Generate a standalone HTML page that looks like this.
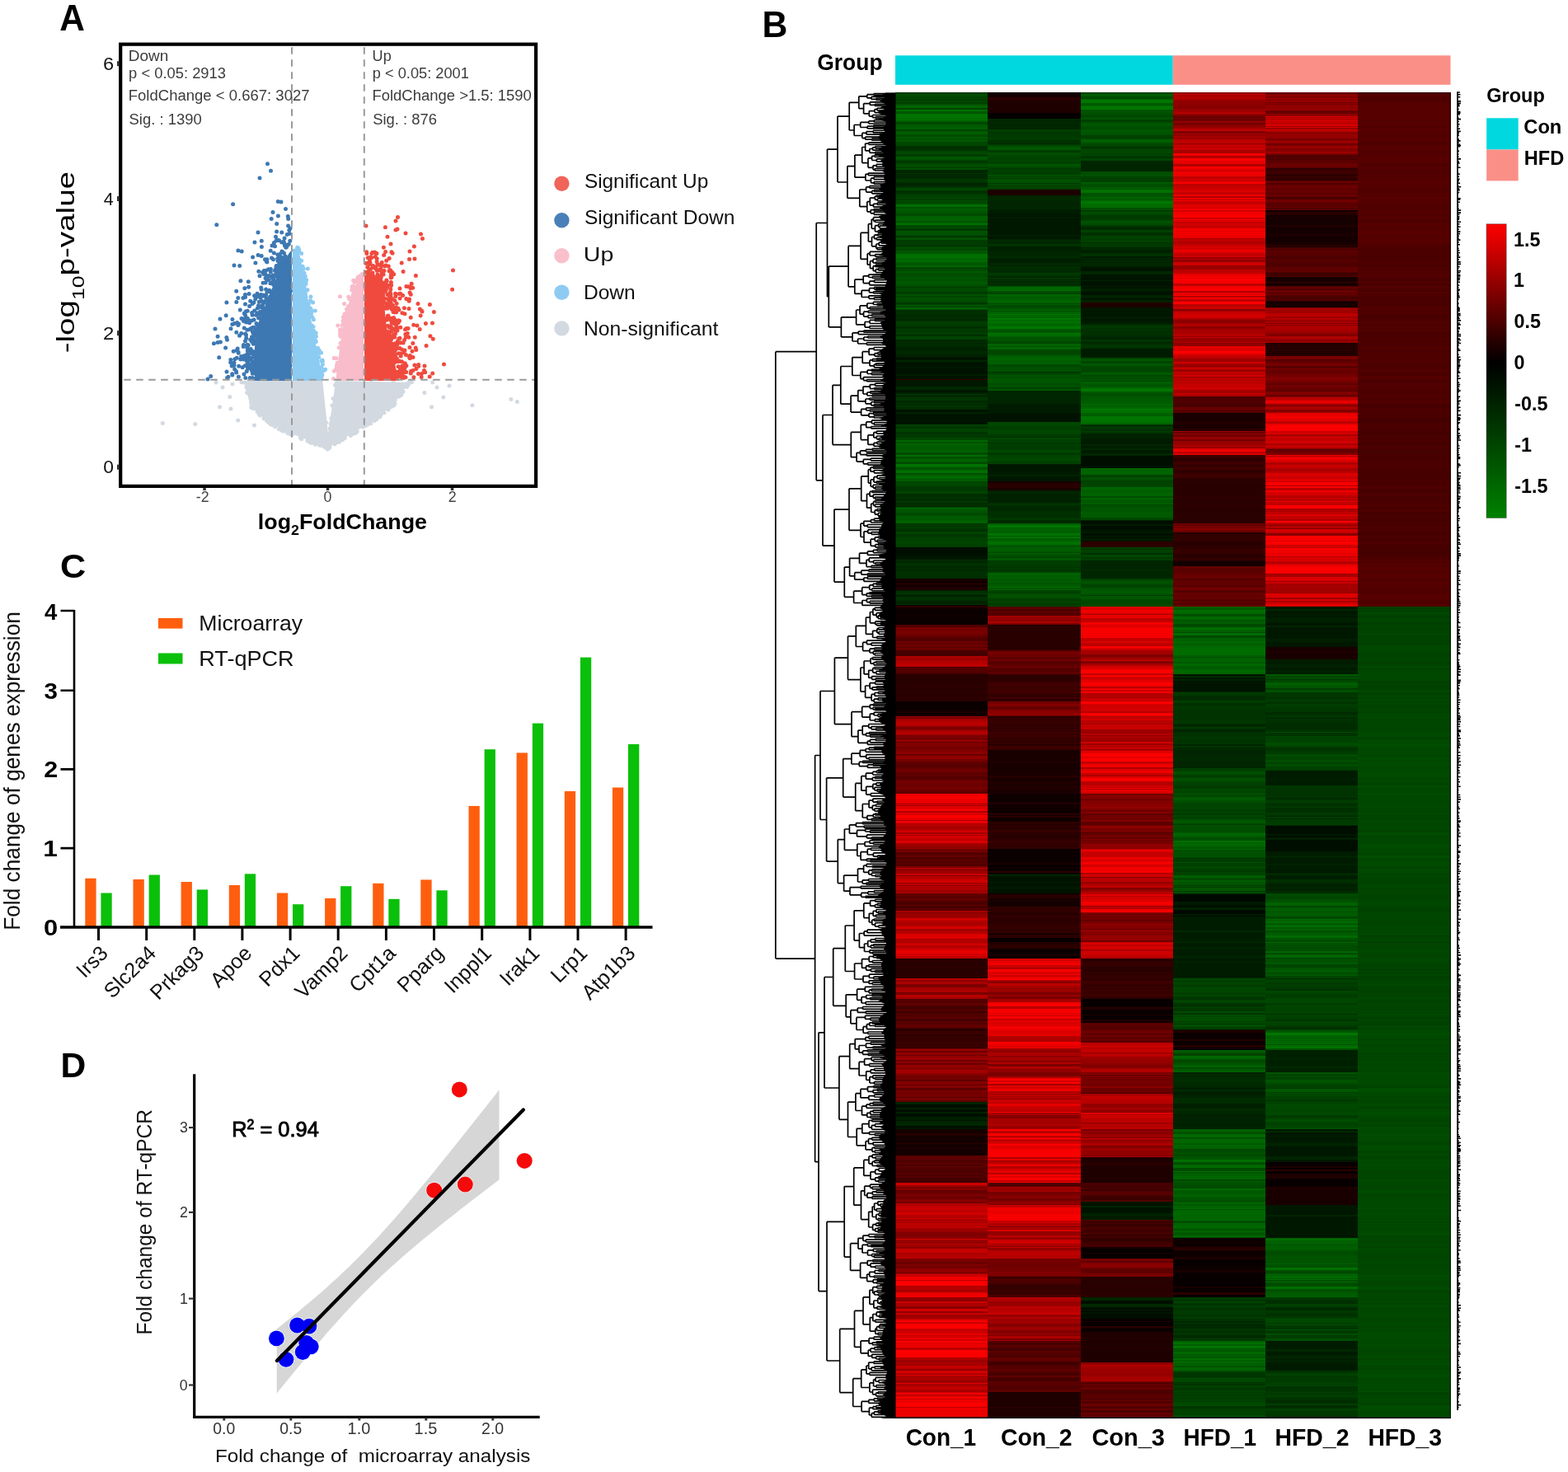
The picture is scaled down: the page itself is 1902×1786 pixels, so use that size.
<!DOCTYPE html>
<html><head><meta charset="utf-8"><style>
html,body{margin:0;padding:0;background:#fff;}
body{width:1902px;height:1786px;position:relative;overflow:hidden;font-family:"Liberation Sans", Arial, Helvetica, sans-serif;}
.hc{position:absolute;}
svg{position:absolute;left:0;top:0;}
text{font-family:"Liberation Sans", Arial, Helvetica, sans-serif;white-space:pre;}
</style></head><body>
<div class="hc" style="left:1086.00px;top:112px;width:112.25px;height:1609px;background:linear-gradient(#004a00 0px 1px,#005300 1px 2px,#004c00 2px 5px,#004400 5px 8px,#004600 8px 9px,#003700 9px 10px,#004700 10px 12px,#003e00 12px 14px,#005100 14px 16px,#006400 16px 18px,#006200 18px 19px,#004100 19px 20px,#004800 20px 21px,#006600 21px 22px,#007600 22px 23px,#005700 23px 26px,#006f00 26px 27px,#007400 27px 31px,#006b00 31px 33px,#007600 33px 34px,#006200 34px 35px,#005c00 35px 36px,#004700 36px 39px,#005a00 39px 42px,#005f00 42px 45px,#004400 45px 47px,#005800 47px 48px,#005e00 48px 50px,#005600 50px 52px,#004a00 52px 54px,#005c00 54px 56px,#004c00 56px 57px,#005700 57px 60px,#004700 60px 63px,#004300 63px 64px,#004800 64px 65px,#003000 65px 66px,#003400 66px 67px,#002f00 67px 70px,#003700 70px 71px,#004300 71px 73px,#004b00 73px 75px,#003c00 75px 78px,#005700 78px 80px,#005300 80px 82px,#004400 82px 83px,#003900 83px 85px,#003f00 85px 87px,#004c00 87px 89px,#005300 89px 90px,#004200 90px 92px,#004f00 92px 93px,#004e00 93px 94px,#002700 94px 98px,#003200 98px 99px,#002700 99px 102px,#002800 102px 105px,#003700 105px 109px,#002d00 109px 110px,#002600 110px 114px,#003200 114px 116px,#004500 116px 119px,#003300 119px 120px,#003100 120px 123px,#003900 123px 124px,#004100 124px 128px,#004d00 128px 129px,#003600 129px 130px,#004500 130px 133px,#004900 133px 136px,#006e00 136px 139px,#005100 139px 141px,#005d00 141px 143px,#005b00 143px 144px,#005600 144px 147px,#004a00 147px 150px,#006000 150px 154px,#006500 154px 155px,#005b00 155px 157px,#005100 157px 158px,#006200 158px 159px,#006f00 159px 161px,#005100 161px 162px,#004600 162px 164px,#005100 164px 165px,#003700 165px 166px,#003c00 166px 168px,#005100 168px 171px,#005000 171px 173px,#004e00 173px 174px,#003400 174px 176px,#005200 176px 179px,#003c00 179px 184px,#003900 184px 188px,#005300 188px 189px,#004700 189px 192px,#005500 192px 196px,#007000 196px 199px,#006e00 199px 200px,#006d00 200px 202px,#006200 202px 204px,#007300 204px 205px,#006100 205px 207px,#005600 207px 210px,#006200 210px 211px,#006600 211px 212px,#004600 212px 215px,#004d00 215px 217px,#005700 217px 219px,#005000 219px 220px,#004b00 220px 221px,#004e00 221px 224px,#005100 224px 225px,#005c00 225px 226px,#005100 226px 229px,#005700 229px 233px,#004e00 233px 236px,#003a00 236px 237px,#004900 237px 239px,#004800 239px 242px,#003d00 242px 245px,#005100 245px 247px,#004600 247px 248px,#004100 248px 249px,#005200 249px 251px,#004c00 251px 254px,#004700 254px 255px,#003800 255px 257px,#004100 257px 258px,#005f00 258px 259px,#004700 259px 261px,#006100 261px 263px,#004d00 263px 264px,#002e00 264px 266px,#003000 266px 269px,#002a00 269px 272px,#002800 272px 273px,#003300 273px 274px,#002800 274px 276px,#002e00 276px 278px,#003d00 278px 281px,#003600 281px 282px,#003f00 282px 283px,#003900 283px 284px,#002e00 284px 287px,#003f00 287px 288px,#003900 288px 291px,#003e00 291px 294px,#002e00 294px 296px,#004300 296px 300px,#002200 300px 301px,#002b00 301px 304px,#002700 304px 306px,#002b00 306px 308px,#002700 308px 310px,#002300 310px 312px,#002000 312px 313px,#002800 313px 317px,#002500 317px 319px,#001b00 319px 320px,#002700 320px 321px,#001300 321px 325px,#002500 325px 327px,#001300 327px 333px,#001900 333px 334px,#001300 334px 336px,#001600 336px 337px,#001300 337px 342px,#001e00 342px 344px,#001300 344px 348px,#3c0000 348px 349px,#001700 349px 352px,#001800 352px 353px,#001700 353px 357px,#002800 357px 361px,#001700 361px 364px,#002000 364px 366px,#003800 366px 367px,#002800 367px 370px,#003600 370px 374px,#002900 374px 377px,#003200 377px 378px,#002e00 378px 380px,#003300 380px 382px,#002c00 382px 385px,#001300 385px 388px,#002100 388px 390px,#001300 390px 396px,#001400 396px 399px,#001300 399px 403px,#004200 403px 405px,#003700 405px 407px,#003300 407px 408px,#004300 408px 412px,#003400 412px 415px,#003900 415px 419px,#004600 419px 422px,#006700 422px 423px,#006a00 423px 424px,#004c00 424px 425px,#005400 425px 426px,#006200 426px 428px,#005b00 428px 430px,#005c00 430px 431px,#005b00 431px 434px,#006000 434px 437px,#004a00 437px 440px,#006e00 440px 442px,#004b00 442px 444px,#005600 444px 445px,#006200 445px 448px,#005300 448px 449px,#004b00 449px 451px,#007300 451px 454px,#006800 454px 455px,#005400 455px 458px,#006500 458px 459px,#006f00 459px 462px,#004b00 462px 464px,#006500 464px 465px,#005e00 465px 466px,#006c00 466px 468px,#005c00 468px 470px,#005800 470px 471px,#006000 471px 472px,#004300 472px 473px,#004400 473px 474px,#004a00 474px 476px,#004300 476px 479px,#003400 479px 480px,#003a00 480px 484px,#004400 484px 487px,#002e00 487px 491px,#003600 491px 492px,#003500 492px 493px,#002900 493px 494px,#002d00 494px 496px,#003a00 496px 498px,#002b00 498px 500px,#003100 500px 501px,#002b00 501px 503px,#004700 503px 504px,#006100 504px 506px,#005400 506px 509px,#005600 509px 510px,#004b00 510px 514px,#005b00 514px 515px,#005800 515px 519px,#006100 519px 523px,#003100 523px 524px,#003e00 524px 526px,#003700 526px 528px,#004600 528px 529px,#003300 529px 533px,#004200 533px 536px,#003600 536px 539px,#003900 539px 540px,#004000 540px 544px,#004400 544px 548px,#004000 548px 551px,#003900 551px 552px,#000e00 552px 561px,#001300 561px 563px,#001600 563px 565px,#001700 565px 567px,#003200 567px 568px,#002400 568px 569px,#002600 569px 571px,#003100 571px 575px,#002600 575px 576px,#002c00 576px 579px,#002a00 579px 581px,#003000 581px 583px,#002f00 583px 587px,#002d00 587px 590px,#140000 590px 596px,#2c0000 596px 597px,#140000 597px 601px,#270000 601px 603px,#140000 603px 604px,#002300 604px 605px,#002d00 605px 606px,#002b00 606px 607px,#003400 607px 609px,#002900 609px 610px,#002100 610px 612px,#003100 612px 616px,#002900 616px 618px,#002300 618px 621px,#002f00 621px 622px,#0a0000 622px 623px,#2b0000 623px 625px,#150000 625px 627px,#0a0000 627px 633px,#0c0000 633px 637px,#0a0000 637px 646px,#500000 646px 649px,#730000 649px 653px,#790000 653px 657px,#710000 657px 659px,#630000 659px 662px,#4f0000 662px 664px,#520000 664px 666px,#7a0000 666px 667px,#630000 667px 669px,#670000 669px 670px,#6c0000 670px 673px,#570000 673px 674px,#700000 674px 675px,#6c0000 675px 677px,#450000 677px 678px,#4e0000 678px 679px,#450000 679px 683px,#460000 683px 684px,#ac0000 684px 687px,#9b0000 687px 689px,#b00000 689px 691px,#b60000 691px 694px,#c10000 694px 696px,#ba0000 696px 697px,#4e0000 697px 698px,#530000 698px 701px,#540000 701px 703px,#4f0000 703px 705px,#420000 705px 706px,#280000 706px 719px,#2d0000 719px 722px,#280000 722px 726px,#2c0000 726px 728px,#2b0000 728px 730px,#280000 730px 734px,#2d0000 734px 736px,#280000 736px 739px,#0a0000 739px 749px,#0d0000 749px 751px,#1d0000 751px 753px,#0a0000 753px 755px,#180000 755px 757px,#950000 757px 758px,#7e0000 758px 760px,#9d0000 760px 761px,#a90000 761px 763px,#b80000 763px 768px,#a30000 768px 770px,#780000 770px 773px,#970000 773px 775px,#b00000 775px 779px,#a10000 779px 780px,#7b0000 780px 783px,#820000 783px 784px,#610000 784px 785px,#900000 785px 788px,#6b0000 788px 789px,#810000 789px 793px,#8a0000 793px 794px,#670000 794px 795px,#780000 795px 798px,#850000 798px 801px,#8c0000 801px 803px,#690000 803px 804px,#670000 804px 805px,#900000 805px 809px,#780000 809px 812px,#5f0000 812px 815px,#570000 815px 818px,#5b0000 818px 820px,#670000 820px 821px,#6e0000 821px 825px,#650000 825px 826px,#560000 826px 827px,#640000 827px 829px,#5a0000 829px 830px,#560000 830px 832px,#520000 832px 834px,#6f0000 834px 836px,#740000 836px 838px,#6f0000 838px 840px,#6c0000 840px 843px,#7a0000 843px 845px,#6b0000 845px 848px,#5d0000 848px 851px,#f40000 851px 855px,#fc0000 855px 857px,#ea0000 857px 861px,#fc0000 861px 862px,#c50000 862px 864px,#c70000 864px 865px,#af0000 865px 866px,#df0000 866px 870px,#fc0000 870px 872px,#ae0000 872px 874px,#e70000 874px 875px,#d90000 875px 877px,#fc0000 877px 880px,#ec0000 880px 883px,#a50000 883px 884px,#fb0000 884px 886px,#d50000 886px 887px,#b70000 887px 888px,#b60000 888px 890px,#b40000 890px 891px,#a60000 891px 894px,#ba0000 894px 896px,#d20000 896px 898px,#a30000 898px 900px,#d70000 900px 901px,#a30000 901px 902px,#d50000 902px 905px,#ca0000 905px 906px,#bf0000 906px 908px,#db0000 908px 911px,#a50000 911px 913px,#a40000 913px 914px,#910000 914px 917px,#990000 917px 918px,#710000 918px 920px,#760000 920px 922px,#530000 922px 926px,#6a0000 926px 927px,#5c0000 927px 928px,#4f0000 928px 931px,#640000 931px 932px,#520000 932px 935px,#5a0000 935px 936px,#550000 936px 937px,#530000 937px 939px,#810000 939px 941px,#bd0000 941px 942px,#940000 942px 944px,#8d0000 944px 945px,#9f0000 945px 948px,#c60000 948px 950px,#880000 950px 951px,#b80000 951px 955px,#d00000 955px 959px,#960000 959px 960px,#b90000 960px 962px,#960000 962px 963px,#b60000 963px 964px,#ae0000 964px 967px,#ac0000 967px 968px,#9f0000 968px 971px,#af0000 971px 972px,#5c0000 972px 973px,#6a0000 973px 974px,#5b0000 974px 976px,#550000 976px 978px,#630000 978px 979px,#690000 979px 980px,#620000 980px 981px,#4d0000 981px 983px,#4a0000 983px 986px,#680000 986px 987px,#480000 987px 990px,#560000 990px 993px,#a70000 993px 995px,#8b0000 995px 997px,#a20000 997px 999px,#8b0000 999px 1000px,#a40000 1000px 1002px,#ce0000 1002px 1005px,#b00000 1005px 1008px,#ab0000 1008px 1010px,#b20000 1010px 1012px,#d50000 1012px 1015px,#a30000 1015px 1018px,#b70000 1018px 1021px,#dd0000 1021px 1027px,#af0000 1027px 1029px,#b40000 1029px 1033px,#e20000 1033px 1034px,#c20000 1034px 1036px,#ae0000 1036px 1038px,#cd0000 1038px 1041px,#eb0000 1041px 1042px,#e70000 1042px 1045px,#d60000 1045px 1048px,#c10000 1048px 1050px,#bb0000 1050px 1051px,#280000 1051px 1054px,#2a0000 1054px 1056px,#280000 1056px 1058px,#2a0000 1058px 1060px,#2d0000 1060px 1062px,#280000 1062px 1071px,#2c0000 1071px 1073px,#290000 1073px 1075px,#ba0000 1075px 1076px,#b70000 1076px 1077px,#900000 1077px 1079px,#a80000 1079px 1082px,#7e0000 1082px 1085px,#790000 1085px 1086px,#a60000 1086px 1090px,#b80000 1090px 1091px,#a10000 1091px 1092px,#7e0000 1092px 1095px,#b70000 1095px 1098px,#a20000 1098px 1100px,#560000 1100px 1103px,#510000 1103px 1105px,#610000 1105px 1108px,#460000 1108px 1111px,#470000 1111px 1113px,#540000 1113px 1115px,#3f0000 1115px 1117px,#520000 1117px 1119px,#4c0000 1119px 1120px,#540000 1120px 1122px,#5a0000 1122px 1124px,#450000 1124px 1127px,#590000 1127px 1129px,#520000 1129px 1131px,#610000 1131px 1135px,#400000 1135px 1137px,#140000 1137px 1138px,#380000 1138px 1141px,#3c0000 1141px 1143px,#2e0000 1143px 1145px,#320000 1145px 1146px,#3a0000 1146px 1147px,#330000 1147px 1151px,#3a0000 1151px 1154px,#3b0000 1154px 1155px,#320000 1155px 1156px,#310000 1156px 1157px,#3f0000 1157px 1159px,#2c0000 1159px 1160px,#6f0000 1160px 1161px,#980000 1161px 1163px,#6b0000 1163px 1165px,#980000 1165px 1166px,#8e0000 1166px 1168px,#6c0000 1168px 1169px,#940000 1169px 1172px,#a10000 1172px 1174px,#6c0000 1174px 1176px,#9c0000 1176px 1177px,#800000 1177px 1178px,#6b0000 1178px 1180px,#930000 1180px 1183px,#870000 1183px 1186px,#a30000 1186px 1190px,#8b0000 1190px 1192px,#790000 1192px 1194px,#720000 1194px 1198px,#5e0000 1198px 1200px,#850000 1200px 1201px,#820000 1201px 1204px,#5e0000 1204px 1205px,#830000 1205px 1208px,#610000 1208px 1209px,#5a0000 1209px 1211px,#770000 1211px 1212px,#800000 1212px 1213px,#720000 1213px 1216px,#770000 1216px 1217px,#740000 1217px 1219px,#5b0000 1219px 1220px,#790000 1220px 1223px,#5e0000 1223px 1225px,#002300 1225px 1228px,#000e00 1228px 1232px,#002200 1232px 1234px,#000e00 1234px 1237px,#002300 1237px 1239px,#000e00 1239px 1243px,#002000 1243px 1247px,#001700 1247px 1248px,#002300 1248px 1250px,#002700 1250px 1254px,#000e00 1254px 1256px,#001800 1256px 1258px,#140000 1258px 1260px,#150000 1260px 1262px,#140000 1262px 1263px,#240000 1263px 1266px,#140000 1266px 1275px,#2b0000 1275px 1276px,#140000 1276px 1281px,#230000 1281px 1282px,#140000 1282px 1290px,#530000 1290px 1291px,#5e0000 1291px 1295px,#500000 1295px 1299px,#5c0000 1299px 1301px,#4b0000 1301px 1303px,#600000 1303px 1304px,#510000 1304px 1307px,#4d0000 1307px 1311px,#520000 1311px 1314px,#450000 1314px 1315px,#580000 1315px 1316px,#4e0000 1316px 1317px,#490000 1317px 1319px,#410000 1319px 1320px,#420000 1320px 1321px,#400000 1321px 1323px,#c10000 1323px 1324px,#cf0000 1324px 1326px,#9d0000 1326px 1328px,#7c0000 1328px 1330px,#900000 1330px 1331px,#810000 1331px 1332px,#630000 1332px 1333px,#6a0000 1333px 1337px,#7f0000 1337px 1339px,#6e0000 1339px 1342px,#680000 1342px 1343px,#840000 1343px 1344px,#880000 1344px 1346px,#730000 1346px 1348px,#b10000 1348px 1350px,#ae0000 1350px 1351px,#c50000 1351px 1354px,#ca0000 1354px 1356px,#be0000 1356px 1359px,#d10000 1359px 1362px,#b90000 1362px 1363px,#b40000 1363px 1366px,#d30000 1366px 1367px,#aa0000 1367px 1368px,#a70000 1368px 1369px,#ad0000 1369px 1372px,#bf0000 1372px 1374px,#b80000 1374px 1376px,#ba0000 1376px 1377px,#c50000 1377px 1378px,#9f0000 1378px 1381px,#980000 1381px 1383px,#810000 1383px 1387px,#7f0000 1387px 1388px,#870000 1388px 1389px,#8c0000 1389px 1391px,#c40000 1391px 1392px,#b20000 1392px 1393px,#920000 1393px 1397px,#bf0000 1397px 1398px,#9e0000 1398px 1401px,#8e0000 1401px 1403px,#c50000 1403px 1405px,#c60000 1405px 1408px,#ae0000 1408px 1411px,#b50000 1411px 1415px,#840000 1415px 1416px,#7b0000 1416px 1419px,#6b0000 1419px 1422px,#800000 1422px 1424px,#710000 1424px 1427px,#8f0000 1427px 1430px,#900000 1430px 1432px,#6d0000 1432px 1433px,#ae0000 1433px 1434px,#cb0000 1434px 1437px,#ed0000 1437px 1439px,#f80000 1439px 1441px,#b60000 1441px 1442px,#fc0000 1442px 1448px,#b40000 1448px 1451px,#ba0000 1451px 1452px,#ac0000 1452px 1456px,#e80000 1456px 1459px,#f30000 1459px 1462px,#920000 1462px 1464px,#900000 1464px 1466px,#8a0000 1466px 1467px,#cb0000 1467px 1469px,#ad0000 1469px 1473px,#880000 1473px 1476px,#d30000 1476px 1479px,#920000 1479px 1481px,#cb0000 1481px 1483px,#9f0000 1483px 1486px,#a10000 1486px 1488px,#cf0000 1488px 1490px,#fa0000 1490px 1492px,#cc0000 1492px 1494px,#f90000 1494px 1496px,#fc0000 1496px 1500px,#d30000 1500px 1501px,#bb0000 1501px 1502px,#c90000 1502px 1503px,#cf0000 1503px 1504px,#cb0000 1504px 1506px,#f90000 1506px 1507px,#d10000 1507px 1508px,#d40000 1508px 1511px,#ec0000 1511px 1513px,#d40000 1513px 1514px,#d00000 1514px 1515px,#fc0000 1515px 1517px,#e30000 1517px 1519px,#eb0000 1519px 1523px,#bb0000 1523px 1526px,#fc0000 1526px 1535px,#af0000 1535px 1538px,#9e0000 1538px 1540px,#a00000 1540px 1542px,#b90000 1542px 1543px,#a10000 1543px 1545px,#c50000 1545px 1548px,#b40000 1548px 1549px,#970000 1549px 1551px,#cd0000 1551px 1553px,#df0000 1553px 1554px,#ab0000 1554px 1556px,#e30000 1556px 1557px,#aa0000 1557px 1561px,#a70000 1561px 1563px,#960000 1563px 1565px,#a70000 1565px 1566px,#dd0000 1566px 1567px,#a80000 1567px 1569px,#a10000 1569px 1570px,#c10000 1570px 1574px,#af0000 1574px 1575px,#a70000 1575px 1577px,#cb0000 1577px 1578px,#f50000 1578px 1580px,#b20000 1580px 1581px,#d80000 1581px 1583px,#fc0000 1583px 1585px,#ca0000 1585px 1586px,#ed0000 1586px 1590px,#fc0000 1590px 1595px,#bb0000 1595px 1596px,#ed0000 1596px 1600px,#e20000 1600px 1601px,#f20000 1601px 1603px,#e80000 1603px 1605px,#fc0000 1605px 1606px,#c70000 1606px 1607px,#f10000 1607px 1609px)"></div>
<div class="hc" style="left:1198.25px;top:112px;width:112.25px;height:1609px;background:linear-gradient(#140000 0px 6px,#2c0000 6px 9px,#250000 9px 10px,#1e0000 10px 23px,#1f0000 23px 25px,#080000 25px 26px,#050000 26px 32px,#002500 32px 33px,#002800 33px 35px,#002500 35px 36px,#002800 36px 38px,#002500 38px 41px,#002800 41px 44px,#002500 44px 45px,#003d00 45px 48px,#003700 48px 49px,#003900 49px 52px,#003800 52px 54px,#003e00 54px 57px,#003d00 57px 58px,#003000 58px 60px,#003200 60px 62px,#002900 62px 63px,#003a00 63px 64px,#004700 64px 66px,#005700 66px 70px,#003f00 70px 72px,#003800 72px 73px,#004d00 73px 76px,#004700 76px 78px,#004200 78px 80px,#004300 80px 82px,#004400 82px 85px,#003e00 85px 86px,#004300 86px 87px,#005300 87px 90px,#004800 90px 92px,#003b00 92px 94px,#004100 94px 96px,#003e00 96px 99px,#003f00 99px 100px,#004f00 100px 102px,#004000 102px 103px,#005100 103px 104px,#003800 104px 105px,#005000 105px 110px,#003800 110px 111px,#004e00 111px 112px,#004200 112px 115px,#004700 115px 116px,#004000 116px 117px,#003a00 117px 118px,#1d0000 118px 121px,#190000 121px 122px,#1d0000 122px 124px,#190000 124px 125px,#002500 125px 128px,#002800 128px 132px,#002500 132px 139px,#002800 139px 140px,#002600 140px 141px,#002500 141px 143px,#001700 143px 144px,#001e00 144px 146px,#001a00 146px 148px,#001700 148px 151px,#001d00 151px 153px,#001700 153px 161px,#001b00 161px 162px,#001700 162px 164px,#001a00 164px 166px,#001700 166px 173px,#001f00 173px 175px,#001700 175px 178px,#002400 178px 179px,#002a00 179px 182px,#002700 182px 184px,#003400 184px 186px,#002c00 186px 187px,#002600 187px 188px,#001f00 188px 190px,#002200 190px 193px,#002700 193px 194px,#002600 194px 198px,#002a00 198px 201px,#002400 201px 202px,#001e00 202px 203px,#001f00 203px 207px,#002700 207px 212px,#003400 212px 213px,#002c00 213px 214px,#002a00 214px 217px,#002b00 217px 219px,#003900 219px 222px,#003400 222px 223px,#002800 223px 225px,#003e00 225px 226px,#002d00 226px 229px,#002a00 229px 231px,#002f00 231px 233px,#002e00 233px 235px,#004d00 235px 236px,#006600 236px 238px,#006700 238px 241px,#005000 241px 242px,#004b00 242px 243px,#004600 243px 245px,#006300 245px 248px,#005400 248px 249px,#006400 249px 250px,#005b00 250px 251px,#005f00 251px 253px,#006700 253px 255px,#005400 255px 259px,#004200 259px 260px,#004d00 260px 262px,#005100 262px 263px,#005c00 263px 264px,#005f00 264px 265px,#005100 265px 266px,#006000 266px 269px,#007500 269px 270px,#006600 270px 274px,#007600 274px 276px,#006a00 276px 278px,#007100 278px 280px,#006600 280px 284px,#007600 284px 287px,#005900 287px 289px,#005200 289px 291px,#005e00 291px 292px,#006e00 292px 294px,#006b00 294px 296px,#005e00 296px 297px,#005200 297px 299px,#005400 299px 302px,#004700 302px 305px,#006300 305px 308px,#004d00 308px 309px,#006900 309px 310px,#006300 310px 312px,#004700 312px 315px,#004800 315px 316px,#004600 316px 318px,#005200 318px 319px,#005500 319px 320px,#005f00 320px 323px,#006800 323px 324px,#006200 324px 325px,#005d00 325px 329px,#006300 329px 330px,#004a00 330px 333px,#004d00 333px 334px,#004e00 334px 337px,#005600 337px 338px,#004800 338px 339px,#003c00 339px 340px,#003b00 340px 341px,#004700 341px 343px,#005600 343px 344px,#005000 344px 346px,#004b00 346px 347px,#005600 347px 348px,#005300 348px 349px,#005700 349px 350px,#005500 350px 353px,#004c00 353px 354px,#004d00 354px 355px,#005000 355px 357px,#004f00 357px 358px,#004200 358px 360px,#005600 360px 362px,#002500 362px 365px,#002900 365px 366px,#002500 366px 368px,#002600 368px 370px,#002500 370px 372px,#002600 372px 373px,#002500 373px 378px,#001c00 378px 388px,#001d00 388px 389px,#001500 389px 390px,#001300 390px 400px,#004700 400px 405px,#003f00 405px 408px,#004000 408px 410px,#004700 410px 413px,#004500 413px 415px,#003b00 415px 418px,#002e00 418px 419px,#004700 419px 421px,#004100 421px 425px,#003600 425px 426px,#003d00 426px 430px,#003c00 430px 434px,#004800 434px 437px,#003c00 437px 438px,#003800 438px 440px,#004200 440px 442px,#004600 442px 444px,#004700 444px 448px,#003b00 448px 449px,#004000 449px 451px,#001d00 451px 452px,#001700 452px 461px,#001b00 461px 463px,#001c00 463px 464px,#002200 464px 466px,#001700 466px 472px,#190000 472px 474px,#1d0000 474px 475px,#2c0000 475px 476px,#290000 476px 480px,#1a0000 480px 482px,#190000 482px 483px,#002100 483px 485px,#002800 485px 487px,#002100 487px 498px,#003100 498px 500px,#003700 500px 501px,#002b00 501px 504px,#002400 504px 506px,#002800 506px 508px,#003000 508px 511px,#002f00 511px 513px,#002e00 513px 515px,#003200 515px 517px,#003900 517px 519px,#002b00 519px 521px,#002800 521px 522px,#002d00 522px 523px,#005e00 523px 525px,#007400 525px 526px,#007500 526px 528px,#006200 528px 532px,#005f00 532px 535px,#007300 535px 538px,#004f00 538px 539px,#007400 539px 541px,#005c00 541px 544px,#006900 544px 545px,#006c00 545px 546px,#006f00 546px 549px,#005500 549px 550px,#005a00 550px 551px,#005000 551px 552px,#005d00 552px 554px,#005f00 554px 555px,#005500 555px 556px,#006600 556px 557px,#004c00 557px 559px,#005f00 559px 560px,#005000 560px 563px,#004600 563px 565px,#005400 565px 566px,#005b00 566px 567px,#005300 567px 568px,#003c00 568px 571px,#003d00 571px 575px,#003600 575px 578px,#004100 578px 579px,#003400 579px 581px,#003f00 581px 583px,#006300 583px 586px,#005a00 586px 587px,#005e00 587px 591px,#005900 591px 593px,#005f00 593px 595px,#005000 595px 596px,#005800 596px 599px,#005f00 599px 600px,#007100 600px 601px,#004c00 601px 602px,#005b00 602px 604px,#004900 604px 605px,#004200 605px 607px,#003c00 607px 608px,#004e00 608px 610px,#005000 610px 613px,#004d00 613px 614px,#003e00 614px 618px,#004d00 618px 619px,#003d00 619px 623px,#004400 623px 624px,#520000 624px 626px,#620000 626px 627px,#4f0000 627px 629px,#5a0000 629px 632px,#520000 632px 635px,#a20000 635px 637px,#960000 637px 639px,#900000 639px 642px,#aa0000 642px 644px,#880000 644px 645px,#720000 645px 646px,#280000 646px 649px,#290000 649px 650px,#280000 650px 667px,#2a0000 667px 669px,#280000 669px 674px,#2c0000 674px 677px,#600000 677px 678px,#5d0000 678px 679px,#790000 679px 681px,#6e0000 681px 685px,#5c0000 685px 687px,#660000 687px 689px,#6d0000 689px 690px,#610000 690px 691px,#540000 691px 693px,#5c0000 693px 694px,#5e0000 694px 697px,#760000 697px 698px,#510000 698px 699px,#5e0000 699px 700px,#540000 700px 704px,#600000 704px 706px,#340000 706px 708px,#2b0000 708px 711px,#2d0000 711px 714px,#360000 714px 716px,#3d0000 716px 718px,#3e0000 718px 722px,#370000 722px 723px,#3d0000 723px 727px,#400000 727px 729px,#3d0000 729px 730px,#330000 730px 731px,#310000 731px 734px,#420000 734px 736px,#2c0000 736px 738px,#360000 738px 739px,#740000 739px 740px,#730000 740px 742px,#820000 742px 745px,#650000 745px 749px,#850000 749px 752px,#8b0000 752px 754px,#900000 754px 756px,#6a0000 756px 757px,#280000 757px 758px,#310000 758px 759px,#320000 759px 761px,#340000 761px 763px,#300000 763px 764px,#420000 764px 765px,#320000 765px 771px,#300000 771px 773px,#3a0000 773px 774px,#300000 774px 776px,#3f0000 776px 778px,#340000 778px 779px,#390000 779px 781px,#3f0000 781px 782px,#310000 782px 786px,#350000 786px 787px,#2a0000 787px 789px,#420000 789px 790px,#2b0000 790px 793px,#3d0000 793px 797px,#340000 797px 798px,#190000 798px 805px,#1e0000 805px 806px,#190000 806px 812px,#230000 812px 813px,#190000 813px 827px,#1d0000 827px 830px,#280000 830px 832px,#190000 832px 836px,#200000 836px 840px,#190000 840px 842px,#220000 842px 844px,#1e0000 844px 847px,#190000 847px 851px,#0f0000 851px 861px,#160000 861px 862px,#220000 862px 864px,#0f0000 864px 866px,#150000 866px 868px,#0f0000 868px 874px,#150000 874px 875px,#290000 875px 877px,#0f0000 877px 878px,#290000 878px 880px,#0f0000 880px 885px,#310000 885px 887px,#240000 887px 889px,#2e0000 889px 890px,#2c0000 890px 893px,#250000 893px 895px,#370000 895px 897px,#2c0000 897px 900px,#310000 900px 901px,#270000 901px 905px,#2e0000 905px 908px,#370000 908px 911px,#310000 911px 914px,#2d0000 914px 916px,#360000 916px 917px,#2e0000 917px 918px,#0a0000 918px 920px,#0e0000 920px 921px,#0a0000 921px 935px,#190000 935px 937px,#0a0000 937px 945px,#2c0000 945px 946px,#290000 946px 947px,#0a0000 947px 948px,#001300 948px 949px,#002200 949px 951px,#001300 951px 958px,#002000 958px 959px,#001300 959px 962px,#001400 962px 964px,#001b00 964px 967px,#001300 967px 972px,#140000 972px 973px,#1d0000 973px 974px,#290000 974px 978px,#140000 978px 980px,#190000 980px 982px,#140000 982px 988px,#350000 988px 989px,#320000 989px 990px,#2f0000 990px 993px,#330000 993px 994px,#300000 994px 995px,#290000 995px 999px,#330000 999px 1001px,#2b0000 1001px 1002px,#2c0000 1002px 1003px,#2b0000 1003px 1004px,#2c0000 1004px 1007px,#270000 1007px 1008px,#2f0000 1008px 1010px,#330000 1010px 1012px,#340000 1012px 1014px,#310000 1014px 1016px,#2e0000 1016px 1020px,#290000 1020px 1021px,#080000 1021px 1022px,#2c0000 1022px 1026px,#080000 1026px 1031px,#240000 1031px 1032px,#230000 1032px 1034px,#2b0000 1034px 1035px,#2c0000 1035px 1038px,#1c0000 1038px 1040px,#080000 1040px 1043px,#110000 1043px 1044px,#0b0000 1044px 1046px,#2a0000 1046px 1047px,#080000 1047px 1051px,#d40000 1051px 1054px,#e90000 1054px 1057px,#f30000 1057px 1059px,#c70000 1059px 1062px,#b10000 1062px 1064px,#fc0000 1064px 1067px,#d90000 1067px 1070px,#f10000 1070px 1071px,#cd0000 1071px 1073px,#e60000 1073px 1075px,#fc0000 1075px 1077px,#b60000 1077px 1078px,#950000 1078px 1080px,#7f0000 1080px 1081px,#bc0000 1081px 1084px,#a60000 1084px 1087px,#870000 1087px 1088px,#a80000 1088px 1089px,#9a0000 1089px 1092px,#7b0000 1092px 1095px,#990000 1095px 1097px,#790000 1097px 1100px,#a40000 1100px 1102px,#a80000 1102px 1104px,#ed0000 1104px 1105px,#f30000 1105px 1106px,#fc0000 1106px 1109px,#b80000 1109px 1112px,#fc0000 1112px 1114px,#ee0000 1114px 1115px,#fc0000 1115px 1117px,#de0000 1117px 1118px,#eb0000 1118px 1120px,#d30000 1120px 1121px,#f90000 1121px 1124px,#c30000 1124px 1126px,#e50000 1126px 1128px,#da0000 1128px 1131px,#e20000 1131px 1132px,#e30000 1132px 1134px,#fc0000 1134px 1136px,#e90000 1136px 1138px,#e50000 1138px 1139px,#d80000 1139px 1141px,#e30000 1141px 1142px,#dc0000 1142px 1144px,#ec0000 1144px 1145px,#b20000 1145px 1148px,#af0000 1148px 1152px,#f50000 1152px 1155px,#ea0000 1155px 1157px,#d70000 1157px 1158px,#e90000 1158px 1160px,#a80000 1160px 1161px,#940000 1161px 1164px,#910000 1164px 1165px,#aa0000 1165px 1169px,#920000 1169px 1171px,#a20000 1171px 1175px,#870000 1175px 1177px,#b20000 1177px 1179px,#7b0000 1179px 1182px,#b90000 1182px 1183px,#aa0000 1183px 1185px,#910000 1185px 1189px,#7e0000 1189px 1190px,#7a0000 1190px 1193px,#7c0000 1193px 1194px,#ab0000 1194px 1195px,#a90000 1195px 1196px,#e50000 1196px 1197px,#fc0000 1197px 1199px,#d20000 1199px 1201px,#fc0000 1201px 1203px,#a40000 1203px 1205px,#e20000 1205px 1207px,#d20000 1207px 1209px,#ef0000 1209px 1211px,#ee0000 1211px 1212px,#b00000 1212px 1216px,#a90000 1216px 1217px,#cb0000 1217px 1218px,#a50000 1218px 1219px,#ab0000 1219px 1223px,#da0000 1223px 1224px,#c80000 1224px 1226px,#b90000 1226px 1227px,#e80000 1227px 1230px,#c70000 1230px 1234px,#bc0000 1234px 1237px,#f30000 1237px 1238px,#a60000 1238px 1241px,#880000 1241px 1243px,#820000 1243px 1245px,#a70000 1245px 1248px,#a30000 1248px 1250px,#a20000 1250px 1252px,#bb0000 1252px 1253px,#a30000 1253px 1255px,#950000 1255px 1257px,#a40000 1257px 1258px,#fc0000 1258px 1260px,#c00000 1260px 1262px,#ac0000 1262px 1263px,#fc0000 1263px 1266px,#c40000 1266px 1267px,#b10000 1267px 1268px,#e20000 1268px 1269px,#fc0000 1269px 1270px,#d00000 1270px 1271px,#ba0000 1271px 1273px,#d40000 1273px 1276px,#fc0000 1276px 1278px,#e10000 1278px 1282px,#f60000 1282px 1286px,#fc0000 1286px 1288px,#fa0000 1288px 1290px,#fc0000 1290px 1292px,#b10000 1292px 1294px,#f20000 1294px 1295px,#d90000 1295px 1296px,#b00000 1296px 1299px,#cc0000 1299px 1301px,#ee0000 1301px 1303px,#b20000 1303px 1306px,#d80000 1306px 1307px,#d00000 1307px 1308px,#e40000 1308px 1309px,#e50000 1309px 1311px,#b50000 1311px 1313px,#fc0000 1313px 1315px,#dd0000 1315px 1317px,#fc0000 1317px 1320px,#c40000 1320px 1322px,#e90000 1322px 1323px,#5f0000 1323px 1324px,#4c0000 1324px 1327px,#620000 1327px 1328px,#9d0000 1328px 1331px,#8f0000 1331px 1332px,#a30000 1332px 1334px,#760000 1334px 1338px,#850000 1338px 1341px,#8e0000 1341px 1342px,#700000 1342px 1344px,#7a0000 1344px 1346px,#900000 1346px 1349px,#7e0000 1349px 1350px,#c50000 1350px 1353px,#e90000 1353px 1355px,#f80000 1355px 1356px,#eb0000 1356px 1359px,#ea0000 1359px 1360px,#e90000 1360px 1361px,#f70000 1361px 1365px,#fb0000 1365px 1366px,#f50000 1366px 1369px,#c60000 1369px 1372px,#b70000 1372px 1373px,#9c0000 1373px 1374px,#c90000 1374px 1375px,#950000 1375px 1377px,#a10000 1377px 1378px,#b50000 1378px 1379px,#980000 1379px 1380px,#d90000 1380px 1382px,#930000 1382px 1386px,#950000 1386px 1387px,#b60000 1387px 1388px,#c10000 1388px 1389px,#9f0000 1389px 1390px,#960000 1390px 1392px,#ca0000 1392px 1395px,#de0000 1395px 1396px,#b70000 1396px 1399px,#9a0000 1399px 1400px,#930000 1400px 1401px,#c70000 1401px 1402px,#920000 1402px 1405px,#b50000 1405px 1408px,#bf0000 1408px 1410px,#b70000 1410px 1413px,#b50000 1413px 1415px,#740000 1415px 1419px,#720000 1419px 1422px,#6b0000 1422px 1424px,#730000 1424px 1428px,#760000 1428px 1431px,#820000 1431px 1433px,#7e0000 1433px 1436px,#670000 1436px 1437px,#3c0000 1437px 1439px,#490000 1439px 1441px,#4a0000 1441px 1444px,#480000 1444px 1446px,#390000 1446px 1447px,#340000 1447px 1449px,#330000 1449px 1451px,#350000 1451px 1454px,#460000 1454px 1455px,#350000 1455px 1459px,#4d0000 1459px 1462px,#b40000 1462px 1464px,#b00000 1464px 1467px,#980000 1467px 1471px,#9d0000 1471px 1473px,#ba0000 1473px 1476px,#b30000 1476px 1477px,#b80000 1477px 1479px,#bd0000 1479px 1480px,#c40000 1480px 1483px,#a00000 1483px 1484px,#8d0000 1484px 1485px,#9c0000 1485px 1486px,#b20000 1486px 1488px,#9c0000 1488px 1491px,#a10000 1491px 1494px,#850000 1494px 1498px,#9f0000 1498px 1502px,#810000 1502px 1506px,#9f0000 1506px 1507px,#880000 1507px 1509px,#ac0000 1509px 1510px,#a90000 1510px 1512px,#7b0000 1512px 1514px,#a30000 1514px 1515px,#550000 1515px 1516px,#4e0000 1516px 1518px,#440000 1518px 1519px,#4f0000 1519px 1521px,#5f0000 1521px 1522px,#4e0000 1522px 1524px,#460000 1524px 1525px,#430000 1525px 1527px,#5b0000 1527px 1529px,#520000 1529px 1532px,#4b0000 1532px 1535px,#620000 1535px 1539px,#5a0000 1539px 1540px,#4c0000 1540px 1541px,#400000 1541px 1544px,#470000 1544px 1545px,#560000 1545px 1547px,#520000 1547px 1549px,#5f0000 1549px 1550px,#620000 1550px 1551px,#580000 1551px 1553px,#490000 1553px 1557px,#630000 1557px 1559px,#450000 1559px 1564px,#5d0000 1564px 1566px,#580000 1566px 1569px,#510000 1569px 1573px,#520000 1573px 1574px,#5c0000 1574px 1577px,#1e0000 1577px 1587px,#240000 1587px 1588px,#1e0000 1588px 1595px,#290000 1595px 1597px,#1e0000 1597px 1609px)"></div>
<div class="hc" style="left:1310.50px;top:112px;width:112.25px;height:1609px;background:linear-gradient(#005b00 0px 1px,#005c00 1px 5px,#004c00 5px 8px,#005d00 8px 9px,#007600 9px 13px,#005900 13px 16px,#006a00 16px 17px,#007500 17px 21px,#005500 21px 25px,#004d00 25px 28px,#004400 28px 30px,#005300 30px 33px,#003e00 33px 35px,#004500 35px 37px,#005700 37px 40px,#005200 40px 42px,#004c00 42px 45px,#005700 45px 49px,#005400 49px 51px,#005100 51px 52px,#004000 52px 56px,#004900 56px 57px,#005e00 57px 61px,#004d00 61px 63px,#004600 63px 65px,#004200 65px 66px,#003300 66px 67px,#003400 67px 68px,#003d00 68px 69px,#004600 69px 72px,#004900 72px 74px,#003e00 74px 75px,#004100 75px 78px,#003300 78px 80px,#004400 80px 83px,#002700 83px 86px,#002500 86px 90px,#002600 90px 92px,#002500 92px 96px,#004b00 96px 97px,#004d00 97px 99px,#005200 99px 102px,#004400 102px 103px,#004000 103px 107px,#003d00 107px 109px,#005c00 109px 111px,#004f00 111px 115px,#005a00 115px 116px,#005c00 116px 117px,#005600 117px 118px,#006c00 118px 119px,#007300 119px 121px,#007100 121px 122px,#005100 122px 125px,#005600 125px 127px,#006000 127px 129px,#005a00 129px 131px,#006500 131px 132px,#007600 132px 135px,#007000 135px 136px,#006b00 136px 140px,#004e00 140px 143px,#003c00 143px 145px,#004e00 145px 147px,#004800 147px 149px,#003d00 149px 151px,#003a00 151px 153px,#003b00 153px 155px,#004d00 155px 157px,#005200 157px 159px,#004a00 159px 161px,#003c00 161px 163px,#002b00 163px 167px,#004100 167px 170px,#003000 170px 174px,#004100 174px 177px,#003e00 177px 180px,#004200 180px 182px,#003200 182px 183px,#003a00 183px 187px,#003400 187px 188px,#002800 188px 189px,#002b00 189px 191px,#002100 191px 195px,#003000 195px 197px,#003200 197px 199px,#001c00 199px 201px,#002500 201px 206px,#002100 206px 207px,#002900 207px 208px,#002700 208px 211px,#001c00 211px 213px,#001300 213px 217px,#002700 217px 221px,#001500 221px 225px,#001300 225px 228px,#002100 228px 229px,#001300 229px 234px,#001700 234px 237px,#001300 237px 238px,#001f00 238px 242px,#001300 242px 246px,#002200 246px 250px,#001300 250px 252px,#002600 252px 253px,#002200 253px 255px,#280000 255px 256px,#1e0000 256px 261px,#001700 261px 273px,#002500 273px 274px,#001700 274px 277px,#001a00 277px 278px,#001700 278px 279px,#002000 279px 282px,#003400 282px 283px,#003700 283px 286px,#003100 286px 289px,#003000 289px 295px,#002a00 295px 297px,#002500 297px 300px,#003500 300px 301px,#003200 301px 303px,#002800 303px 305px,#003100 305px 307px,#003600 307px 309px,#002e00 309px 310px,#003000 310px 311px,#001c00 311px 320px,#001e00 320px 322px,#004800 322px 324px,#005700 324px 326px,#004300 326px 327px,#004600 327px 329px,#005600 329px 332px,#004700 332px 334px,#004600 334px 339px,#004d00 339px 340px,#005800 340px 343px,#004800 343px 345px,#004f00 345px 348px,#005300 348px 350px,#004900 350px 351px,#005d00 351px 354px,#005500 354px 357px,#005a00 357px 358px,#006900 358px 360px,#007600 360px 363px,#005900 363px 365px,#004d00 365px 368px,#005500 368px 371px,#005800 371px 374px,#005c00 374px 377px,#005f00 377px 378px,#006300 378px 380px,#006000 380px 382px,#006800 382px 384px,#007600 384px 386px,#007000 386px 389px,#005f00 389px 391px,#005e00 391px 393px,#007600 393px 396px,#007300 396px 398px,#007000 398px 399px,#007300 399px 401px,#005e00 401px 402px,#007000 402px 403px,#002b00 403px 405px,#003300 405px 406px,#003b00 406px 408px,#003100 408px 411px,#003900 411px 413px,#002b00 413px 414px,#002900 414px 415px,#001c00 415px 416px,#002300 416px 420px,#001c00 420px 427px,#002600 427px 429px,#001c00 429px 430px,#002000 430px 431px,#001c00 431px 432px,#002900 432px 434px,#001c00 434px 438px,#002700 438px 440px,#002400 440px 441px,#000e00 441px 453px,#001600 453px 455px,#000e00 455px 456px,#006300 456px 461px,#006500 461px 464px,#004300 464px 467px,#005200 467px 470px,#004800 470px 471px,#004300 471px 475px,#004600 475px 478px,#004200 478px 479px,#006500 479px 482px,#005f00 482px 486px,#006500 486px 489px,#006300 489px 490px,#004c00 490px 492px,#006500 492px 494px,#005900 494px 497px,#005500 497px 498px,#006100 498px 499px,#005700 499px 500px,#004d00 500px 503px,#005600 503px 506px,#005500 506px 509px,#005b00 509px 513px,#005400 513px 514px,#006200 514px 515px,#004f00 515px 517px,#004500 517px 519px,#002200 519px 520px,#000e00 520px 524px,#001d00 524px 526px,#000e00 526px 531px,#001700 531px 534px,#001f00 534px 535px,#000e00 535px 537px,#001000 537px 538px,#001b00 538px 539px,#001400 539px 542px,#002300 542px 543px,#001300 543px 545px,#290000 545px 546px,#2d0000 546px 550px,#280000 550px 552px,#004800 552px 553px,#003900 553px 554px,#003000 554px 555px,#004400 555px 556px,#004000 556px 559px,#002e00 559px 561px,#004500 561px 564px,#003300 564px 565px,#003e00 565px 568px,#002500 568px 579px,#002900 579px 581px,#002600 581px 584px,#002500 584px 586px,#002600 586px 589px,#002500 589px 590px,#004000 590px 592px,#004a00 592px 593px,#005700 593px 594px,#005000 594px 596px,#004f00 596px 597px,#004400 597px 601px,#005200 601px 603px,#005900 603px 609px,#004b00 609px 610px,#003c00 610px 611px,#005600 611px 615px,#004900 615px 618px,#004400 618px 619px,#004700 619px 623px,#004a00 623px 624px,#da0000 624px 628px,#fc0000 628px 629px,#ed0000 629px 632px,#d00000 632px 633px,#b00000 633px 634px,#e80000 634px 638px,#ba0000 638px 640px,#c40000 640px 643px,#e90000 643px 644px,#fc0000 644px 646px,#d30000 646px 647px,#e30000 647px 650px,#f90000 650px 653px,#f70000 653px 657px,#fc0000 657px 658px,#f40000 658px 661px,#fc0000 661px 662px,#c30000 662px 666px,#d90000 666px 668px,#bf0000 668px 669px,#bd0000 669px 672px,#fa0000 672px 675px,#b50000 675px 676px,#d50000 676px 677px,#a40000 677px 680px,#a30000 680px 682px,#800000 682px 686px,#b50000 686px 687px,#840000 687px 688px,#bf0000 688px 690px,#800000 690px 693px,#a20000 693px 695px,#ba0000 695px 696px,#c90000 696px 697px,#da0000 697px 699px,#d40000 699px 700px,#f50000 700px 701px,#fb0000 701px 705px,#c70000 705px 707px,#f00000 707px 710px,#b30000 710px 711px,#dd0000 711px 712px,#d00000 712px 713px,#e30000 713px 715px,#e70000 715px 716px,#fc0000 716px 719px,#f70000 719px 720px,#ef0000 720px 721px,#b70000 721px 723px,#e90000 723px 724px,#fc0000 724px 725px,#c60000 725px 727px,#fc0000 727px 728px,#f60000 728px 729px,#b20000 729px 730px,#b30000 730px 734px,#b70000 734px 736px,#d10000 736px 738px,#b50000 738px 739px,#fc0000 739px 742px,#d70000 742px 743px,#ce0000 743px 745px,#d10000 745px 748px,#d30000 748px 751px,#b30000 751px 753px,#fc0000 753px 754px,#f90000 754px 756px,#df0000 756px 757px,#b70000 757px 758px,#c20000 758px 760px,#d10000 760px 762px,#b80000 762px 764px,#ba0000 764px 766px,#a40000 766px 767px,#c60000 767px 770px,#c80000 770px 773px,#9c0000 773px 777px,#9a0000 777px 778px,#b70000 778px 780px,#910000 780px 781px,#aa0000 781px 783px,#9e0000 783px 785px,#9b0000 785px 788px,#ce0000 788px 790px,#a10000 790px 792px,#b50000 792px 795px,#c70000 795px 797px,#8e0000 797px 798px,#b40000 798px 799px,#e10000 799px 802px,#fc0000 802px 806px,#e20000 806px 808px,#fc0000 808px 812px,#c10000 812px 814px,#cf0000 814px 815px,#e90000 815px 816px,#f10000 816px 819px,#ab0000 819px 821px,#e00000 821px 823px,#ee0000 823px 826px,#ca0000 826px 827px,#c90000 827px 828px,#b00000 828px 830px,#d90000 830px 832px,#fc0000 832px 836px,#b60000 836px 839px,#b90000 839px 841px,#ce0000 841px 844px,#e20000 844px 845px,#c90000 845px 847px,#fc0000 847px 848px,#db0000 848px 850px,#d00000 850px 851px,#700000 851px 853px,#870000 853px 857px,#6e0000 857px 858px,#770000 858px 860px,#850000 860px 862px,#840000 862px 864px,#8b0000 864px 867px,#900000 867px 869px,#800000 869px 871px,#6a0000 871px 873px,#8c0000 873px 874px,#800000 874px 875px,#5f0000 875px 876px,#670000 876px 879px,#7c0000 879px 880px,#6a0000 880px 882px,#7e0000 882px 885px,#5c0000 885px 887px,#5f0000 887px 889px,#6e0000 889px 890px,#8f0000 890px 893px,#750000 893px 896px,#8c0000 896px 897px,#610000 897px 899px,#5e0000 899px 901px,#740000 901px 904px,#650000 904px 906px,#7e0000 906px 907px,#6f0000 907px 909px,#780000 909px 912px,#900000 912px 916px,#8b0000 916px 918px,#c20000 918px 919px,#f70000 919px 920px,#d90000 920px 922px,#c60000 922px 925px,#bd0000 925px 926px,#c80000 926px 928px,#e70000 928px 929px,#f90000 929px 930px,#da0000 930px 934px,#fc0000 934px 936px,#e00000 936px 938px,#d50000 938px 940px,#f10000 940px 944px,#f80000 944px 947px,#aa0000 947px 948px,#bc0000 948px 949px,#d00000 949px 952px,#870000 952px 953px,#b90000 953px 958px,#980000 958px 960px,#a90000 960px 962px,#be0000 962px 965px,#860000 965px 968px,#980000 968px 970px,#b80000 970px 972px,#b00000 972px 973px,#e70000 973px 975px,#bb0000 975px 976px,#d40000 976px 977px,#d10000 977px 979px,#de0000 979px 981px,#d70000 981px 982px,#f30000 982px 985px,#f40000 985px 986px,#db0000 986px 987px,#af0000 987px 988px,#b20000 988px 991px,#f30000 991px 995px,#8c0000 995px 996px,#730000 996px 1000px,#690000 1000px 1001px,#720000 1001px 1004px,#630000 1004px 1006px,#800000 1006px 1007px,#650000 1007px 1008px,#8d0000 1008px 1011px,#820000 1011px 1015px,#650000 1015px 1016px,#910000 1016px 1017px,#950000 1017px 1019px,#840000 1019px 1023px,#970000 1023px 1026px,#950000 1026px 1028px,#900000 1028px 1029px,#6e0000 1029px 1031px,#c50000 1031px 1032px,#dd0000 1032px 1034px,#c00000 1034px 1036px,#d40000 1036px 1039px,#d20000 1039px 1040px,#9e0000 1040px 1041px,#b50000 1041px 1042px,#ce0000 1042px 1046px,#c20000 1046px 1049px,#b20000 1049px 1051px,#2c0000 1051px 1053px,#290000 1053px 1055px,#330000 1055px 1058px,#340000 1058px 1061px,#2a0000 1061px 1065px,#260000 1065px 1067px,#310000 1067px 1068px,#370000 1068px 1069px,#260000 1069px 1070px,#320000 1070px 1074px,#350000 1074px 1076px,#260000 1076px 1077px,#370000 1077px 1079px,#410000 1079px 1081px,#380000 1081px 1082px,#320000 1082px 1083px,#340000 1083px 1085px,#390000 1085px 1086px,#330000 1086px 1089px,#3f0000 1089px 1090px,#390000 1090px 1093px,#350000 1093px 1094px,#410000 1094px 1095px,#3b0000 1095px 1097px,#2e0000 1097px 1100px,#080000 1100px 1110px,#2b0000 1110px 1111px,#200000 1111px 1113px,#080000 1113px 1119px,#220000 1119px 1120px,#080000 1120px 1125px,#1e0000 1125px 1128px,#080000 1128px 1129px,#570000 1129px 1130px,#5e0000 1130px 1132px,#570000 1132px 1135px,#580000 1135px 1138px,#6c0000 1138px 1139px,#6e0000 1139px 1142px,#4e0000 1142px 1143px,#650000 1143px 1144px,#690000 1144px 1147px,#4f0000 1147px 1148px,#650000 1148px 1151px,#550000 1151px 1153px,#bb0000 1153px 1156px,#c60000 1156px 1159px,#bb0000 1159px 1161px,#c40000 1161px 1164px,#bb0000 1164px 1165px,#a30000 1165px 1167px,#c60000 1167px 1168px,#b70000 1168px 1170px,#9e0000 1170px 1173px,#970000 1173px 1177px,#8f0000 1177px 1180px,#810000 1180px 1181px,#7e0000 1181px 1183px,#940000 1183px 1185px,#b70000 1185px 1186px,#b20000 1186px 1188px,#ae0000 1188px 1189px,#7e0000 1189px 1191px,#880000 1191px 1192px,#670000 1192px 1194px,#8a0000 1194px 1195px,#730000 1195px 1199px,#780000 1199px 1200px,#740000 1200px 1203px,#720000 1203px 1206px,#8b0000 1206px 1208px,#6a0000 1208px 1213px,#610000 1213px 1215px,#830000 1215px 1216px,#ca0000 1216px 1217px,#960000 1217px 1218px,#c90000 1218px 1220px,#bd0000 1220px 1221px,#b80000 1221px 1224px,#b70000 1224px 1227px,#930000 1227px 1230px,#8e0000 1230px 1232px,#b10000 1232px 1233px,#a40000 1233px 1234px,#930000 1234px 1236px,#8c0000 1236px 1238px,#dd0000 1238px 1240px,#b20000 1240px 1241px,#ce0000 1241px 1244px,#bc0000 1244px 1250px,#970000 1250px 1251px,#ab0000 1251px 1253px,#c70000 1253px 1254px,#ae0000 1254px 1256px,#cc0000 1256px 1257px,#b60000 1257px 1258px,#7e0000 1258px 1260px,#900000 1260px 1261px,#910000 1261px 1262px,#7d0000 1262px 1263px,#930000 1263px 1264px,#940000 1264px 1266px,#b20000 1266px 1267px,#880000 1267px 1269px,#b30000 1269px 1271px,#8a0000 1271px 1273px,#ae0000 1273px 1274px,#8d0000 1274px 1275px,#b50000 1275px 1277px,#a10000 1277px 1278px,#810000 1278px 1280px,#8c0000 1280px 1282px,#ab0000 1282px 1283px,#8f0000 1283px 1284px,#940000 1284px 1288px,#8e0000 1288px 1290px,#7c0000 1290px 1291px,#b60000 1291px 1292px,#1e0000 1292px 1296px,#210000 1296px 1297px,#200000 1297px 1299px,#2c0000 1299px 1301px,#240000 1301px 1303px,#1e0000 1303px 1309px,#230000 1309px 1310px,#1e0000 1310px 1323px,#480000 1323px 1327px,#450000 1327px 1328px,#3e0000 1328px 1329px,#4e0000 1329px 1330px,#4a0000 1330px 1331px,#3c0000 1331px 1333px,#530000 1333px 1335px,#590000 1335px 1338px,#410000 1338px 1340px,#420000 1340px 1341px,#3b0000 1341px 1344px,#4c0000 1344px 1345px,#560000 1345px 1346px,#001900 1346px 1347px,#001300 1347px 1351px,#002300 1351px 1353px,#001300 1353px 1360px,#002100 1360px 1362px,#002200 1362px 1364px,#001500 1364px 1366px,#001e00 1366px 1368px,#4b0000 1368px 1369px,#4d0000 1369px 1370px,#320000 1370px 1371px,#440000 1371px 1373px,#390000 1373px 1376px,#3c0000 1376px 1377px,#4a0000 1377px 1379px,#410000 1379px 1381px,#3f0000 1381px 1383px,#460000 1383px 1386px,#350000 1386px 1388px,#420000 1388px 1390px,#330000 1390px 1394px,#380000 1394px 1395px,#410000 1395px 1397px,#440000 1397px 1401px,#160000 1401px 1403px,#050000 1403px 1408px,#200000 1408px 1409px,#050000 1409px 1415px,#640000 1415px 1416px,#890000 1416px 1417px,#6f0000 1417px 1418px,#610000 1418px 1420px,#7d0000 1420px 1421px,#850000 1421px 1422px,#8b0000 1422px 1425px,#8a0000 1425px 1426px,#6b0000 1426px 1428px,#5c0000 1428px 1430px,#610000 1430px 1433px,#7a0000 1433px 1434px,#790000 1434px 1437px,#290000 1437px 1438px,#280000 1438px 1447px,#2c0000 1447px 1450px,#280000 1450px 1457px,#2c0000 1457px 1460px,#280000 1460px 1462px,#002500 1462px 1465px,#002900 1465px 1466px,#000e00 1466px 1470px,#002a00 1470px 1474px,#000e00 1474px 1477px,#001900 1477px 1478px,#000e00 1478px 1480px,#001400 1480px 1482px,#000e00 1482px 1488px,#080000 1488px 1491px,#1e0000 1491px 1492px,#080000 1492px 1497px,#2a0000 1497px 1499px,#180000 1499px 1500px,#080000 1500px 1502px,#0d0000 1502px 1504px,#200000 1504px 1505px,#1e0000 1505px 1511px,#2a0000 1511px 1512px,#1e0000 1512px 1517px,#220000 1517px 1519px,#1e0000 1519px 1521px,#220000 1521px 1525px,#200000 1525px 1526px,#1e0000 1526px 1527px,#210000 1527px 1529px,#1e0000 1529px 1536px,#210000 1536px 1537px,#1e0000 1537px 1540px,#230000 1540px 1541px,#8a0000 1541px 1543px,#a50000 1543px 1545px,#b40000 1545px 1546px,#a20000 1546px 1549px,#9b0000 1549px 1555px,#930000 1555px 1557px,#a00000 1557px 1559px,#a70000 1559px 1563px,#b40000 1563px 1564px,#660000 1564px 1566px,#4e0000 1566px 1567px,#640000 1567px 1570px,#4b0000 1570px 1571px,#690000 1571px 1574px,#4e0000 1574px 1578px,#500000 1578px 1580px,#5a0000 1580px 1584px,#550000 1584px 1587px,#670000 1587px 1588px,#510000 1588px 1591px,#6b0000 1591px 1594px,#520000 1594px 1597px,#680000 1597px 1599px,#4b0000 1599px 1602px,#6a0000 1602px 1604px,#5b0000 1604px 1606px,#650000 1606px 1608px,#4c0000 1608px 1609px)"></div>
<div class="hc" style="left:1422.75px;top:112px;width:112.25px;height:1609px;background:linear-gradient(#be0000 0px 3px,#ac0000 3px 5px,#aa0000 5px 6px,#b90000 6px 8px,#a50000 8px 10px,#8b0000 10px 11px,#900000 11px 15px,#8b0000 15px 18px,#810000 18px 20px,#9d0000 20px 24px,#b10000 24px 26px,#a10000 26px 27px,#810000 27px 29px,#640000 29px 31px,#7a0000 31px 32px,#680000 32px 34px,#740000 34px 35px,#9b0000 35px 36px,#8b0000 36px 37px,#780000 37px 40px,#8d0000 40px 42px,#960000 42px 43px,#a80000 43px 45px,#c30000 45px 47px,#800000 47px 50px,#a70000 50px 51px,#920000 51px 53px,#a60000 53px 55px,#9b0000 55px 57px,#bb0000 57px 60px,#cf0000 60px 61px,#a90000 61px 64px,#d20000 64px 65px,#c00000 65px 68px,#cc0000 68px 70px,#a60000 70px 74px,#f30000 74px 77px,#b20000 77px 80px,#fb0000 80px 83px,#e50000 83px 87px,#b00000 87px 88px,#b30000 88px 90px,#f80000 90px 93px,#d90000 93px 97px,#fc0000 97px 98px,#ed0000 98px 99px,#e80000 99px 101px,#f10000 101px 102px,#c10000 102px 105px,#d20000 105px 109px,#fc0000 109px 111px,#c00000 111px 115px,#cb0000 115px 118px,#d40000 118px 120px,#df0000 120px 121px,#c40000 121px 124px,#ef0000 124px 126px,#b30000 126px 128px,#ea0000 128px 130px,#c20000 130px 131px,#fc0000 131px 132px,#c40000 132px 136px,#e30000 136px 140px,#cc0000 140px 141px,#fc0000 141px 143px,#d30000 143px 145px,#f30000 145px 149px,#fc0000 149px 152px,#ca0000 152px 154px,#fc0000 154px 155px,#de0000 155px 157px,#c50000 157px 159px,#d10000 159px 162px,#c70000 162px 165px,#f40000 165px 168px,#ed0000 168px 170px,#f80000 170px 171px,#ef0000 171px 174px,#ea0000 174px 177px,#b10000 177px 178px,#be0000 178px 181px,#b00000 181px 184px,#c40000 184px 187px,#db0000 187px 188px,#d20000 188px 191px,#e50000 191px 192px,#fc0000 192px 193px,#d50000 193px 194px,#e60000 194px 195px,#c30000 195px 198px,#c60000 198px 199px,#d20000 199px 200px,#930000 200px 201px,#a50000 201px 204px,#900000 204px 206px,#cc0000 206px 209px,#d00000 209px 210px,#990000 210px 212px,#9b0000 212px 215px,#bd0000 215px 219px,#ce0000 219px 221px,#fc0000 221px 222px,#de0000 222px 223px,#fc0000 223px 225px,#df0000 225px 226px,#fc0000 226px 229px,#f50000 229px 232px,#bf0000 232px 235px,#f40000 235px 238px,#fc0000 238px 241px,#b10000 241px 243px,#e70000 243px 246px,#f90000 246px 247px,#b60000 247px 249px,#fc0000 249px 251px,#c00000 251px 254px,#fc0000 254px 257px,#c70000 257px 258px,#ad0000 258px 259px,#c70000 259px 263px,#8d0000 263px 264px,#8a0000 264px 265px,#a20000 265px 266px,#c70000 266px 267px,#c20000 267px 268px,#d00000 268px 274px,#a80000 274px 276px,#8e0000 276px 280px,#9b0000 280px 281px,#b20000 281px 284px,#8a0000 284px 287px,#a90000 287px 289px,#a60000 289px 293px,#b70000 293px 296px,#910000 296px 297px,#cb0000 297px 298px,#960000 298px 302px,#a50000 302px 304px,#900000 304px 308px,#e60000 308px 310px,#e00000 310px 311px,#de0000 311px 314px,#fc0000 314px 316px,#ef0000 316px 318px,#ca0000 318px 321px,#af0000 321px 322px,#ca0000 322px 323px,#9d0000 323px 326px,#9e0000 326px 327px,#d30000 327px 328px,#bb0000 328px 330px,#980000 330px 332px,#9c0000 332px 334px,#e10000 334px 335px,#b60000 335px 337px,#920000 337px 339px,#d00000 339px 340px,#bc0000 340px 341px,#ba0000 341px 343px,#d00000 343px 345px,#a60000 345px 347px,#c10000 347px 348px,#bb0000 348px 350px,#bd0000 350px 354px,#c40000 354px 357px,#ca0000 357px 358px,#cd0000 358px 361px,#a50000 361px 365px,#bf0000 365px 367px,#a70000 367px 368px,#ae0000 368px 369px,#4c0000 369px 374px,#500000 374px 377px,#440000 377px 378px,#4b0000 378px 382px,#670000 382px 386px,#470000 386px 387px,#630000 387px 388px,#4f0000 388px 389px,#190000 389px 392px,#1d0000 392px 393px,#190000 393px 400px,#250000 400px 403px,#1b0000 403px 405px,#190000 405px 408px,#2c0000 408px 410px,#1a0000 410px 411px,#9e0000 411px 412px,#690000 412px 414px,#960000 414px 415px,#740000 415px 417px,#690000 417px 418px,#9b0000 418px 419px,#920000 419px 420px,#9d0000 420px 421px,#710000 421px 423px,#970000 423px 427px,#a10000 427px 429px,#a50000 429px 431px,#920000 431px 432px,#e00000 432px 434px,#f50000 434px 436px,#c30000 436px 439px,#f10000 439px 440px,#3f0000 440px 443px,#2c0000 443px 447px,#370000 447px 449px,#410000 449px 451px,#3e0000 451px 452px,#330000 452px 453px,#2b0000 453px 454px,#3d0000 454px 458px,#2f0000 458px 459px,#300000 459px 460px,#2d0000 460px 461px,#350000 461px 463px,#3c0000 463px 464px,#3e0000 464px 467px,#350000 467px 469px,#290000 469px 471px,#2a0000 471px 473px,#280000 473px 489px,#2c0000 489px 491px,#2d0000 491px 493px,#280000 493px 496px,#2b0000 496px 497px,#280000 497px 499px,#2d0000 499px 503px,#280000 503px 510px,#2a0000 510px 511px,#280000 511px 513px,#2a0000 513px 514px,#290000 514px 515px,#2a0000 515px 517px,#280000 517px 519px,#290000 519px 520px,#280000 520px 523px,#7f0000 523px 524px,#600000 524px 526px,#7e0000 526px 528px,#6a0000 528px 529px,#8c0000 529px 530px,#7a0000 530px 532px,#6d0000 532px 534px,#240000 534px 536px,#300000 536px 537px,#330000 537px 540px,#2f0000 540px 542px,#350000 542px 544px,#2c0000 544px 547px,#230000 547px 549px,#2d0000 549px 553px,#340000 553px 556px,#360000 556px 559px,#2f0000 559px 562px,#240000 562px 564px,#300000 564px 566px,#330000 566px 568px,#1f0000 568px 569px,#140000 569px 575px,#630000 575px 576px,#620000 576px 578px,#570000 578px 580px,#590000 580px 583px,#630000 583px 586px,#680000 586px 590px,#540000 590px 592px,#640000 592px 596px,#570000 596px 597px,#6b0000 597px 598px,#540000 598px 600px,#710000 600px 604px,#540000 604px 607px,#660000 607px 610px,#620000 610px 614px,#720000 614px 615px,#540000 615px 617px,#510000 617px 618px,#6f0000 618px 619px,#570000 619px 623px,#730000 623px 624px,#005d00 624px 626px,#005900 626px 628px,#006c00 628px 631px,#006600 631px 633px,#004f00 633px 636px,#006800 636px 640px,#004a00 640px 641px,#005c00 641px 645px,#004a00 645px 649px,#006e00 649px 650px,#006d00 650px 652px,#005f00 652px 655px,#004b00 655px 656px,#006d00 656px 659px,#004900 659px 662px,#005f00 662px 666px,#006900 666px 668px,#005e00 668px 671px,#006600 671px 672px,#006700 672px 674px,#006c00 674px 683px,#005c00 683px 685px,#005500 685px 687px,#006300 687px 691px,#005700 691px 693px,#006700 693px 696px,#005a00 696px 699px,#005f00 699px 701px,#006a00 701px 703px,#006300 703px 705px,#006600 705px 706px,#001300 706px 708px,#002a00 708px 710px,#001a00 710px 711px,#001300 711px 712px,#002300 712px 714px,#001300 714px 716px,#001700 716px 717px,#001300 717px 727px,#002200 727px 728px,#003d00 728px 729px,#003800 729px 732px,#002c00 732px 738px,#003e00 738px 741px,#002e00 741px 744px,#003700 744px 745px,#003600 745px 749px,#003300 749px 756px,#003200 756px 757px,#003500 757px 758px,#003100 758px 759px,#003600 759px 760px,#003100 760px 762px,#003800 762px 764px,#003600 764px 766px,#002800 766px 770px,#003900 770px 772px,#002c00 772px 773px,#002800 773px 777px,#003400 777px 778px,#003000 778px 781px,#003400 781px 783px,#003500 783px 785px,#003200 785px 788px,#003300 788px 791px,#002600 791px 793px,#003700 793px 795px,#002600 795px 796px,#002a00 796px 798px,#002500 798px 806px,#002900 806px 807px,#002500 807px 808px,#002900 808px 809px,#002a00 809px 811px,#002500 811px 820px,#003f00 820px 821px,#003a00 821px 822px,#004200 822px 824px,#004e00 824px 828px,#003f00 828px 832px,#005300 832px 833px,#004e00 833px 836px,#004400 836px 839px,#004000 839px 841px,#003b00 841px 845px,#004900 845px 848px,#004200 848px 850px,#004e00 850px 852px,#004b00 852px 853px,#004700 853px 855px,#005700 855px 859px,#004f00 859px 862px,#004300 862px 863px,#004700 863px 865px,#003f00 865px 866px,#004500 866px 870px,#003c00 870px 872px,#004200 872px 875px,#003900 875px 877px,#004900 877px 879px,#003f00 879px 881px,#004800 881px 883px,#005700 883px 887px,#004700 887px 888px,#003c00 888px 889px,#004d00 889px 890px,#005300 890px 891px,#004b00 891px 893px,#004f00 893px 895px,#004a00 895px 897px,#005000 897px 898px,#005800 898px 899px,#006300 899px 900px,#006d00 900px 901px,#005d00 901px 904px,#004c00 904px 906px,#004e00 906px 908px,#006f00 908px 910px,#006200 910px 912px,#006700 912px 915px,#005900 915px 918px,#006600 918px 919px,#004a00 919px 920px,#005000 920px 922px,#005100 922px 924px,#004f00 924px 925px,#004e00 925px 926px,#005100 926px 928px,#004400 928px 929px,#003c00 929px 934px,#005100 934px 935px,#003e00 935px 936px,#003f00 936px 939px,#004800 939px 942px,#003c00 942px 946px,#004300 946px 948px,#003f00 948px 949px,#004800 949px 950px,#005700 950px 951px,#005f00 951px 953px,#004800 953px 956px,#005f00 956px 958px,#005100 958px 960px,#005f00 960px 961px,#004700 961px 962px,#004800 962px 964px,#003f00 964px 965px,#005500 965px 969px,#003f00 969px 971px,#005b00 971px 972px,#001a00 972px 973px,#001200 973px 974px,#000900 974px 982px,#001900 982px 986px,#000f00 986px 988px,#000a00 988px 989px,#002100 989px 992px,#000900 992px 997px,#001c00 997px 999px,#000900 999px 1000px,#001b00 1000px 1002px,#002300 1002px 1003px,#001c00 1003px 1017px,#002800 1017px 1018px,#002900 1018px 1019px,#001c00 1019px 1027px,#002100 1027px 1031px,#002a00 1031px 1032px,#001c00 1032px 1037px,#002500 1037px 1039px,#001e00 1039px 1042px,#001c00 1042px 1047px,#002200 1047px 1049px,#002800 1049px 1050px,#001c00 1050px 1055px,#002400 1055px 1056px,#001c00 1056px 1064px,#001d00 1064px 1068px,#001c00 1068px 1074px,#002300 1074px 1075px,#004900 1075px 1077px,#003d00 1077px 1080px,#004500 1080px 1082px,#004000 1082px 1084px,#003400 1084px 1085px,#004700 1085px 1088px,#004600 1088px 1092px,#003e00 1092px 1095px,#004800 1095px 1097px,#003800 1097px 1100px,#003300 1100px 1101px,#004200 1101px 1102px,#004500 1102px 1104px,#004200 1104px 1105px,#003400 1105px 1106px,#003300 1106px 1110px,#004800 1110px 1111px,#003700 1111px 1115px,#004900 1115px 1117px,#003500 1117px 1119px,#004b00 1119px 1120px,#004900 1120px 1123px,#004d00 1123px 1127px,#003d00 1127px 1128px,#004900 1128px 1130px,#003400 1130px 1131px,#004d00 1131px 1134px,#004300 1134px 1135px,#003200 1135px 1136px,#004700 1136px 1137px,#001300 1137px 1138px,#1f0000 1138px 1141px,#0a0000 1141px 1149px,#260000 1149px 1151px,#0a0000 1151px 1156px,#2a0000 1156px 1158px,#140000 1158px 1160px,#0a0000 1160px 1162px,#005a00 1162px 1165px,#004e00 1165px 1166px,#004300 1166px 1169px,#006600 1169px 1173px,#004a00 1173px 1175px,#004900 1175px 1177px,#005100 1177px 1179px,#005200 1179px 1180px,#005f00 1180px 1182px,#006300 1182px 1183px,#004700 1183px 1185px,#005b00 1185px 1188px,#006400 1188px 1189px,#002000 1189px 1190px,#002200 1190px 1191px,#002a00 1191px 1193px,#002c00 1193px 1194px,#002500 1194px 1195px,#002d00 1195px 1198px,#002e00 1198px 1201px,#002a00 1201px 1205px,#002700 1205px 1207px,#002300 1207px 1208px,#001f00 1208px 1210px,#002c00 1210px 1211px,#002a00 1211px 1212px,#002100 1212px 1214px,#002000 1214px 1215px,#001e00 1215px 1217px,#002700 1217px 1218px,#002300 1218px 1220px,#002d00 1220px 1224px,#002b00 1224px 1226px,#002a00 1226px 1227px,#002000 1227px 1231px,#001f00 1231px 1233px,#002c00 1233px 1236px,#002700 1236px 1237px,#002400 1237px 1238px,#002e00 1238px 1239px,#002100 1239px 1241px,#002200 1241px 1248px,#002400 1248px 1250px,#002100 1250px 1254px,#002400 1254px 1256px,#002100 1256px 1258px,#005f00 1258px 1261px,#005a00 1261px 1262px,#004c00 1262px 1264px,#006c00 1264px 1266px,#006800 1266px 1268px,#004a00 1268px 1269px,#005500 1269px 1270px,#006700 1270px 1271px,#006600 1271px 1275px,#005c00 1275px 1276px,#005400 1276px 1277px,#007000 1277px 1278px,#005700 1278px 1279px,#006c00 1279px 1280px,#005f00 1280px 1282px,#004a00 1282px 1286px,#005100 1286px 1288px,#004b00 1288px 1291px,#005000 1291px 1292px,#005500 1292px 1295px,#006e00 1295px 1298px,#005500 1298px 1299px,#004c00 1299px 1301px,#006300 1301px 1302px,#006b00 1302px 1305px,#004900 1305px 1309px,#007100 1309px 1310px,#005500 1310px 1312px,#006100 1312px 1315px,#006700 1315px 1319px,#004800 1319px 1321px,#005700 1321px 1323px,#005000 1323px 1326px,#004b00 1326px 1330px,#006900 1330px 1332px,#005800 1332px 1336px,#005d00 1336px 1338px,#006300 1338px 1340px,#005400 1340px 1342px,#005500 1342px 1344px,#005100 1344px 1347px,#007000 1347px 1348px,#005a00 1348px 1351px,#006400 1351px 1354px,#006d00 1354px 1355px,#004c00 1355px 1356px,#006600 1356px 1360px,#006a00 1360px 1361px,#006700 1361px 1364px,#006400 1364px 1368px,#006c00 1368px 1369px,#004c00 1369px 1372px,#006600 1372px 1373px,#006300 1373px 1376px,#006b00 1376px 1378px,#005800 1378px 1382px,#007000 1382px 1383px,#005700 1383px 1387px,#006700 1387px 1389px,#004f00 1389px 1390px,#0f0000 1390px 1401px,#290000 1401px 1405px,#0f0000 1405px 1413px,#1d0000 1413px 1415px,#1a0000 1415px 1416px,#080000 1416px 1425px,#0f0000 1425px 1429px,#190000 1429px 1432px,#080000 1432px 1449px,#190000 1449px 1451px,#080000 1451px 1452px,#0d0000 1452px 1453px,#080000 1453px 1456px,#2c0000 1456px 1459px,#080000 1459px 1462px,#003500 1462px 1463px,#004000 1463px 1464px,#003500 1464px 1467px,#004400 1467px 1469px,#003400 1469px 1472px,#004000 1472px 1474px,#003500 1474px 1478px,#003a00 1478px 1482px,#003c00 1482px 1483px,#003400 1483px 1485px,#003a00 1485px 1487px,#004000 1487px 1488px,#003200 1488px 1490px,#003500 1490px 1491px,#002700 1491px 1493px,#003900 1493px 1494px,#002800 1494px 1499px,#002f00 1499px 1501px,#003700 1501px 1503px,#002d00 1503px 1505px,#003800 1505px 1507px,#002e00 1507px 1509px,#002a00 1509px 1511px,#003700 1511px 1515px,#006300 1515px 1517px,#007600 1517px 1518px,#006a00 1518px 1519px,#006200 1519px 1521px,#007300 1521px 1524px,#004b00 1524px 1525px,#006400 1525px 1526px,#005600 1526px 1528px,#006700 1528px 1531px,#005c00 1531px 1535px,#004f00 1535px 1536px,#007000 1536px 1538px,#005700 1538px 1539px,#006600 1539px 1542px,#005d00 1542px 1544px,#006500 1544px 1545px,#005100 1545px 1547px,#006300 1547px 1549px,#006400 1549px 1551px,#004800 1551px 1552px,#004700 1552px 1553px,#003500 1553px 1557px,#003400 1557px 1558px,#003200 1558px 1559px,#003d00 1559px 1560px,#004a00 1560px 1561px,#004700 1561px 1565px,#003400 1565px 1566px,#003b00 1566px 1567px,#003400 1567px 1569px,#004200 1569px 1571px,#003900 1571px 1574px,#003600 1574px 1575px,#004200 1575px 1577px,#003e00 1577px 1581px,#003c00 1581px 1583px,#004500 1583px 1584px,#003800 1584px 1585px,#004000 1585px 1589px,#004700 1589px 1592px,#004a00 1592px 1594px,#003600 1594px 1597px,#003f00 1597px 1599px,#004200 1599px 1602px,#004100 1602px 1605px,#004d00 1605px 1607px,#003200 1607px 1608px,#004500 1608px 1609px)"></div>
<div class="hc" style="left:1535.00px;top:112px;width:112.25px;height:1609px;background:linear-gradient(#940000 0px 1px,#790000 1px 3px,#970000 3px 4px,#880000 4px 5px,#840000 5px 7px,#990000 7px 9px,#7d0000 9px 10px,#9a0000 10px 12px,#680000 12px 13px,#920000 13px 14px,#760000 14px 15px,#910000 15px 20px,#970000 20px 21px,#940000 21px 22px,#6a0000 22px 23px,#660000 23px 24px,#690000 24px 26px,#8b0000 26px 29px,#d10000 29px 30px,#bc0000 30px 34px,#dc0000 34px 35px,#c00000 35px 38px,#c50000 38px 39px,#d70000 39px 41px,#9b0000 41px 42px,#d90000 42px 43px,#9c0000 43px 45px,#ca0000 45px 46px,#b70000 46px 47px,#b50000 47px 48px,#9a0000 48px 49px,#760000 49px 50px,#970000 50px 52px,#990000 52px 54px,#920000 54px 56px,#7d0000 56px 59px,#a90000 59px 60px,#940000 60px 62px,#740000 62px 65px,#980000 65px 68px,#820000 68px 71px,#910000 71px 72px,#8e0000 72px 73px,#ab0000 73px 74px,#750000 74px 76px,#4f0000 76px 79px,#5b0000 79px 80px,#4e0000 80px 82px,#580000 82px 83px,#5e0000 83px 84px,#590000 84px 85px,#620000 85px 87px,#6b0000 87px 91px,#540000 91px 92px,#2e0000 92px 93px,#380000 93px 96px,#420000 96px 98px,#3e0000 98px 99px,#2e0000 99px 100px,#2d0000 100px 102px,#3f0000 102px 103px,#2f0000 103px 106px,#2e0000 106px 107px,#4d0000 107px 108px,#6f0000 108px 110px,#4c0000 110px 111px,#570000 111px 112px,#5b0000 112px 113px,#6e0000 113px 114px,#6c0000 114px 116px,#620000 116px 119px,#660000 119px 122px,#560000 122px 123px,#670000 123px 127px,#4a0000 127px 130px,#6f0000 130px 134px,#530000 134px 135px,#5b0000 135px 139px,#670000 139px 140px,#510000 140px 141px,#540000 141px 142px,#5e0000 142px 143px,#140000 143px 145px,#2a0000 145px 147px,#280000 147px 149px,#140000 149px 151px,#180000 151px 155px,#140000 155px 158px,#150000 158px 160px,#140000 160px 161px,#230000 161px 163px,#190000 163px 164px,#140000 164px 172px,#210000 172px 173px,#190000 173px 174px,#140000 174px 183px,#200000 183px 184px,#190000 184px 185px,#290000 185px 187px,#140000 187px 188px,#4a0000 188px 189px,#560000 189px 190px,#480000 190px 192px,#5e0000 192px 194px,#570000 194px 198px,#550000 198px 199px,#4c0000 199px 200px,#440000 200px 201px,#530000 201px 203px,#560000 203px 207px,#4c0000 207px 210px,#510000 210px 212px,#5e0000 212px 215px,#5c0000 215px 216px,#630000 216px 218px,#490000 218px 219px,#410000 219px 223px,#530000 223px 224px,#140000 224px 229px,#250000 229px 232px,#140000 232px 235px,#510000 235px 236px,#5d0000 236px 237px,#690000 237px 238px,#510000 238px 240px,#6a0000 240px 243px,#540000 243px 244px,#650000 244px 245px,#5e0000 245px 247px,#4b0000 247px 251px,#4a0000 251px 252px,#5a0000 252px 253px,#1d0000 253px 255px,#140000 255px 257px,#180000 257px 261px,#770000 261px 262px,#a60000 262px 264px,#9f0000 264px 268px,#bb0000 268px 272px,#9d0000 272px 274px,#b50000 274px 276px,#990000 276px 278px,#9e0000 278px 279px,#b70000 279px 280px,#7e0000 280px 281px,#a40000 281px 282px,#9a0000 282px 284px,#b00000 284px 287px,#a80000 287px 290px,#990000 290px 293px,#800000 293px 296px,#ad0000 296px 299px,#9f0000 299px 300px,#8d0000 300px 302px,#990000 302px 304px,#230000 304px 308px,#2b0000 308px 309px,#230000 309px 312px,#270000 312px 314px,#230000 314px 318px,#260000 318px 320px,#7b0000 320px 324px,#550000 324px 325px,#580000 325px 326px,#650000 326px 329px,#770000 329px 332px,#570000 332px 335px,#7a0000 335px 336px,#670000 336px 339px,#650000 339px 341px,#710000 341px 344px,#730000 344px 345px,#7a0000 345px 346px,#840000 346px 349px,#7e0000 349px 350px,#720000 350px 353px,#5f0000 353px 355px,#710000 355px 358px,#660000 358px 362px,#570000 362px 363px,#810000 363px 367px,#6e0000 367px 368px,#540000 368px 369px,#a50000 369px 371px,#bd0000 371px 374px,#ea0000 374px 377px,#d70000 377px 378px,#9b0000 378px 380px,#770000 380px 381px,#ab0000 381px 385px,#840000 385px 388px,#9c0000 388px 389px,#e50000 389px 392px,#f10000 392px 394px,#ef0000 394px 396px,#e10000 396px 399px,#c30000 399px 400px,#b90000 400px 402px,#ea0000 402px 404px,#fc0000 404px 409px,#fa0000 409px 411px,#cb0000 411px 413px,#d90000 413px 415px,#a60000 415px 417px,#c60000 417px 419px,#c90000 419px 420px,#c30000 420px 423px,#d10000 423px 426px,#af0000 426px 429px,#da0000 429px 430px,#b80000 430px 432px,#840000 432px 433px,#630000 433px 437px,#7d0000 437px 440px,#e60000 440px 441px,#ca0000 441px 443px,#fc0000 443px 445px,#e30000 445px 447px,#d70000 447px 449px,#ae0000 449px 452px,#d30000 452px 453px,#c50000 453px 456px,#aa0000 456px 460px,#be0000 460px 462px,#d80000 462px 466px,#cd0000 466px 467px,#cc0000 467px 469px,#d10000 469px 470px,#fc0000 470px 471px,#cb0000 471px 472px,#ce0000 472px 473px,#fc0000 473px 477px,#ac0000 477px 478px,#fc0000 478px 480px,#ba0000 480px 483px,#f30000 483px 485px,#d60000 485px 488px,#ca0000 488px 490px,#b40000 490px 492px,#cc0000 492px 493px,#be0000 493px 496px,#e40000 496px 497px,#c20000 497px 501px,#fc0000 501px 505px,#ad0000 505px 509px,#c00000 509px 512px,#dc0000 512px 514px,#c50000 514px 516px,#c00000 516px 518px,#ae0000 518px 520px,#fc0000 520px 522px,#d40000 522px 523px,#a70000 523px 525px,#9c0000 525px 527px,#d20000 527px 528px,#930000 528px 530px,#d10000 530px 534px,#bc0000 534px 535px,#880000 535px 538px,#fc0000 538px 541px,#ed0000 541px 542px,#fc0000 542px 544px,#d90000 544px 545px,#fc0000 545px 549px,#cd0000 549px 550px,#d40000 550px 551px,#c80000 551px 553px,#fc0000 553px 555px,#e80000 555px 556px,#f30000 556px 559px,#e70000 559px 561px,#f90000 561px 562px,#d00000 562px 565px,#d80000 565px 568px,#dc0000 568px 569px,#b90000 569px 572px,#c70000 572px 573px,#ed0000 573px 576px,#fc0000 576px 583px,#ee0000 583px 584px,#a30000 584px 588px,#db0000 588px 592px,#d10000 592px 593px,#a00000 593px 594px,#cd0000 594px 596px,#a20000 596px 598px,#a50000 598px 601px,#a20000 601px 604px,#9f0000 604px 608px,#d80000 608px 609px,#dd0000 609px 613px,#a10000 613px 615px,#d40000 615px 617px,#ad0000 617px 619px,#cd0000 619px 621px,#e40000 621px 623px,#c70000 623px 624px,#001700 624px 627px,#002800 627px 629px,#001700 629px 633px,#001c00 633px 635px,#001700 635px 637px,#001e00 637px 639px,#002100 639px 643px,#001700 643px 647px,#002500 647px 649px,#001700 649px 663px,#001f00 663px 667px,#001700 667px 673px,#190000 673px 679px,#250000 679px 680px,#190000 680px 684px,#1b0000 684px 686px,#190000 686px 688px,#001c00 688px 694px,#002200 694px 698px,#001c00 698px 702px,#002300 702px 704px,#001c00 704px 706px,#005900 706px 708px,#004100 708px 709px,#004b00 709px 712px,#003c00 712px 713px,#004800 713px 715px,#004500 715px 716px,#005d00 716px 720px,#005500 720px 723px,#003d00 723px 725px,#005000 725px 726px,#004e00 726px 727px,#005300 727px 728px,#003700 728px 729px,#003300 729px 730px,#003800 730px 731px,#003700 731px 734px,#003100 734px 736px,#003800 736px 737px,#003e00 737px 739px,#003400 739px 742px,#003d00 742px 746px,#003700 746px 750px,#003600 750px 752px,#002b00 752px 754px,#002e00 754px 756px,#003700 756px 758px,#002e00 758px 759px,#002b00 759px 760px,#003200 760px 763px,#002e00 763px 766px,#002d00 766px 771px,#002c00 771px 773px,#003200 773px 776px,#004b00 776px 777px,#003200 777px 778px,#003300 778px 781px,#004200 781px 789px,#004c00 789px 793px,#004000 793px 795px,#003300 795px 799px,#003b00 799px 803px,#004a00 803px 804px,#004d00 804px 806px,#004400 806px 810px,#004e00 810px 812px,#004d00 812px 813px,#004300 813px 815px,#004b00 815px 816px,#004e00 816px 817px,#004b00 817px 818px,#004100 818px 820px,#004000 820px 822px,#003c00 822px 823px,#001c00 823px 832px,#001e00 832px 836px,#001c00 836px 840px,#001f00 840px 841px,#003600 841px 843px,#003500 843px 846px,#003300 846px 852px,#003400 852px 856px,#002b00 856px 858px,#003900 858px 859px,#003c00 859px 863px,#002900 863px 864px,#003300 864px 867px,#003800 867px 869px,#002900 869px 870px,#003200 870px 872px,#002e00 872px 873px,#003000 873px 874px,#003c00 874px 876px,#003400 876px 878px,#002a00 878px 879px,#003c00 879px 881px,#002a00 881px 882px,#003a00 882px 886px,#003e00 886px 889px,#002700 889px 890px,#000e00 890px 900px,#001a00 900px 902px,#000e00 902px 904px,#001e00 904px 906px,#001f00 906px 907px,#000e00 907px 921px,#001c00 921px 926px,#002200 926px 929px,#001c00 929px 932px,#001d00 932px 933px,#001c00 933px 936px,#002400 936px 937px,#002000 937px 938px,#001c00 938px 947px,#002400 947px 948px,#002c00 948px 950px,#001e00 950px 953px,#002000 953px 955px,#002e00 955px 960px,#002200 960px 964px,#002300 964px 965px,#002900 965px 966px,#002100 966px 969px,#002b00 969px 972px,#004a00 972px 975px,#004600 975px 979px,#004d00 979px 980px,#005200 980px 983px,#006200 983px 986px,#006100 986px 987px,#004800 987px 989px,#005b00 989px 992px,#006200 992px 993px,#005700 993px 996px,#005c00 996px 999px,#005700 999px 1000px,#004800 1000px 1002px,#004900 1002px 1003px,#006b00 1003px 1004px,#005900 1004px 1005px,#006700 1005px 1008px,#006400 1008px 1009px,#004e00 1009px 1010px,#006a00 1010px 1013px,#005900 1013px 1015px,#006200 1015px 1017px,#005600 1017px 1018px,#004600 1018px 1019px,#005c00 1019px 1023px,#006c00 1023px 1025px,#006500 1025px 1026px,#005500 1026px 1028px,#004c00 1028px 1031px,#006500 1031px 1032px,#005000 1032px 1035px,#004c00 1035px 1042px,#006500 1042px 1044px,#005200 1044px 1045px,#004500 1045px 1046px,#006300 1046px 1050px,#004800 1050px 1052px,#005600 1052px 1053px,#005200 1053px 1054px,#004e00 1054px 1056px,#006600 1056px 1057px,#004c00 1057px 1059px,#004200 1059px 1060px,#004600 1060px 1061px,#004400 1061px 1062px,#005300 1062px 1063px,#005600 1063px 1066px,#006200 1066px 1067px,#005000 1067px 1068px,#005200 1068px 1069px,#004a00 1069px 1070px,#005800 1070px 1072px,#004300 1072px 1074px,#004200 1074px 1075px,#002f00 1075px 1076px,#004200 1076px 1080px,#003900 1080px 1082px,#003d00 1082px 1085px,#003a00 1085px 1088px,#003200 1088px 1090px,#004500 1090px 1093px,#003f00 1093px 1094px,#003d00 1094px 1097px,#003f00 1097px 1099px,#004500 1099px 1103px,#004600 1103px 1105px,#004000 1105px 1106px,#003500 1106px 1107px,#004400 1107px 1111px,#004300 1111px 1114px,#004400 1114px 1118px,#002f00 1118px 1119px,#004100 1119px 1121px,#004500 1121px 1122px,#003800 1122px 1123px,#004400 1123px 1124px,#003a00 1124px 1126px,#003000 1126px 1127px,#004600 1127px 1129px,#004200 1129px 1132px,#003b00 1132px 1134px,#003100 1134px 1137px,#004200 1137px 1138px,#005300 1138px 1139px,#005700 1139px 1141px,#007600 1141px 1144px,#005f00 1144px 1147px,#005b00 1147px 1148px,#006700 1148px 1149px,#006100 1149px 1151px,#006700 1151px 1155px,#005300 1155px 1156px,#006d00 1156px 1159px,#007600 1159px 1160px,#005100 1160px 1162px,#002100 1162px 1171px,#002300 1171px 1174px,#002100 1174px 1181px,#002300 1181px 1182px,#002800 1182px 1184px,#002100 1184px 1189px,#005200 1189px 1191px,#004900 1191px 1192px,#003c00 1192px 1193px,#004a00 1193px 1195px,#004200 1195px 1198px,#005400 1198px 1201px,#004f00 1201px 1203px,#004400 1203px 1206px,#003800 1206px 1207px,#004800 1207px 1208px,#003900 1208px 1209px,#005700 1209px 1213px,#004000 1213px 1214px,#004a00 1214px 1218px,#004200 1218px 1222px,#003a00 1222px 1224px,#004000 1224px 1225px,#004300 1225px 1228px,#004900 1228px 1232px,#004700 1232px 1234px,#004600 1234px 1238px,#004900 1238px 1241px,#003c00 1241px 1245px,#004900 1245px 1247px,#004f00 1247px 1249px,#004200 1249px 1254px,#004800 1254px 1257px,#005300 1257px 1258px,#001700 1258px 1260px,#002900 1260px 1262px,#001700 1262px 1266px,#001c00 1266px 1268px,#001700 1268px 1271px,#001c00 1271px 1275px,#002300 1275px 1279px,#001700 1279px 1291px,#002600 1291px 1295px,#001700 1295px 1298px,#080000 1298px 1303px,#1c0000 1303px 1305px,#080000 1305px 1307px,#2d0000 1307px 1309px,#080000 1309px 1312px,#1d0000 1312px 1316px,#200000 1316px 1318px,#080000 1318px 1328px,#200000 1328px 1330px,#1c0000 1330px 1332px,#190000 1332px 1336px,#1c0000 1336px 1340px,#190000 1340px 1350px,#001700 1350px 1362px,#002400 1362px 1364px,#001700 1364px 1390px,#006100 1390px 1391px,#006d00 1391px 1393px,#006100 1393px 1397px,#005900 1397px 1400px,#005e00 1400px 1404px,#005600 1404px 1406px,#004c00 1406px 1408px,#004d00 1408px 1411px,#005400 1411px 1412px,#005300 1412px 1413px,#005400 1413px 1419px,#004f00 1419px 1420px,#005b00 1420px 1422px,#005400 1422px 1423px,#005200 1423px 1426px,#007000 1426px 1429px,#004d00 1429px 1431px,#004800 1431px 1433px,#005e00 1433px 1435px,#006300 1435px 1437px,#006900 1437px 1438px,#006a00 1438px 1439px,#005300 1439px 1440px,#007000 1440px 1441px,#004d00 1441px 1443px,#006e00 1443px 1444px,#004b00 1444px 1448px,#004a00 1448px 1449px,#007000 1449px 1452px,#004f00 1452px 1455px,#005900 1455px 1459px,#005e00 1459px 1462px,#003b00 1462px 1465px,#003100 1465px 1466px,#002f00 1466px 1470px,#004100 1470px 1472px,#003e00 1472px 1474px,#002a00 1474px 1478px,#003900 1478px 1481px,#003200 1481px 1484px,#003300 1484px 1486px,#003e00 1486px 1488px,#004b00 1488px 1489px,#004900 1489px 1493px,#003d00 1493px 1495px,#004f00 1495px 1496px,#003900 1496px 1499px,#003600 1499px 1501px,#005200 1501px 1502px,#003a00 1502px 1506px,#004e00 1506px 1508px,#003d00 1508px 1512px,#004c00 1512px 1515px,#001c00 1515px 1525px,#002800 1525px 1528px,#001c00 1528px 1533px,#002600 1533px 1537px,#001c00 1537px 1538px,#002200 1538px 1539px,#002300 1539px 1541px,#001c00 1541px 1551px,#003400 1551px 1554px,#004100 1554px 1556px,#003f00 1556px 1558px,#003500 1558px 1559px,#003c00 1559px 1561px,#003900 1561px 1562px,#003b00 1562px 1566px,#004000 1566px 1570px,#003c00 1570px 1571px,#002a00 1571px 1572px,#003400 1572px 1575px,#003000 1575px 1576px,#003d00 1576px 1578px,#003800 1578px 1581px,#004300 1581px 1582px,#003a00 1582px 1584px,#003200 1584px 1587px,#002d00 1587px 1591px,#004000 1591px 1593px,#002c00 1593px 1595px,#002f00 1595px 1596px,#002c00 1596px 1597px,#004200 1597px 1599px,#003c00 1599px 1600px,#003900 1600px 1606px,#002f00 1606px 1608px,#002b00 1608px 1609px)"></div>
<div class="hc" style="left:1647.25px;top:112px;width:112.25px;height:1609px;background:linear-gradient(#530000 0px 2px,#580000 2px 3px,#530000 3px 5px,#500000 5px 7px,#4f0000 7px 9px,#4e0000 9px 10px,#510000 10px 13px,#560000 13px 17px,#570000 17px 20px,#550000 20px 22px,#540000 22px 23px,#570000 23px 28px,#510000 28px 29px,#580000 29px 33px,#530000 33px 37px,#560000 37px 40px,#510000 40px 44px,#580000 44px 46px,#550000 46px 50px,#530000 50px 51px,#500000 51px 53px,#530000 53px 56px,#570000 56px 59px,#530000 59px 60px,#4d0000 60px 62px,#500000 62px 63px,#520000 63px 66px,#560000 66px 70px,#4e0000 70px 71px,#510000 71px 72px,#500000 72px 74px,#540000 74px 76px,#510000 76px 78px,#570000 78px 80px,#560000 80px 83px,#570000 83px 86px,#4e0000 86px 88px,#500000 88px 89px,#4f0000 89px 91px,#570000 91px 92px,#550000 92px 93px,#4f0000 93px 97px,#500000 97px 99px,#520000 99px 100px,#530000 100px 104px,#550000 104px 107px,#580000 107px 108px,#550000 108px 109px,#540000 109px 110px,#560000 110px 113px,#550000 113px 115px,#510000 115px 117px,#4f0000 117px 118px,#510000 118px 121px,#4f0000 121px 122px,#570000 122px 124px,#4e0000 124px 126px,#570000 126px 128px,#580000 128px 129px,#530000 129px 130px,#550000 130px 132px,#540000 132px 133px,#550000 133px 135px,#520000 135px 138px,#4f0000 138px 141px,#4d0000 141px 142px,#500000 142px 143px,#550000 143px 146px,#530000 146px 147px,#550000 147px 148px,#4f0000 148px 150px,#550000 150px 151px,#530000 151px 155px,#4d0000 155px 158px,#540000 158px 160px,#560000 160px 163px,#530000 163px 167px,#570000 167px 168px,#550000 168px 169px,#570000 169px 170px,#580000 170px 174px,#540000 174px 175px,#520000 175px 178px,#580000 178px 182px,#530000 182px 184px,#4e0000 184px 186px,#4f0000 186px 188px,#4a0000 188px 190px,#4b0000 190px 194px,#4c0000 194px 198px,#4b0000 198px 203px,#4d0000 203px 206px,#4e0000 206px 209px,#490000 209px 211px,#4b0000 211px 212px,#510000 212px 214px,#4c0000 214px 217px,#510000 217px 220px,#500000 220px 223px,#520000 223px 225px,#490000 225px 226px,#480000 226px 229px,#520000 229px 232px,#4a0000 232px 235px,#520000 235px 238px,#4c0000 238px 240px,#490000 240px 242px,#530000 242px 244px,#4b0000 244px 246px,#500000 246px 247px,#4e0000 247px 248px,#4a0000 248px 251px,#490000 251px 254px,#4c0000 254px 255px,#490000 255px 258px,#4c0000 258px 259px,#4a0000 259px 260px,#510000 260px 261px,#500000 261px 264px,#4b0000 264px 266px,#530000 266px 268px,#4b0000 268px 272px,#4a0000 272px 275px,#4d0000 275px 278px,#4f0000 278px 280px,#510000 280px 282px,#4b0000 282px 284px,#530000 284px 285px,#4d0000 285px 287px,#4f0000 287px 290px,#510000 290px 291px,#4a0000 291px 298px,#4d0000 298px 301px,#4a0000 301px 304px,#520000 304px 305px,#4c0000 305px 306px,#490000 306px 308px,#510000 308px 312px,#4c0000 312px 314px,#490000 314px 315px,#4f0000 315px 318px,#4d0000 318px 320px,#4f0000 320px 321px,#4d0000 321px 325px,#510000 325px 326px,#500000 326px 329px,#4a0000 329px 333px,#4e0000 333px 337px,#530000 337px 339px,#510000 339px 340px,#4a0000 340px 342px,#4b0000 342px 344px,#520000 344px 348px,#4d0000 348px 350px,#4a0000 350px 352px,#4f0000 352px 355px,#520000 355px 357px,#4e0000 357px 358px,#500000 358px 362px,#4e0000 362px 363px,#490000 363px 364px,#4e0000 364px 365px,#4a0000 365px 366px,#520000 366px 368px,#4e0000 368px 372px,#4a0000 372px 373px,#500000 373px 377px,#4f0000 377px 378px,#470000 378px 382px,#490000 382px 384px,#4e0000 384px 385px,#4d0000 385px 387px,#4c0000 387px 390px,#480000 390px 393px,#4c0000 393px 395px,#440000 395px 401px,#480000 401px 403px,#4b0000 403px 407px,#4a0000 407px 411px,#440000 411px 413px,#450000 413px 417px,#4c0000 417px 419px,#460000 419px 420px,#490000 420px 422px,#4a0000 422px 423px,#4c0000 423px 424px,#460000 424px 426px,#480000 426px 427px,#460000 427px 429px,#4c0000 429px 432px,#480000 432px 434px,#450000 434px 438px,#480000 438px 439px,#4d0000 439px 440px,#460000 440px 443px,#480000 443px 445px,#490000 445px 449px,#4a0000 449px 452px,#4d0000 452px 454px,#480000 454px 458px,#470000 458px 467px,#460000 467px 468px,#450000 468px 471px,#4d0000 471px 473px,#480000 473px 475px,#450000 475px 476px,#4d0000 476px 480px,#4c0000 480px 482px,#460000 482px 486px,#4c0000 486px 490px,#470000 490px 491px,#460000 491px 494px,#4d0000 494px 495px,#4a0000 495px 498px,#450000 498px 499px,#4d0000 499px 504px,#470000 504px 506px,#4e0000 506px 509px,#440000 509px 510px,#470000 510px 514px,#4b0000 514px 516px,#460000 516px 519px,#450000 519px 520px,#480000 520px 524px,#470000 524px 525px,#490000 525px 527px,#4e0000 527px 528px,#490000 528px 531px,#4e0000 531px 533px,#460000 533px 536px,#470000 536px 537px,#490000 537px 538px,#4d0000 538px 539px,#490000 539px 542px,#470000 542px 544px,#4e0000 544px 545px,#460000 545px 546px,#4d0000 546px 549px,#450000 549px 551px,#460000 551px 554px,#450000 554px 557px,#440000 557px 561px,#4a0000 561px 565px,#4d0000 565px 568px,#580000 568px 569px,#4e0000 569px 571px,#530000 571px 574px,#520000 574px 576px,#560000 576px 577px,#570000 577px 579px,#550000 579px 580px,#500000 580px 581px,#540000 581px 582px,#500000 582px 583px,#570000 583px 585px,#550000 585px 586px,#580000 586px 589px,#500000 589px 591px,#520000 591px 593px,#4e0000 593px 594px,#550000 594px 595px,#580000 595px 596px,#540000 596px 601px,#510000 601px 609px,#560000 609px 613px,#540000 613px 616px,#510000 616px 618px,#4e0000 618px 619px,#4d0000 619px 620px,#530000 620px 624px,#003f00 624px 627px,#004200 627px 630px,#004000 630px 631px,#004800 631px 633px,#004400 633px 635px,#004000 635px 638px,#004400 638px 640px,#004700 640px 641px,#004400 641px 642px,#004200 642px 644px,#003f00 644px 646px,#004400 646px 650px,#004100 650px 653px,#004500 653px 654px,#004300 654px 656px,#004600 656px 658px,#004300 658px 661px,#004200 661px 663px,#004400 663px 664px,#004200 664px 667px,#004400 667px 668px,#004000 668px 671px,#004700 671px 675px,#004800 675px 676px,#004600 676px 680px,#004100 680px 682px,#004300 682px 686px,#004600 686px 689px,#004800 689px 690px,#004000 690px 693px,#004200 693px 696px,#004700 696px 699px,#004100 699px 701px,#004700 701px 703px,#004300 703px 704px,#004800 704px 707px,#004700 707px 714px,#004100 714px 715px,#003f00 715px 717px,#004300 717px 718px,#004200 718px 721px,#004000 721px 725px,#004800 725px 728px,#004300 728px 729px,#004000 729px 731px,#004700 731px 734px,#004200 734px 736px,#004600 736px 738px,#004800 738px 739px,#004200 739px 741px,#004700 741px 743px,#004000 743px 745px,#004300 745px 747px,#004600 747px 751px,#004100 751px 753px,#004700 753px 756px,#004800 756px 758px,#004a00 758px 759px,#004900 759px 760px,#004400 760px 763px,#004700 763px 764px,#004600 764px 768px,#004400 768px 775px,#004900 775px 777px,#004600 777px 778px,#004a00 778px 779px,#004b00 779px 782px,#004300 782px 785px,#004400 785px 786px,#004d00 786px 787px,#004900 787px 789px,#004700 789px 790px,#004c00 790px 794px,#004800 794px 795px,#004900 795px 796px,#004500 796px 797px,#004800 797px 804px,#004600 804px 807px,#004c00 807px 810px,#004800 810px 813px,#004c00 813px 816px,#004900 816px 818px,#004700 818px 822px,#004c00 822px 823px,#004500 823px 824px,#004d00 824px 825px,#004a00 825px 829px,#004c00 829px 831px,#004500 831px 832px,#004600 832px 835px,#004900 835px 837px,#004400 837px 841px,#004a00 841px 844px,#004500 844px 846px,#004700 846px 850px,#004c00 850px 853px,#004600 853px 855px,#004900 855px 857px,#004500 857px 858px,#004c00 858px 859px,#004500 859px 863px,#004800 863px 868px,#004600 868px 872px,#004400 872px 874px,#004900 874px 876px,#004400 876px 878px,#004500 878px 881px,#004300 881px 883px,#004800 883px 884px,#004500 884px 885px,#004700 885px 887px,#004500 887px 890px,#004900 890px 892px,#004800 892px 894px,#004400 894px 898px,#004c00 898px 901px,#004500 901px 902px,#004600 902px 906px,#004800 906px 909px,#004600 909px 911px,#004b00 911px 915px,#004d00 915px 916px,#004800 916px 922px,#004400 922px 924px,#004500 924px 926px,#004d00 926px 929px,#004900 929px 930px,#004500 930px 933px,#004a00 933px 937px,#004b00 937px 938px,#004a00 938px 939px,#004500 939px 942px,#004900 942px 946px,#004600 946px 947px,#004700 947px 948px,#004300 948px 951px,#004800 951px 952px,#004300 952px 958px,#004200 958px 961px,#004500 961px 962px,#004700 962px 965px,#004400 965px 969px,#004500 969px 971px,#004600 971px 973px,#004400 973px 975px,#004300 975px 978px,#004400 978px 979px,#004600 979px 982px,#004300 982px 983px,#004800 983px 987px,#004600 987px 989px,#004100 989px 992px,#004000 992px 994px,#004400 994px 996px,#004500 996px 1002px,#004800 1002px 1003px,#004400 1003px 1007px,#004500 1007px 1008px,#004300 1008px 1010px,#004600 1010px 1011px,#004500 1011px 1013px,#004700 1013px 1015px,#004100 1015px 1016px,#004600 1016px 1020px,#004800 1020px 1022px,#004400 1022px 1023px,#004000 1023px 1025px,#004400 1025px 1026px,#004500 1026px 1027px,#004700 1027px 1028px,#004800 1028px 1029px,#004700 1029px 1030px,#003f00 1030px 1032px,#004600 1032px 1034px,#004500 1034px 1036px,#004400 1036px 1039px,#004600 1039px 1040px,#004500 1040px 1041px,#004800 1041px 1043px,#004600 1043px 1046px,#004300 1046px 1048px,#004400 1048px 1050px,#004700 1050px 1054px,#004800 1054px 1055px,#004500 1055px 1057px,#004000 1057px 1058px,#004500 1058px 1059px,#004200 1059px 1062px,#004500 1062px 1063px,#003f00 1063px 1065px,#004300 1065px 1067px,#004500 1067px 1068px,#003f00 1068px 1070px,#004700 1070px 1071px,#004800 1071px 1072px,#004100 1072px 1075px,#003f00 1075px 1076px,#004300 1076px 1078px,#004400 1078px 1080px,#004500 1080px 1082px,#004800 1082px 1084px,#004200 1084px 1085px,#004300 1085px 1088px,#004200 1088px 1090px,#004100 1090px 1094px,#004800 1094px 1095px,#004100 1095px 1096px,#004400 1096px 1098px,#004500 1098px 1100px,#004700 1100px 1101px,#004100 1101px 1103px,#004200 1103px 1104px,#004500 1104px 1107px,#004400 1107px 1111px,#004300 1111px 1114px,#004200 1114px 1115px,#004700 1115px 1116px,#004000 1116px 1117px,#004300 1117px 1118px,#004800 1118px 1120px,#004300 1120px 1122px,#004000 1122px 1125px,#004700 1125px 1126px,#004600 1126px 1127px,#004200 1127px 1128px,#004100 1128px 1130px,#003f00 1130px 1132px,#004800 1132px 1134px,#004600 1134px 1135px,#004400 1135px 1136px,#004600 1136px 1138px,#004700 1138px 1140px,#004b00 1140px 1143px,#004c00 1143px 1144px,#004800 1144px 1145px,#004900 1145px 1148px,#004400 1148px 1151px,#004b00 1151px 1152px,#004700 1152px 1156px,#004400 1156px 1157px,#004600 1157px 1160px,#004800 1160px 1163px,#004900 1163px 1165px,#004400 1165px 1168px,#004700 1168px 1169px,#004400 1169px 1170px,#004500 1170px 1175px,#004900 1175px 1178px,#004500 1178px 1181px,#004800 1181px 1185px,#004900 1185px 1186px,#004400 1186px 1188px,#004b00 1188px 1194px,#004a00 1194px 1198px,#004800 1198px 1200px,#004a00 1200px 1203px,#004500 1203px 1204px,#004c00 1204px 1205px,#004400 1205px 1208px,#004d00 1208px 1210px,#004c00 1210px 1212px,#004d00 1212px 1213px,#004700 1213px 1215px,#004a00 1215px 1218px,#004500 1218px 1220px,#004900 1220px 1221px,#004600 1221px 1224px,#004400 1224px 1226px,#004a00 1226px 1230px,#004400 1230px 1234px,#004b00 1234px 1236px,#004700 1236px 1237px,#004c00 1237px 1241px,#004700 1241px 1245px,#004500 1245px 1247px,#004400 1247px 1250px,#004800 1250px 1251px,#004900 1251px 1252px,#004400 1252px 1255px,#004b00 1255px 1258px,#004c00 1258px 1259px,#004a00 1259px 1260px,#004500 1260px 1261px,#004a00 1261px 1263px,#004c00 1263px 1266px,#004a00 1266px 1267px,#004900 1267px 1268px,#004b00 1268px 1272px,#004600 1272px 1275px,#004400 1275px 1277px,#004b00 1277px 1279px,#004c00 1279px 1280px,#004900 1280px 1282px,#004d00 1282px 1283px,#004b00 1283px 1284px,#004400 1284px 1288px,#004a00 1288px 1290px,#004400 1290px 1295px,#004c00 1295px 1297px,#004900 1297px 1300px,#004c00 1300px 1302px,#004b00 1302px 1304px,#004600 1304px 1305px,#004900 1305px 1308px,#004400 1308px 1311px,#004600 1311px 1315px,#004700 1315px 1316px,#004300 1316px 1318px,#004700 1318px 1319px,#004b00 1319px 1321px,#004900 1321px 1323px,#004700 1323px 1327px,#004600 1327px 1331px,#004700 1331px 1333px,#004d00 1333px 1335px,#004800 1335px 1336px,#004900 1336px 1337px,#004500 1337px 1340px,#004900 1340px 1342px,#004600 1342px 1343px,#004800 1343px 1346px,#004b00 1346px 1348px,#004900 1348px 1351px,#004b00 1351px 1352px,#004800 1352px 1353px,#004c00 1353px 1355px,#004900 1355px 1356px,#004800 1356px 1357px,#004900 1357px 1359px,#004a00 1359px 1364px,#004500 1364px 1365px,#004400 1365px 1367px,#004800 1367px 1368px,#004900 1368px 1369px,#004b00 1369px 1370px,#004400 1370px 1372px,#004b00 1372px 1373px,#004800 1373px 1377px,#004b00 1377px 1378px,#004500 1378px 1380px,#004700 1380px 1382px,#004800 1382px 1383px,#004b00 1383px 1387px,#004500 1387px 1394px,#004600 1394px 1398px,#004c00 1398px 1399px,#004400 1399px 1402px,#004600 1402px 1403px,#004900 1403px 1404px,#004800 1404px 1406px,#004b00 1406px 1407px,#004500 1407px 1412px,#004400 1412px 1414px,#004a00 1414px 1415px,#004500 1415px 1419px,#004700 1419px 1422px,#004600 1422px 1426px,#004500 1426px 1429px,#004700 1429px 1433px,#004800 1433px 1435px,#004b00 1435px 1438px,#004700 1438px 1439px,#004a00 1439px 1442px,#004400 1442px 1443px,#004500 1443px 1448px,#004900 1448px 1451px,#004c00 1451px 1453px,#004400 1453px 1458px,#004700 1458px 1463px,#004400 1463px 1466px,#004700 1466px 1467px,#004c00 1467px 1468px,#004500 1468px 1471px,#004900 1471px 1474px,#004400 1474px 1475px,#004500 1475px 1479px,#004700 1479px 1487px,#004400 1487px 1491px,#004800 1491px 1496px,#004a00 1496px 1497px,#004400 1497px 1499px,#004a00 1499px 1500px,#004500 1500px 1501px,#004800 1501px 1503px,#004400 1503px 1504px,#004c00 1504px 1505px,#004b00 1505px 1507px,#004a00 1507px 1509px,#004c00 1509px 1510px,#004b00 1510px 1511px,#004900 1511px 1519px,#004c00 1519px 1521px,#004900 1521px 1522px,#004c00 1522px 1523px,#004600 1523px 1525px,#004400 1525px 1526px,#004600 1526px 1528px,#004700 1528px 1530px,#004400 1530px 1531px,#004900 1531px 1533px,#004b00 1533px 1536px,#004600 1536px 1537px,#004500 1537px 1538px,#004a00 1538px 1540px,#004b00 1540px 1542px,#004c00 1542px 1545px,#004700 1545px 1548px,#004400 1548px 1550px,#004b00 1550px 1551px,#004a00 1551px 1552px,#004600 1552px 1553px,#004b00 1553px 1554px,#004a00 1554px 1556px,#004c00 1556px 1560px,#004500 1560px 1561px,#004400 1561px 1562px,#004800 1562px 1566px,#004600 1566px 1567px,#004a00 1567px 1573px,#004700 1573px 1575px,#004c00 1575px 1577px,#004300 1577px 1581px,#004600 1581px 1582px,#004700 1582px 1583px,#004600 1583px 1586px,#004800 1586px 1588px,#004700 1588px 1589px,#004400 1589px 1593px,#004c00 1593px 1595px,#004b00 1595px 1597px,#004c00 1597px 1598px,#004a00 1598px 1600px,#004500 1600px 1603px,#004900 1603px 1606px,#004800 1606px 1607px,#004a00 1607px 1609px)"></div><svg width="1902" height="1786" viewBox="0 0 1902 1786">
<text x="72.24" y="36.70" font-size="44.22" textLength="30.61" lengthAdjust="spacingAndGlyphs" font-weight="bold">A</text>
<text x="924.62" y="44.70" font-size="44.36" textLength="30.78" lengthAdjust="spacingAndGlyphs" font-weight="bold">B</text>
<text x="72.97" y="700.50" font-size="40.00" textLength="31.20" lengthAdjust="spacingAndGlyphs" font-weight="bold">C</text>
<text x="73.42" y="1307.30" font-size="42.76" textLength="30.77" lengthAdjust="spacingAndGlyphs" font-weight="bold">D</text>
<g stroke-width="5" stroke-linecap="round" fill="none"><polygon points="296.0,462.0 299.0,475.0 303.6,491.4 315.0,503.0 328.3,513.6 353.0,526.0 397.5,543.2 427.0,526.0 451.8,511.0 476.5,491.4 496.3,464.0 407.3,462.0 398.0,526.0 391.3,462.0" fill="#d2d9e1"/><path d="M437.0 475.5h0M427.0 474.1h0M384.8 468.4h0M316.0 474.1h0M397.6 543.6h0M401.0 514.0h0M368.9 520.9h0M415.3 468.6h0M324.4 510.9h0M315.5 504.1h0M425.6 504.9h0M305.5 494.9h0M366.1 482.5h0M309.0 465.5h0M296.3 464.3h0M354.9 526.8h0M352.1 499.0h0M357.1 470.6h0M475.6 493.0h0M376.2 536.0h0M347.4 491.8h0M392.3 532.4h0M349.3 523.2h0M352.8 527.3h0M362.9 507.7h0M437.3 475.9h0M442.5 502.3h0M431.6 489.5h0M363.8 492.9h0M493.0 469.2h0M420.8 487.0h0M435.9 493.2h0M409.9 481.5h0M357.4 478.4h0M410.4 470.8h0M365.8 530.2h0M462.0 497.8h0M429.2 484.3h0M306.1 479.6h0M339.4 471.7h0M363.1 469.5h0M398.5 534.6h0M365.2 528.5h0M407.5 494.2h0M332.9 495.7h0M366.6 526.9h0M299.6 476.4h0M384.4 466.3h0M328.4 514.2h0M391.5 517.7h0M433.3 482.6h0M347.7 498.9h0M465.8 480.7h0M431.8 518.4h0M380.5 534.2h0M323.8 494.5h0M362.1 469.1h0M391.6 526.4h0M489.0 475.1h0M338.7 506.3h0M367.8 518.8h0M454.1 510.5h0M314.3 502.8h0M306.4 492.3h0M413.9 484.0h0M344.9 473.3h0M426.4 469.0h0M430.2 525.7h0M316.7 482.3h0M307.6 495.7h0M360.5 493.6h0M302.0 473.4h0M336.8 505.2h0M440.3 474.1h0M440.7 486.1h0M444.7 492.7h0M307.0 495.4h0M363.6 498.9h0M423.1 517.4h0M343.0 522.9h0M348.8 504.5h0M380.5 528.3h0M388.4 540.5h0M338.8 503.6h0M389.1 535.0h0M308.2 493.6h0M366.0 531.5h0M444.8 506.8h0M304.2 468.1h0M333.8 473.3h0M351.3 487.3h0M403.4 530.4h0M373.2 525.5h0M428.7 506.7h0M444.5 505.2h0M383.9 538.8h0M417.2 520.8h0M387.4 526.9h0M364.5 503.5h0M384.9 519.3h0M303.2 470.8h0M379.0 466.4h0M408.2 464.5h0M495.7 466.1h0M337.8 465.2h0M380.2 510.1h0M390.6 497.4h0M312.0 499.4h0M347.5 523.3h0M493.3 468.6h0M406.2 538.8h0M352.4 495.1h0M352.2 492.6h0M360.3 470.9h0M425.3 528.5h0M457.6 507.4h0M486.7 479.2h0M376.7 480.0h0M479.2 485.4h0M478.1 475.6h0M371.1 470.0h0M406.4 497.8h0M321.3 507.3h0M349.4 525.8h0M325.1 475.3h0M379.9 478.0h0M471.0 496.9h0M439.0 506.9h0M455.1 477.1h0M431.2 524.6h0M340.0 520.6h0M331.7 465.4h0M400.0 519.9h0M417.9 521.0h0M338.5 520.7h0M408.3 468.7h0M413.8 511.9h0M365.5 532.6h0M446.0 485.5h0M411.8 467.4h0M452.7 471.7h0M328.5 515.1h0M329.1 482.0h0M365.7 532.7h0M405.2 537.4h0M384.7 479.9h0M343.4 519.9h0M329.3 512.6h0M334.0 468.0h0M323.1 491.9h0M448.8 509.5h0M360.2 481.8h0M485.7 478.7h0M307.2 466.0h0M493.5 469.5h0M314.7 490.8h0M408.3 530.3h0M314.7 500.4h0M301.0 470.9h0M415.4 492.5h0M441.8 479.3h0M302.7 463.6h0M424.4 484.3h0M487.2 466.3h0M354.6 527.1h0M431.7 524.9h0M400.2 541.8h0M369.8 470.2h0M393.1 541.9h0M437.2 473.7h0M384.3 498.2h0M419.3 473.4h0M449.7 466.9h0M397.8 536.7h0M460.9 505.7h0M333.9 517.7h0M395.5 543.4h0M382.8 538.5h0M292.9 463.8h0M304.8 493.9h0M368.6 496.7h0M395.1 536.4h0M363.9 515.0h0M417.7 497.8h0M329.3 492.8h0M434.1 484.9h0M410.5 514.7h0M363.2 512.8h0M329.5 511.4h0M392.3 511.8h0M362.7 521.0h0M431.6 512.8h0M339.6 519.9h0M391.2 492.6h0M336.2 509.3h0M366.7 488.3h0M348.0 481.4h0M440.0 477.5h0M461.4 478.3h0M332.2 498.0h0M424.4 487.3h0M317.4 477.3h0M441.9 465.1h0M465.5 484.6h0M411.6 536.3h0M364.4 531.0h0M415.5 533.8h0M323.4 499.1h0M371.6 478.2h0M417.5 525.6h0M368.6 481.9h0M399.5 543.4h0M366.4 484.8h0M433.2 523.5h0M409.7 536.5h0M348.9 519.0h0M371.6 479.4h0M395.4 532.2h0M343.4 467.9h0M454.5 499.4h0M450.3 464.2h0M385.4 538.1h0M466.0 500.8h0M351.6 525.9h0M408.4 535.4h0M363.1 517.9h0M372.4 482.2h0M391.5 503.9h0M308.0 478.9h0M475.7 482.6h0M344.3 523.0h0M429.5 525.6h0M429.3 507.1h0M477.2 490.7h0M358.0 467.0h0M319.7 482.7h0M404.1 483.5h0M420.9 515.6h0M353.3 497.5h0M390.1 518.9h0M334.0 517.5h0M379.8 491.3h0M317.7 483.7h0M325.9 464.7h0M471.9 480.4h0M330.2 466.9h0M382.4 515.8h0M342.2 522.0h0M429.3 473.4h0M340.3 520.9h0M364.7 476.9h0M388.1 539.9h0M410.9 495.3h0M410.5 476.5h0M443.5 516.5h0M437.7 490.5h0M445.4 468.3h0M331.2 515.7h0M319.9 507.7h0M386.3 489.4h0M331.1 479.4h0M496.2 464.2h0M308.5 490.6h0M315.6 479.5h0M426.2 467.2h0M323.8 506.2h0M440.2 518.1h0M362.9 467.0h0M465.3 479.5h0M468.7 469.1h0M402.9 492.0h0M414.1 533.7h0M313.5 467.9h0M453.8 497.1h0M475.8 467.0h0M411.2 499.1h0M336.8 489.1h0M372.7 496.4h0M385.3 538.7h0M476.9 464.4h0M361.1 508.4h0M401.9 507.4h0M446.3 515.0h0M447.8 487.0h0M429.1 491.4h0M301.2 473.0h0M435.9 492.5h0M477.6 491.9h0M494.7 467.3h0M406.5 467.3h0M386.6 538.1h0M335.6 464.9h0M348.8 473.3h0M397.4 545.0h0M449.0 481.3h0M329.0 491.9h0M435.9 475.1h0M373.7 508.2h0M352.7 471.3h0M409.2 529.9h0M361.2 507.8h0M442.0 471.9h0M337.4 514.7h0M331.1 504.6h0M461.2 495.1h0M476.3 470.3h0M415.8 515.6h0M433.1 523.5h0M332.0 477.1h0M415.4 533.0h0M364.7 517.9h0M375.9 477.3h0M471.2 474.3h0M448.8 478.3h0M369.6 489.3h0M387.6 464.6h0M462.2 503.1h0M469.8 481.9h0M358.4 466.8h0M345.9 508.2h0M441.6 482.6h0M324.7 472.2h0M424.8 479.3h0M420.6 510.3h0M336.9 477.5h0M390.6 490.0h0M430.0 473.1h0M336.2 494.8h0M343.2 479.1h0M430.3 518.2h0M462.3 466.1h0M483.5 481.2h0M325.7 512.4h0M496.1 463.9h0M395.6 512.8h0M350.7 519.0h0M364.1 527.6h0M493.0 466.0h0M430.4 487.7h0M340.8 497.4h0M485.6 479.9h0M305.3 484.6h0M352.6 499.0h0M456.5 509.1h0M378.4 537.6h0M361.4 478.9h0M386.1 511.8h0M429.5 488.4h0M461.1 482.0h0M473.8 493.8h0M461.5 490.0h0M361.0 523.9h0M432.6 511.0h0M418.5 508.6h0M364.3 489.7h0M376.4 536.9h0M435.2 481.2h0M385.1 506.6h0M369.6 525.0h0M488.6 475.8h0M454.4 509.0h0M359.0 516.8h0M323.5 510.5h0M427.8 526.5h0M461.4 503.7h0M493.3 469.4h0M478.8 490.1h0M361.7 475.0h0M421.5 486.7h0M408.7 475.8h0M499.3 463.7h0M451.9 498.7h0M413.4 504.2h0M405.6 498.7h0M327.9 479.8h0M366.2 527.5h0M461.4 503.9h0M329.8 481.0h0M358.4 522.5h0M414.4 477.4h0M365.0 495.8h0M449.8 513.7h0M364.8 516.4h0M299.0 470.0h0M383.4 476.5h0M381.7 537.8h0M344.7 473.6h0M424.7 475.2h0M328.5 463.9h0M463.1 469.9h0M467.7 478.4h0M321.7 467.3h0M469.2 471.2h0M326.6 507.5h0M420.4 526.1h0M450.9 469.7h0M331.0 502.5h0M467.8 477.6h0M373.0 534.8h0M323.1 470.1h0M310.7 477.6h0M304.6 489.1h0M425.0 524.1h0M359.1 499.9h0M431.0 475.5h0M333.7 503.3h0M348.6 524.6h0M458.3 500.0h0M322.1 489.7h0M382.4 539.2h0M459.5 496.6h0M339.7 499.2h0M408.5 473.1h0M418.3 531.5h0M374.7 535.6h0M479.0 489.9h0M434.4 505.8h0M496.0 464.0h0M402.9 520.6h0M362.0 496.7h0M197.3 513.6h0M236.8 514.6h0M266.5 493.8h0M278.8 481.5h0M280.0 496.0h0M288.7 509.9h0M308.5 516.0h0M572.9 491.8h0M619.9 484.4h0M627.3 487.6h0M537.8 482.0h0M523.5 493.8h0M514.8 476.5h0M524.7 464.0h0M282.0 466.0h0M270.0 470.0h0M262.0 464.0h0M530.0 470.0h0M545.0 468.0h0" stroke="#d2d9e1"/><polygon points="355.0,462.0 355.0,302.0 361.6,301.0 370.3,340.6 377.7,390.0 390.0,451.8 391.3,462.0" fill="#8ccbf2"/><path d="M367.2 323.2h0M371.2 421.8h0M394.7 448.3h0M368.5 364.8h0M377.3 408.0h0M374.3 443.4h0M360.7 300.2h0M363.7 453.1h0M367.8 434.1h0M357.1 455.7h0M387.2 424.9h0M361.4 305.0h0M381.2 404.8h0M391.4 438.6h0M363.0 380.4h0M358.3 320.0h0M377.2 422.6h0M361.9 301.1h0M366.1 325.8h0M373.0 351.7h0M368.3 366.8h0M365.7 316.3h0M359.7 368.7h0M385.0 447.7h0M379.8 432.0h0M377.0 374.7h0M380.4 387.7h0M366.5 451.7h0M367.5 404.8h0M376.9 360.0h0M362.2 405.5h0M370.7 379.6h0M362.2 432.0h0M356.7 345.5h0M370.7 339.5h0M377.8 416.2h0M362.3 409.6h0M377.8 379.5h0M374.5 368.7h0M389.7 437.9h0M358.6 403.6h0M390.0 445.9h0M390.2 456.9h0M386.8 433.6h0M357.3 426.6h0M378.0 423.4h0M362.8 303.3h0M371.0 344.6h0M373.3 424.3h0M375.6 431.7h0M376.2 373.7h0M391.1 437.1h0M373.3 326.0h0M369.3 391.6h0M361.2 332.7h0M369.5 376.0h0M390.9 454.9h0M366.9 337.2h0M368.4 426.9h0M382.3 377.1h0M369.0 331.2h0M393.1 449.6h0M383.2 403.9h0M383.4 414.6h0M368.5 379.7h0M391.3 442.2h0M377.1 382.0h0M370.7 353.2h0M367.2 453.3h0M378.9 384.8h0M380.1 396.5h0M387.4 454.6h0M375.8 394.1h0M362.5 373.2h0M362.1 343.0h0M360.9 421.0h0M366.4 355.7h0M362.5 379.8h0M367.6 342.2h0M356.8 332.2h0M358.3 320.7h0M379.6 367.0h0M370.3 335.1h0M373.9 408.2h0M361.7 437.9h0M378.3 395.1h0M385.5 422.2h0M357.5 332.1h0M380.5 401.3h0M364.3 364.6h0M387.2 428.4h0M357.0 386.5h0M368.9 413.6h0M383.4 408.3h0M385.6 428.3h0M371.2 341.6h0M389.6 428.1h0M390.2 452.0h0M366.2 395.9h0M363.0 315.0h0M387.9 448.5h0M368.1 325.9h0M365.6 307.6h0M367.1 374.6h0M368.2 326.2h0M356.9 320.4h0M371.6 339.4h0M383.5 458.9h0M372.1 457.1h0M385.4 427.5h0M376.1 381.9h0M377.6 376.4h0M362.6 415.6h0M379.7 407.0h0M369.8 435.6h0M385.5 422.9h0M376.5 364.7h0M367.2 384.6h0M358.7 342.7h0M382.6 412.9h0" stroke="#8ccbf2"/><polygon points="441.0,462.0 441.0,333.0 438.2,333.2 427.1,353.0 417.2,390.0 409.8,439.5 407.3,462.0" fill="#f9bcca"/><path d="M436.4 335.0h0M411.2 421.7h0M429.6 428.0h0M416.7 428.0h0M419.3 391.3h0M431.5 363.1h0M416.6 390.2h0M437.0 374.2h0M415.0 441.3h0M416.7 420.6h0M414.5 400.2h0M405.4 450.3h0M437.8 381.5h0M434.1 336.6h0M429.9 418.6h0M409.0 445.8h0M406.6 449.1h0M422.8 439.1h0M439.5 369.0h0M429.3 363.3h0M413.0 416.4h0M417.6 368.6h0M405.2 434.4h0M428.7 408.9h0M428.6 340.2h0M425.9 390.5h0M433.6 338.1h0M408.3 447.1h0M408.4 444.1h0M417.7 383.2h0M423.3 372.1h0M419.6 400.4h0M430.0 342.5h0M425.6 388.8h0M409.8 394.9h0M416.0 389.3h0M404.5 459.6h0M413.6 408.4h0M432.6 367.0h0M429.8 348.0h0M408.6 443.5h0M417.4 425.9h0M416.3 448.4h0M414.0 399.6h0M412.7 407.2h0M412.3 400.2h0M414.6 429.9h0M433.8 458.3h0M437.3 336.4h0M416.5 444.4h0M417.7 385.2h0M427.6 388.7h0M412.6 403.8h0M427.9 349.0h0M432.7 340.6h0M427.8 368.0h0M428.0 410.8h0M425.3 388.2h0M428.9 450.9h0M422.3 413.0h0M418.3 408.4h0M426.8 351.9h0M423.8 362.7h0M432.6 446.7h0M420.7 379.9h0M431.0 433.2h0M427.1 347.9h0M427.3 420.9h0M436.8 379.1h0M438.4 451.5h0M421.2 378.8h0M425.7 421.2h0M435.8 410.3h0M430.1 404.1h0M430.0 357.6h0M422.3 371.7h0M412.5 406.3h0M439.4 332.5h0M418.0 380.9h0M433.6 426.5h0M414.6 415.2h0M430.7 358.2h0M420.5 421.6h0M433.2 400.1h0M409.9 450.1h0M420.5 375.2h0M427.6 411.4h0M407.8 434.7h0M421.0 413.6h0M412.0 442.1h0M426.1 405.4h0M418.4 383.0h0M430.9 445.0h0M417.9 430.6h0M416.3 384.7h0M422.8 360.2h0M423.2 398.5h0M409.1 440.2h0M424.8 410.9h0M427.9 347.3h0M431.0 422.0h0M434.3 388.6h0M425.0 449.3h0M435.8 384.3h0M412.5 359.7h0M434.0 339.7h0M415.2 394.5h0M438.0 340.4h0M430.6 444.0h0M429.5 422.1h0" stroke="#f9bcca"/><polygon points="354.0,462.0 309.7,462.0 307.3,439.5 309.7,414.8 312.0,395.0 318.0,380.0 325.0,362.0 332.0,345.0 338.0,330.0 345.0,318.0 350.0,308.0 354.0,303.0" fill="#3d78b3"/><path d="M341.0 436.1h0M312.0 379.8h0M310.6 402.9h0M323.1 317.1h0M350.0 368.1h0M286.8 366.6h0M307.7 444.2h0M321.5 314.8h0M330.8 457.2h0M305.1 436.4h0M315.4 408.8h0M298.8 410.4h0M336.9 309.1h0M294.1 445.7h0M334.3 456.0h0M299.3 450.5h0M279.8 436.4h0M287.0 425.3h0M318.3 370.3h0M349.3 262.5h0M349.6 274.0h0M331.0 257.6h0M288.9 394.6h0M288.8 361.4h0M313.5 370.7h0M339.8 395.2h0M295.3 420.4h0M340.2 325.4h0M315.6 372.7h0M292.6 432.4h0M302.0 433.4h0M306.4 397.5h0M350.6 389.5h0M289.4 457.2h0M293.0 386.5h0M323.9 354.2h0M349.9 455.4h0M320.3 328.4h0M300.0 421.9h0M291.9 340.7h0M322.8 445.6h0M326.3 426.8h0M280.0 398.7h0M315.0 334.8h0M320.2 404.8h0M295.3 433.9h0M337.3 244.5h0M325.6 326.8h0M309.9 319.0h0M301.2 418.7h0M320.7 367.2h0M336.1 447.1h0M328.3 354.5h0M343.4 441.0h0M349.2 392.8h0M296.8 349.7h0M316.7 349.1h0M326.1 381.0h0M300.7 439.9h0M322.9 459.7h0M302.4 399.8h0M282.6 247.7h0M345.1 289.0h0M284.4 392.4h0M332.4 306.9h0M306.1 382.2h0M328.3 329.7h0M315.7 378.3h0M300.3 377.2h0M322.0 337.5h0M345.1 382.7h0M264.1 415.6h0M320.4 331.8h0M343.0 382.3h0M311.9 442.8h0M309.7 363.0h0M286.8 403.3h0M325.0 391.0h0M305.5 446.2h0M323.6 398.1h0M340.2 424.5h0M316.4 357.5h0M338.5 325.5h0M305.4 449.1h0M341.7 293.9h0M298.7 430.8h0M281.8 393.6h0M264.1 408.2h0M346.8 300.3h0M312.3 374.1h0M292.7 404.5h0M346.6 315.1h0M274.2 382.7h0M308.6 377.0h0M297.6 360.4h0M313.7 441.7h0M338.7 327.9h0M319.9 332.6h0M302.7 442.5h0M351.0 341.3h0M337.7 420.8h0M318.5 330.6h0M338.0 312.6h0M306.1 443.7h0M299.5 386.6h0M275.6 458.4h0M289.2 428.3h0M287.2 434.3h0M335.1 291.9h0M293.2 305.0h0M311.0 392.4h0M300.3 438.1h0M352.5 353.1h0M307.6 444.1h0M305.5 408.7h0M308.3 407.9h0M327.6 386.6h0M302.1 356.4h0M346.2 395.1h0M337.7 397.1h0M326.5 380.4h0M310.7 444.8h0M312.7 425.9h0M296.3 380.3h0M322.7 357.7h0M334.8 324.7h0M284.8 435.7h0M303.1 424.6h0M345.9 297.2h0M279.7 439.7h0M306.2 368.6h0M259.4 416.8h0M294.5 387.1h0M346.9 404.6h0M346.9 364.8h0M323.1 361.9h0M313.8 329.2h0M305.4 414.6h0M347.6 449.1h0M323.5 390.4h0M291.3 375.9h0M331.1 405.7h0M334.7 416.7h0M325.1 384.1h0M299.9 400.3h0M336.6 383.2h0M286.7 452.1h0M348.5 344.9h0M305.0 428.8h0M345.2 295.8h0M305.8 427.8h0M308.6 452.9h0M350.2 345.7h0M337.4 261.9h0M300.0 439.5h0M345.7 316.3h0M328.2 304.3h0M296.2 389.5h0M335.2 363.4h0M333.8 335.0h0M336.7 313.7h0M343.2 319.9h0M319.9 374.6h0M328.6 343.3h0M312.5 397.8h0M348.1 451.4h0M323.5 399.3h0M330.6 341.9h0M301.7 446.7h0M299.1 436.9h0M318.5 370.7h0M335.7 271.6h0M297.5 369.0h0M335.6 361.8h0M301.8 429.5h0M341.7 358.1h0M350.5 319.4h0M305.8 414.2h0M302.6 371.5h0M347.4 300.1h0M331.3 393.9h0M319.8 433.9h0M286.6 451.6h0M346.3 311.0h0M301.5 389.5h0M307.8 397.3h0M300.1 418.3h0M284.6 448.1h0M320.4 358.5h0M338.5 326.6h0M301.6 348.2h0M274.8 409.5h0M302.2 434.7h0M327.4 360.2h0M319.1 359.0h0M325.9 339.5h0M303.2 458.5h0M297.4 357.4h0M310.0 399.4h0M322.8 364.1h0M300.3 425.5h0M343.1 313.5h0M307.1 403.9h0M294.9 361.4h0M316.9 379.5h0M307.3 417.3h0M352.1 443.3h0M295.5 418.4h0M307.8 366.9h0M317.3 292.3h0M316.6 457.5h0M346.1 413.9h0M324.6 388.1h0M338.3 363.5h0M308.0 449.8h0M332.4 294.6h0M322.7 328.3h0M329.2 265.4h0M341.1 454.8h0M319.1 380.6h0M341.2 414.6h0M349.7 265.5h0M350.3 296.2h0M308.9 294.0h0M330.2 337.3h0M351.8 292.2h0M338.6 323.4h0M294.7 387.5h0M322.5 449.2h0M287.7 391.5h0M337.4 330.2h0M343.3 447.8h0M307.8 413.5h0M314.8 413.3h0M298.5 406.2h0M308.5 416.9h0M312.0 360.1h0M335.7 453.9h0M352.0 277.0h0M342.6 318.0h0M306.4 402.4h0M300.3 386.3h0M284.0 443.3h0M321.8 432.6h0M306.6 311.9h0M346.1 372.1h0M329.9 386.0h0M297.8 458.6h0M305.6 434.1h0M323.3 386.1h0M335.5 452.1h0M310.3 426.4h0M345.4 297.9h0M335.2 322.5h0M296.3 398.0h0M337.9 411.8h0M307.5 450.3h0M313.1 309.4h0M326.9 352.3h0M319.8 447.0h0M306.1 458.4h0M286.5 450.6h0M341.3 381.3h0M318.8 358.0h0M351.0 409.4h0M343.0 305.9h0M304.2 436.7h0M329.5 312.9h0M341.3 315.2h0M288.9 303.9h0M297.5 413.7h0M337.3 333.6h0M346.6 454.5h0M336.8 430.1h0M307.3 441.7h0M306.3 426.3h0M302.6 391.7h0M337.7 387.1h0M326.7 334.5h0M309.7 412.8h0M343.3 361.1h0M332.5 352.4h0M299.4 387.4h0M350.3 335.7h0M323.5 336.7h0M339.3 308.5h0M333.3 328.3h0M301.4 441.4h0M310.6 407.0h0M299.4 433.5h0M311.3 434.1h0M334.2 335.0h0M343.4 402.0h0M281.9 387.6h0M331.1 333.9h0M348.5 297.8h0M341.4 323.4h0M316.8 459.6h0M351.1 430.1h0M288.2 423.0h0M346.6 395.8h0M344.6 449.9h0M322.2 430.8h0M337.3 330.7h0M330.8 372.0h0M289.5 393.0h0M283.2 426.2h0M289.7 444.3h0M343.1 312.8h0M345.2 367.6h0M290.7 322.6h0M297.2 443.7h0M312.0 356.3h0M306.1 439.0h0M337.0 326.9h0M346.5 331.8h0M273.6 422.0h0M334.5 287.2h0M286.7 353.2h0M290.5 407.2h0M345.7 359.5h0M324.1 337.1h0M276.9 457.2h0M331.9 450.2h0M322.2 333.1h0M350.1 296.5h0M318.0 450.8h0M316.9 392.7h0M350.1 343.1h0M291.8 436.0h0M289.1 427.2h0M334.6 458.8h0M326.1 367.7h0M265.7 433.7h0M328.5 343.4h0M317.4 378.2h0M336.9 328.2h0M334.1 354.3h0M319.6 434.3h0M340.6 349.4h0M303.7 412.2h0M299.7 438.7h0M317.1 396.9h0M348.3 284.4h0M339.0 449.3h0M303.7 365.2h0M299.7 443.6h0M336.9 446.1h0M343.9 373.8h0M320.4 389.8h0M322.6 430.2h0M306.6 411.6h0M308.2 429.9h0M314.4 366.3h0M348.0 447.6h0M304.2 423.4h0M321.8 359.4h0M346.4 345.8h0M346.8 347.2h0M342.3 337.3h0M336.5 446.0h0M352.3 426.5h0M301.0 424.5h0M304.4 398.6h0M332.3 336.7h0M338.6 291.7h0M317.1 351.2h0M328.0 388.0h0M298.7 390.9h0M316.0 361.3h0M349.8 417.2h0M350.3 449.6h0M336.4 340.7h0M267.4 415.0h0M322.6 351.1h0M324.5 395.6h0M351.0 454.7h0M341.9 305.1h0M319.3 366.1h0M295.4 389.5h0M327.7 392.1h0M302.9 443.1h0M345.2 361.6h0M331.5 314.7h0M344.5 307.3h0M305.3 388.9h0M313.0 282.1h0M332.8 454.2h0M339.7 323.5h0M346.9 445.9h0M331.6 340.2h0M326.7 353.6h0M335.9 449.9h0M298.0 377.9h0M346.2 377.3h0M298.7 410.0h0M344.1 357.6h0M337.1 439.4h0M315.7 442.0h0M348.0 369.1h0M298.3 390.6h0M347.6 439.4h0M315.8 412.3h0M322.1 343.0h0M331.9 345.5h0M313.1 397.0h0M338.6 320.5h0M335.8 390.9h0M323.9 314.7h0M328.0 343.8h0M317.5 365.2h0M297.3 386.5h0M350.8 279.3h0M306.4 445.4h0M318.4 371.4h0M281.8 455.0h0M311.7 393.7h0M326.4 450.3h0M341.7 282.1h0M328.7 449.9h0M335.8 370.0h0M337.0 316.6h0M313.6 385.7h0M305.5 449.8h0M323.9 318.0h0M334.7 332.7h0M308.8 459.4h0M317.4 299.4h0M351.1 283.4h0M344.2 293.0h0M308.6 358.8h0M300.5 428.7h0M336.3 447.1h0M351.8 385.1h0M302.8 389.1h0M313.8 453.1h0M275.5 412.3h0M334.0 327.8h0M315.4 381.5h0M297.6 382.6h0M314.8 386.0h0M295.9 431.7h0M325.2 413.0h0M340.7 380.4h0M281.7 453.8h0M340.8 319.7h0M330.8 344.3h0M330.0 298.1h0M338.4 332.3h0M334.8 325.2h0M305.9 409.2h0M310.7 382.2h0M306.4 453.2h0M323.6 339.8h0M310.6 416.1h0M336.5 291.1h0M342.4 360.7h0M297.6 405.1h0M340.2 407.0h0M333.5 298.8h0M340.4 311.5h0M332.1 436.5h0M317.2 310.6h0M335.6 280.9h0M316.7 410.6h0M311.6 358.4h0M319.2 375.1h0M274.9 366.9h0M305.6 379.4h0M319.1 343.3h0M300.5 447.6h0M338.8 445.2h0M308.1 388.0h0M328.4 326.6h0M339.4 320.8h0M281.2 444.0h0M295.6 435.9h0M255.7 456.4h0M301.3 341.8h0M340.4 411.0h0M324.5 198.7h0M328.5 207.3h0M315.0 216.0h0M341.0 245.0h0M346.5 253.5h0M262.8 272.7h0M284.0 322.0h0M267.0 387.0h0M261.0 399.0h0M252.0 460.0h0M275.0 451.0h0M284.0 440.0h0M296.0 454.0h0" stroke="#3d78b3"/><polygon points="442.0,462.0 442.0,334.0 452.0,330.0 460.0,340.0 465.0,360.0 469.0,398.0 476.0,430.0 481.0,450.0 484.0,462.0" fill="#f04a3e"/><path d="M473.4 418.1h0M461.7 338.8h0M461.6 406.3h0M482.7 451.5h0M466.7 349.0h0M507.9 444.3h0M467.2 443.3h0M453.1 386.8h0M462.2 336.4h0M456.1 324.0h0M453.3 376.2h0M472.1 328.7h0M492.0 457.7h0M450.2 451.4h0M460.5 327.1h0M471.3 369.2h0M449.4 326.6h0M475.9 330.4h0M486.2 432.0h0M481.4 434.7h0M478.7 378.9h0M462.7 382.8h0M445.6 330.2h0M468.0 386.5h0M482.1 452.2h0M459.4 398.6h0M463.8 342.8h0M485.7 356.3h0M470.4 432.3h0M500.7 349.2h0M471.8 432.4h0M467.1 405.8h0M492.8 362.6h0M484.4 438.1h0M444.0 351.9h0M507.5 453.6h0M450.7 426.5h0M467.6 305.6h0M451.9 331.1h0M502.4 299.0h0M484.3 356.4h0M517.1 419.5h0M469.7 373.0h0M485.8 397.2h0M502.9 443.1h0M469.7 374.3h0M455.7 412.2h0M496.5 363.0h0M471.6 459.6h0M479.0 435.6h0M474.6 401.4h0M497.9 348.9h0M471.9 432.1h0M474.5 345.5h0M474.5 332.6h0M471.5 370.8h0M470.6 443.7h0M456.8 371.9h0M463.6 362.5h0M473.5 403.2h0M467.4 426.9h0M473.4 373.0h0M483.8 410.9h0M480.7 378.8h0M476.5 431.8h0M475.7 444.2h0M516.4 392.5h0M461.0 328.0h0M468.5 369.1h0M482.8 374.0h0M448.6 357.0h0M475.4 453.1h0M504.4 334.5h0M471.3 322.9h0M521.9 407.7h0M470.3 383.3h0M487.2 319.0h0M483.8 455.0h0M446.3 312.7h0M457.9 320.6h0M466.0 328.6h0M459.5 385.0h0M458.1 337.4h0M443.8 330.3h0M473.8 351.1h0M475.0 336.3h0M458.6 449.8h0M526.4 378.4h0M466.9 403.8h0M467.0 367.5h0M476.1 425.0h0M474.8 411.2h0M480.6 418.9h0M453.9 401.3h0M479.5 405.1h0M474.5 396.9h0M491.5 399.7h0M467.2 353.8h0M445.1 355.3h0M483.2 391.5h0M445.8 388.3h0M479.0 423.0h0M465.7 351.5h0M447.8 428.2h0M457.7 444.0h0M457.1 342.2h0M511.5 377.0h0M491.0 380.8h0M455.4 454.0h0M447.6 318.2h0M493.1 398.5h0M491.3 445.2h0M462.8 393.6h0M444.0 319.4h0M477.6 431.4h0M448.8 351.8h0M462.8 345.6h0M486.7 451.2h0M470.1 371.0h0M479.6 401.0h0M487.9 379.8h0M498.2 385.2h0M504.9 447.4h0M467.4 275.7h0M469.0 371.9h0M485.0 422.5h0M467.8 343.6h0M497.1 355.0h0M464.3 355.7h0M462.7 435.3h0M507.7 442.4h0M515.3 451.1h0M475.2 370.8h0M476.5 387.4h0M472.2 313.5h0M451.5 444.4h0M495.8 409.3h0M459.9 396.8h0M501.0 449.5h0M486.5 457.6h0M470.9 346.2h0M484.7 456.3h0M455.9 386.7h0M462.8 321.6h0M461.9 325.9h0M462.7 404.4h0M473.7 414.2h0M476.3 399.1h0M482.4 414.0h0M475.6 449.3h0M464.4 331.2h0M461.5 337.2h0M452.5 322.5h0M474.1 410.4h0M492.9 347.6h0M471.9 397.3h0M495.3 347.8h0M471.9 431.0h0M463.1 422.9h0M495.1 398.4h0M472.5 407.8h0M504.2 422.1h0M473.7 355.9h0M480.7 400.3h0M489.1 329.6h0M474.9 305.7h0M447.3 382.1h0M443.9 422.5h0M474.2 363.6h0M450.7 312.6h0M471.4 364.2h0M490.4 373.8h0M479.9 359.5h0M450.6 407.8h0M524.5 392.0h0M465.4 300.3h0M469.3 340.9h0M472.7 408.7h0M449.4 449.4h0M444.0 274.0h0M483.8 428.7h0M481.3 423.0h0M463.2 318.4h0M478.7 437.0h0M447.0 330.1h0M468.0 322.0h0M456.5 402.8h0M472.8 408.3h0M484.5 389.2h0M463.3 352.9h0M474.5 346.6h0M465.4 364.0h0M498.3 452.9h0M497.0 421.4h0M485.0 410.3h0M452.6 350.3h0M452.0 306.3h0M494.3 404.4h0M510.1 382.9h0M488.0 453.5h0M457.2 328.3h0M444.8 307.4h0M484.1 453.2h0M451.4 360.5h0M504.8 424.4h0M472.6 358.5h0M476.0 428.2h0M468.5 341.4h0M470.0 287.3h0M498.6 450.3h0M481.4 459.1h0M448.6 364.2h0M477.7 332.8h0M456.5 451.1h0M468.1 403.9h0M448.6 320.7h0M485.4 448.2h0M483.9 376.1h0M455.7 325.9h0M496.4 432.9h0M480.2 399.9h0M515.7 451.7h0M481.2 438.7h0M492.4 430.6h0M492.9 443.7h0M475.2 375.2h0M473.6 358.1h0M447.3 343.8h0M445.8 324.3h0M474.1 439.9h0M489.6 452.2h0M481.5 399.7h0M489.4 458.5h0M474.8 370.1h0M452.7 387.6h0M448.8 385.6h0M479.5 431.0h0M453.6 400.9h0M478.7 409.0h0M455.3 311.4h0M514.5 449.6h0M466.8 346.1h0M490.5 447.4h0M507.0 368.6h0M471.4 387.2h0M466.8 441.9h0M448.0 348.0h0M503.0 313.9h0M479.4 459.8h0M462.1 322.0h0M491.5 441.2h0M476.5 424.1h0M503.3 409.2h0M476.0 362.8h0M472.8 327.4h0M476.1 307.2h0M448.9 441.5h0M468.4 402.3h0M472.3 365.3h0M496.0 374.6h0M497.2 434.7h0M473.0 423.4h0M474.5 432.4h0M473.9 328.2h0M548.6 351.3h0M447.0 442.3h0M464.7 358.1h0M490.1 457.3h0M463.1 331.5h0M489.1 449.7h0M488.6 358.4h0M447.1 420.0h0M478.2 423.2h0M468.3 352.0h0M473.3 411.7h0M479.0 364.8h0M487.4 438.8h0M474.6 386.2h0M457.7 352.6h0M500.8 416.6h0M465.7 309.6h0M487.8 444.1h0M478.5 374.4h0M472.6 358.2h0M486.4 415.7h0M466.5 323.1h0M457.6 457.1h0M492.3 409.0h0M454.5 306.1h0M483.2 444.8h0M454.5 391.4h0M460.4 357.2h0M465.0 347.4h0M480.0 416.6h0M468.3 372.1h0M472.1 409.4h0M448.6 315.6h0M481.2 396.3h0M452.1 324.6h0M469.6 348.6h0M464.0 433.1h0M498.1 349.8h0M480.5 390.0h0M474.4 342.5h0M448.9 451.8h0M447.6 404.8h0M492.8 451.6h0M481.1 368.3h0M449.7 348.8h0M450.9 307.4h0M525.3 411.3h0M461.5 335.3h0M453.8 383.5h0M481.5 451.3h0M496.5 314.5h0M469.0 403.7h0M491.8 405.6h0M474.2 337.0h0M469.8 386.7h0M444.6 369.5h0M474.1 335.1h0M479.6 356.3h0M474.0 295.9h0M470.9 405.3h0M456.0 370.0h0M478.0 429.8h0M472.3 372.5h0M445.3 347.2h0M499.2 344.2h0M474.1 360.5h0M447.4 344.5h0M479.1 393.1h0M501.0 433.5h0M446.8 332.9h0M485.9 416.0h0M521.2 457.0h0M491.1 440.8h0M509.4 374.9h0M465.3 348.8h0M480.7 395.3h0M511.4 453.4h0M470.3 395.2h0M461.3 452.9h0M459.7 321.3h0M447.7 413.1h0M467.2 362.3h0M476.4 370.2h0M501.9 457.8h0M480.4 373.2h0M524.7 453.0h0M462.8 343.5h0M458.1 358.2h0M471.0 382.9h0M447.3 346.5h0M449.8 395.6h0M478.6 432.7h0M470.3 402.5h0M447.7 327.7h0M471.7 357.0h0M450.3 339.3h0M444.6 305.7h0M479.5 429.3h0M457.2 313.7h0M500.0 426.2h0M461.8 321.0h0M462.4 342.0h0M469.5 425.0h0M486.3 430.3h0M467.2 374.2h0M477.5 417.2h0M490.8 458.1h0M461.7 442.9h0M480.0 279.1h0M498.3 357.2h0M475.1 419.9h0M473.9 396.6h0M490.0 427.8h0M483.9 438.4h0M464.0 349.7h0M475.0 437.4h0M467.3 417.3h0M459.4 452.8h0M474.0 357.5h0M472.1 456.5h0M473.5 416.8h0M449.0 318.9h0M457.1 317.4h0M486.4 449.7h0M477.0 378.4h0M449.4 312.0h0M490.6 412.6h0M491.0 425.0h0M497.4 431.5h0M478.4 390.7h0M468.9 388.3h0M475.9 436.3h0M483.3 388.7h0M485.1 362.1h0M450.5 405.5h0M521.4 369.4h0M511.2 457.5h0M475.0 392.6h0M469.5 370.7h0M478.4 405.1h0M460.6 399.6h0M473.2 355.1h0M476.3 430.4h0M470.0 357.6h0M473.1 356.9h0M476.8 409.2h0M479.0 421.1h0M479.4 432.9h0M480.1 398.0h0M487.7 424.3h0M465.5 353.4h0M501.7 394.2h0M477.9 440.5h0M453.9 375.8h0M481.7 418.4h0M485.0 350.0h0M465.1 332.9h0M477.5 385.5h0M456.9 307.5h0M462.3 358.4h0M509.2 399.5h0M460.3 339.8h0M471.9 365.4h0M486.0 429.2h0M466.9 406.5h0M496.2 365.3h0M479.5 374.2h0M457.5 408.8h0M461.6 336.0h0M444.9 350.9h0M459.0 334.7h0M479.6 424.7h0M456.9 360.5h0M447.9 408.8h0M474.5 389.1h0M488.2 446.0h0M482.0 401.1h0M476.4 428.8h0M464.1 347.1h0M481.7 451.8h0M476.5 407.5h0M458.0 334.5h0M472.9 397.1h0M455.9 307.1h0M478.9 388.0h0M468.7 316.3h0M476.0 453.8h0M485.0 456.3h0M489.1 416.1h0M447.6 448.0h0M457.9 333.1h0M491.0 446.6h0M471.6 362.3h0M474.0 367.0h0M468.9 339.9h0M459.0 390.9h0M482.5 263.5h0M480.0 268.0h0M482.0 278.0h0M510.5 284.0h0M512.5 289.5h0M549.5 328.0h0M538.5 442.0h0M515.0 444.0h0M506.0 395.0h0M512.0 378.0h0M497.0 305.0h0M492.0 283.0h0" stroke="#f04a3e"/></g>
<g stroke="#9a9a9a" stroke-width="2" stroke-dasharray="8.5 6.5" fill="none"><path d="M354 57.3V588M441.8 57.3V588M150.2 460.7H648"/></g>
<rect x="146.2" y="53.7" width="503.9" height="536.2" fill="none" stroke="#000" stroke-width="4.2"/>
<text x="155.74" y="74.10" font-size="17.60" textLength="48.48" lengthAdjust="spacingAndGlyphs" fill="#3c3c3c">Down</text>
<text x="156.11" y="94.60" font-size="17.60" textLength="117.88" lengthAdjust="spacingAndGlyphs" fill="#3c3c3c">p &lt; 0.05: 2913</text>
<text x="155.77" y="121.90" font-size="17.60" textLength="219.77" lengthAdjust="spacingAndGlyphs" fill="#3c3c3c">FoldChange &lt; 0.667: 3027</text>
<text x="156.47" y="151.40" font-size="17.60" textLength="88.25" lengthAdjust="spacingAndGlyphs" fill="#3c3c3c">Sig. : 1390</text>
<text x="451.60" y="74.10" font-size="17.60" textLength="23.14" lengthAdjust="spacingAndGlyphs" fill="#3c3c3c">Up</text>
<text x="451.82" y="94.60" font-size="17.60" textLength="117.05" lengthAdjust="spacingAndGlyphs" fill="#3c3c3c">p &lt; 0.05: 2001</text>
<text x="451.48" y="121.90" font-size="17.60" textLength="193.43" lengthAdjust="spacingAndGlyphs" fill="#3c3c3c">FoldChange &gt;1.5: 1590</text>
<text x="452.17" y="151.40" font-size="17.60" textLength="77.82" lengthAdjust="spacingAndGlyphs" fill="#3c3c3c">Sig. : 876</text>
<text x="125.02" y="84.90" font-size="22.11" textLength="13.11" lengthAdjust="spacingAndGlyphs" fill="#111">6</text>
<rect x="142" y="74.2" width="2.5" height="6" fill="#333"/>
<text x="125.71" y="248.80" font-size="22.11" textLength="12.00" lengthAdjust="spacingAndGlyphs" fill="#111">4</text>
<rect x="142" y="238.1" width="2.5" height="6" fill="#333"/>
<text x="125.00" y="411.90" font-size="22.11" textLength="13.32" lengthAdjust="spacingAndGlyphs" fill="#111">2</text>
<rect x="142" y="401.2" width="2.5" height="6" fill="#333"/>
<text x="125.29" y="574.40" font-size="22.11" textLength="12.70" lengthAdjust="spacingAndGlyphs" fill="#111">0</text>
<rect x="142" y="563.7" width="2.5" height="6" fill="#333"/>
<text x="237.75" y="609.40" font-size="17.80" textLength="15.83" lengthAdjust="spacingAndGlyphs" fill="#444">-2</text>
<rect x="246.3" y="592" width="3.5" height="3" fill="#333"/>
<text x="392.44" y="609.40" font-size="17.80" textLength="9.90" lengthAdjust="spacingAndGlyphs" fill="#444">0</text>
<rect x="395.8" y="592" width="3.5" height="3" fill="#333"/>
<text x="543.66" y="609.40" font-size="17.80" textLength="9.90" lengthAdjust="spacingAndGlyphs" fill="#444">2</text>
<rect x="546.8" y="592" width="3.5" height="3" fill="#333"/>
<text transform="translate(90.10,428.34) rotate(-90) scale(1.3303,1)" x="0" y="0" style="white-space:pre"><tspan font-size="29.00">-log</tspan><tspan font-size="20.00" dy="12.00">10</tspan><tspan font-size="29.00" dy="-12.00">p-value</tspan></text>
<text transform="translate(312.82,641.70) scale(1.0485,1)" x="0" y="0" style="white-space:pre" font-weight="bold"><tspan font-size="25.60">log</tspan><tspan font-size="17.00" dy="7.30">2</tspan><tspan font-size="25.60" dy="-7.30">FoldChange</tspan></text>
<circle cx="681.4" cy="222.8" r="9.2" fill="#f0645a"/>
<text x="708.90" y="227.70" font-size="24.44" textLength="150.38" lengthAdjust="spacingAndGlyphs" fill="#111">Significant Up</text>
<circle cx="681.4" cy="267.2" r="9.2" fill="#4a80b8"/>
<text x="708.90" y="272.40" font-size="24.44" textLength="182.46" lengthAdjust="spacingAndGlyphs" fill="#111">Significant Down</text>
<circle cx="681.4" cy="310.3" r="9.2" fill="#f9c0cb"/>
<text x="707.79" y="317.00" font-size="24.44" textLength="36.48" lengthAdjust="spacingAndGlyphs" fill="#111">Up</text>
<circle cx="681.4" cy="354.7" r="9.2" fill="#8ecbf2"/>
<text x="707.98" y="362.70" font-size="24.44" textLength="62.70" lengthAdjust="spacingAndGlyphs" fill="#111">Down</text>
<circle cx="681.4" cy="398.4" r="9.2" fill="#d3d9e1"/>
<text x="707.96" y="407.00" font-size="24.44" textLength="163.41" lengthAdjust="spacingAndGlyphs" fill="#111">Non-significant</text>
<rect x="103.3" y="1065.7" width="13.3" height="58.3" fill="#ff5e0e"/><rect x="122.4" y="1083.5" width="13.3" height="40.5" fill="#0ac00a"/><line x1="119.5" y1="1125" x2="119.5" y2="1141" stroke="#000" stroke-width="3"/><text transform="translate(132.5,1158) rotate(-45)" text-anchor="end" font-size="25.2" fill="#111">Irs3</text><rect x="161.5" y="1066.9" width="13.3" height="57.1" fill="#ff5e0e"/><rect x="180.6" y="1061.5" width="13.3" height="62.5" fill="#0ac00a"/><line x1="177.7" y1="1125" x2="177.7" y2="1141" stroke="#000" stroke-width="3"/><text transform="translate(190.7,1158) rotate(-45)" text-anchor="end" font-size="25.2" fill="#111">Slc2a4</text><rect x="219.6" y="1070.0" width="13.3" height="54.0" fill="#ff5e0e"/><rect x="238.7" y="1079.4" width="13.3" height="44.6" fill="#0ac00a"/><line x1="235.8" y1="1125" x2="235.8" y2="1141" stroke="#000" stroke-width="3"/><text transform="translate(248.8,1158) rotate(-45)" text-anchor="end" font-size="25.2" fill="#111">Prkag3</text><rect x="277.8" y="1074.0" width="13.3" height="50.0" fill="#ff5e0e"/><rect x="296.8" y="1060.3" width="13.3" height="63.7" fill="#0ac00a"/><line x1="293.9" y1="1125" x2="293.9" y2="1141" stroke="#000" stroke-width="3"/><text transform="translate(306.9,1158) rotate(-45)" text-anchor="end" font-size="25.2" fill="#111">Apoe</text><rect x="335.9" y="1083.5" width="13.3" height="40.5" fill="#ff5e0e"/><rect x="355.0" y="1097.2" width="13.3" height="26.8" fill="#0ac00a"/><line x1="352.1" y1="1125" x2="352.1" y2="1141" stroke="#000" stroke-width="3"/><text transform="translate(365.1,1158) rotate(-45)" text-anchor="end" font-size="25.2" fill="#111">Pdx1</text><rect x="394.1" y="1089.9" width="13.3" height="34.1" fill="#ff5e0e"/><rect x="413.1" y="1075.2" width="13.3" height="48.8" fill="#0ac00a"/><line x1="410.2" y1="1125" x2="410.2" y2="1141" stroke="#000" stroke-width="3"/><text transform="translate(423.2,1158) rotate(-45)" text-anchor="end" font-size="25.2" fill="#111">Vamp2</text><rect x="452.2" y="1071.8" width="13.3" height="52.2" fill="#ff5e0e"/><rect x="471.3" y="1090.8" width="13.3" height="33.2" fill="#0ac00a"/><line x1="468.4" y1="1125" x2="468.4" y2="1141" stroke="#000" stroke-width="3"/><text transform="translate(481.4,1158) rotate(-45)" text-anchor="end" font-size="25.2" fill="#111">Cpt1a</text><rect x="510.3" y="1067.4" width="13.3" height="56.6" fill="#ff5e0e"/><rect x="529.4" y="1080.3" width="13.3" height="43.7" fill="#0ac00a"/><line x1="526.5" y1="1125" x2="526.5" y2="1141" stroke="#000" stroke-width="3"/><text transform="translate(539.5,1158) rotate(-45)" text-anchor="end" font-size="25.2" fill="#111">Pparg</text><rect x="568.5" y="977.9" width="13.3" height="146.1" fill="#ff5e0e"/><rect x="587.6" y="909.2" width="13.3" height="214.8" fill="#0ac00a"/><line x1="584.7" y1="1125" x2="584.7" y2="1141" stroke="#000" stroke-width="3"/><text transform="translate(597.7,1158) rotate(-45)" text-anchor="end" font-size="25.2" fill="#111">Inppl1</text><rect x="626.6" y="913.4" width="13.3" height="210.6" fill="#ff5e0e"/><rect x="645.8" y="877.6" width="13.3" height="246.4" fill="#0ac00a"/><line x1="642.9" y1="1125" x2="642.9" y2="1141" stroke="#000" stroke-width="3"/><text transform="translate(655.9,1158) rotate(-45)" text-anchor="end" font-size="25.2" fill="#111">Irak1</text><rect x="684.8" y="960.0" width="13.3" height="164.0" fill="#ff5e0e"/><rect x="703.9" y="797.6" width="13.3" height="326.4" fill="#0ac00a"/><line x1="701.0" y1="1125" x2="701.0" y2="1141" stroke="#000" stroke-width="3"/><text transform="translate(714.0,1158) rotate(-45)" text-anchor="end" font-size="25.2" fill="#111">Lrp1</text><rect x="742.9" y="955.5" width="13.3" height="168.5" fill="#ff5e0e"/><rect x="762.0" y="902.9" width="13.3" height="221.1" fill="#0ac00a"/><line x1="759.1" y1="1125" x2="759.1" y2="1141" stroke="#000" stroke-width="3"/><text transform="translate(772.1,1158) rotate(-45)" text-anchor="end" font-size="25.2" fill="#111">Atp1b3</text>
<path d="M90 740V1125M73.5 741H90M73.5 837.7H90M73.5 933.4H90M73.5 1029.1H90" stroke="#000" stroke-width="2.6" fill="none"/>
<path d="M73 1125H791.5" stroke="#000" stroke-width="3.4"/>
<text x="53.06" y="1134.60" font-size="28.51" textLength="17.21" lengthAdjust="spacingAndGlyphs" font-weight="bold">0</text>
<text x="52.32" y="1038.90" font-size="28.51" textLength="17.58" lengthAdjust="spacingAndGlyphs" font-weight="bold">1</text>
<text x="53.23" y="943.20" font-size="28.51" textLength="16.94" lengthAdjust="spacingAndGlyphs" font-weight="bold">2</text>
<text x="53.64" y="847.50" font-size="28.51" textLength="16.43" lengthAdjust="spacingAndGlyphs" font-weight="bold">3</text>
<text x="53.89" y="751.80" font-size="28.51" textLength="15.28" lengthAdjust="spacingAndGlyphs" font-weight="bold">4</text>
<rect x="192" y="750" width="29.5" height="12.6" fill="#ff5e0e"/><rect x="192" y="792.5" width="29.5" height="13" fill="#0ac00a"/>
<text x="241.30" y="765.20" font-size="26.04" textLength="125.77" lengthAdjust="spacingAndGlyphs" fill="#111">Microarray</text>
<text x="241.26" y="808.30" font-size="26.04" textLength="115.43" lengthAdjust="spacingAndGlyphs" fill="#111">RT-qPCR</text>
<text transform="translate(24.10,1128.76) rotate(-90)" x="0" y="0" font-size="26.76" textLength="386.60" lengthAdjust="spacingAndGlyphs" fill="#111">Fold change of genes expression</text>
<polygon points="335.7,1612.6 342.4,1607.2 349.2,1601.8 355.9,1596.3 362.7,1590.8 369.4,1585.1 376.2,1579.5 382.9,1573.7 389.7,1567.9 396.4,1561.9 403.1,1555.8 409.9,1549.7 416.6,1543.3 423.4,1536.9 430.1,1530.3 436.9,1523.5 443.6,1516.6 450.4,1509.6 457.1,1502.4 463.9,1495.0 470.6,1487.5 477.3,1479.9 484.1,1472.2 490.8,1464.4 497.6,1456.4 504.3,1448.4 511.1,1440.3 517.8,1432.2 524.6,1423.9 531.3,1415.6 538.0,1407.3 544.8,1399.0 551.5,1390.5 558.3,1382.1 565.0,1373.6 571.8,1365.1 578.5,1356.6 585.3,1348.0 592.0,1339.5 598.8,1330.9 605.5,1322.3 605.5,1431.2 598.8,1436.4 592.0,1441.5 585.3,1446.7 578.5,1451.9 571.8,1457.1 565.0,1462.4 558.3,1467.6 551.5,1472.9 544.8,1478.3 538.0,1483.6 531.3,1489.0 524.6,1494.5 517.8,1500.0 511.1,1505.6 504.3,1511.2 497.6,1517.0 490.8,1522.8 484.1,1528.7 477.3,1534.7 470.6,1540.8 463.9,1547.1 457.1,1553.5 450.4,1560.0 443.6,1566.7 436.9,1573.5 430.1,1580.5 423.4,1587.7 416.6,1595.0 409.9,1602.4 403.1,1610.0 396.4,1617.6 389.7,1625.4 382.9,1633.3 376.2,1641.3 369.4,1649.4 362.7,1657.5 355.9,1665.7 349.2,1673.9 342.4,1682.3 335.7,1690.6" fill="#d6d6d6"/>
<circle cx="335.4" cy="1623.9" r="10.2" fill="#f4fbfb"/>
<circle cx="347.0" cy="1649.3" r="10.2" fill="#f4fbfb"/>
<circle cx="360.5" cy="1608.0" r="10.2" fill="#f4fbfb"/>
<circle cx="375.0" cy="1609.1" r="10.2" fill="#f4fbfb"/>
<circle cx="371.7" cy="1629.3" r="10.2" fill="#f4fbfb"/>
<circle cx="377.3" cy="1633.8" r="10.2" fill="#f4fbfb"/>
<circle cx="367.2" cy="1640.5" r="10.2" fill="#f4fbfb"/>
<circle cx="557.3" cy="1321.9" r="10.2" fill="#f4fbfb"/>
<circle cx="636.2" cy="1408.4" r="10.2" fill="#f4fbfb"/>
<circle cx="564.3" cy="1437.1" r="10.2" fill="#f4fbfb"/>
<circle cx="526.7" cy="1444.2" r="10.2" fill="#f4fbfb"/>
<circle cx="335.4" cy="1623.9" r="9.4" fill="#0000f5"/>
<circle cx="347.0" cy="1649.3" r="9.4" fill="#0000f5"/>
<circle cx="360.5" cy="1608.0" r="9.4" fill="#0000f5"/>
<circle cx="375.0" cy="1609.1" r="9.4" fill="#0000f5"/>
<circle cx="371.7" cy="1629.3" r="9.4" fill="#0000f5"/>
<circle cx="377.3" cy="1633.8" r="9.4" fill="#0000f5"/>
<circle cx="367.2" cy="1640.5" r="9.4" fill="#0000f5"/>
<circle cx="557.3" cy="1321.9" r="9.5" fill="#f50a0a"/>
<circle cx="636.2" cy="1408.4" r="9.5" fill="#f50a0a"/>
<circle cx="564.3" cy="1437.1" r="9.5" fill="#f50a0a"/>
<circle cx="526.7" cy="1444.2" r="9.5" fill="#f50a0a"/>
<line x1="336" y1="1651" x2="634.8" y2="1346.6" stroke="#000" stroke-width="4.3" stroke-linecap="round"/>
<path d="M235.7 1303.3V1720.8M234 1719.3H654.7" stroke="#000" stroke-width="3.2" fill="none"/>
<text x="217.88" y="1374.10" font-size="17.80" textLength="9.90" lengthAdjust="spacingAndGlyphs" fill="#333">3</text>
<path d="M229 1368.1H235" stroke="#333" stroke-width="2.2"/>
<text x="218.01" y="1476.90" font-size="17.80" textLength="9.90" lengthAdjust="spacingAndGlyphs" fill="#333">2</text>
<path d="M229 1470.9H235" stroke="#333" stroke-width="2.2"/>
<text x="217.97" y="1581.60" font-size="17.80" textLength="9.90" lengthAdjust="spacingAndGlyphs" fill="#333">1</text>
<path d="M229 1575.6H235" stroke="#333" stroke-width="2.2"/>
<text x="217.79" y="1686.50" font-size="17.80" textLength="9.90" lengthAdjust="spacingAndGlyphs" fill="#333">0</text>
<path d="M229 1680.5H235" stroke="#333" stroke-width="2.2"/>
<text x="258.33" y="1739.80" font-size="19.35" textLength="26.90" lengthAdjust="spacingAndGlyphs" fill="#333">0.0</text>
<path d="M271.8 1720V1723.5" stroke="#333" stroke-width="3"/>
<text x="339.32" y="1739.80" font-size="19.35" textLength="26.95" lengthAdjust="spacingAndGlyphs" fill="#333">0.5</text>
<path d="M352.8 1720V1723.5" stroke="#333" stroke-width="3"/>
<text x="421.61" y="1739.80" font-size="19.35" textLength="27.64" lengthAdjust="spacingAndGlyphs" fill="#333">1.0</text>
<path d="M435.8 1720V1723.5" stroke="#333" stroke-width="3"/>
<text x="502.61" y="1739.80" font-size="19.35" textLength="27.69" lengthAdjust="spacingAndGlyphs" fill="#333">1.5</text>
<path d="M516.8 1720V1723.5" stroke="#333" stroke-width="3"/>
<text x="584.12" y="1739.80" font-size="19.35" textLength="27.11" lengthAdjust="spacingAndGlyphs" fill="#333">2.0</text>
<path d="M597.8 1720V1723.5" stroke="#333" stroke-width="3"/>
<text x="260.90" y="1773.70" font-size="22.84" textLength="382.55" lengthAdjust="spacingAndGlyphs" fill="#111">Fold change of  microarray analysis</text>
<text transform="translate(184.30,1619.52) rotate(-90)" x="0" y="0" font-size="26.33" textLength="273.57" lengthAdjust="spacingAndGlyphs" fill="#111">Fold change of RT-qPCR</text>
<text transform="translate(281.20,1378.50) scale(0.9963,1)" x="0" y="0" style="white-space:pre" stroke="#000" stroke-width="0.9"><tspan font-size="25.50">R</tspan><tspan font-size="16.00" dy="-8.20">2</tspan><tspan font-size="25.50" dy="8.20"> = 0.94</tspan></text>
<text x="991.24" y="84.70" font-size="26.91" textLength="79.30" lengthAdjust="spacingAndGlyphs" font-weight="bold">Group</text>
<rect x="1086" y="67.3" width="336.75" height="35.5" fill="#00d8e0"/><rect x="1422.75" y="67.3" width="336.75" height="35.5" fill="#fa8f87"/>
<path d="M1068.0 113.7H1086M1069.4 115.6H1086M1059.6 113.7H1068.0M1059.6 115.6H1069.4M1059.6 113.7V115.6M1068.5 117.4H1086M1071.0 119.4H1086M1070.5 121.3H1086M1062.4 119.4H1071.0M1062.4 121.3H1070.5M1062.4 119.4V121.3M1056.9 117.4H1068.5M1056.9 120.4H1062.4M1056.9 117.4V120.4M1051.8 114.7H1059.6M1051.8 118.9H1056.9M1051.8 114.7V118.9M1061.3 123.8H1086M1070.6 126.3H1086M1071.8 128.4H1086M1061.3 126.3H1070.6M1061.3 128.4H1071.8M1061.3 126.3V128.4M1055.3 123.8H1061.3M1055.3 127.4H1061.3M1055.3 123.8V127.4M1067.4 131.3H1086M1067.7 134.0H1086M1063.8 131.3H1067.4M1063.8 134.0H1067.7M1063.8 131.3V134.0M1072.2 136.6H1086M1060.9 132.6H1063.8M1060.9 136.6H1072.2M1060.9 132.6V136.6M1072.1 139.5H1086M1067.7 141.7H1086M1069.2 143.6H1086M1061.9 141.7H1067.7M1061.9 143.6H1069.2M1061.9 141.7V143.6M1058.5 139.5H1072.1M1058.5 142.7H1061.9M1058.5 139.5V142.7M1054.3 134.6H1060.9M1054.3 141.1H1058.5M1054.3 134.6V141.1M1047.6 125.6H1055.3M1047.6 137.9H1054.3M1047.6 125.6V137.9M1041.8 116.8H1051.8M1041.8 131.7H1047.6M1041.8 116.8V131.7M1065.6 145.7H1086M1071.4 148.0H1086M1060.1 145.7H1065.6M1060.1 148.0H1071.4M1060.1 145.7V148.0M1071.9 150.0H1086M1053.7 146.9H1060.1M1053.7 150.0H1071.9M1053.7 146.9V150.0M1065.6 152.2H1086M1071.0 154.2H1086M1059.3 152.2H1065.6M1059.3 154.2H1071.0M1059.3 152.2V154.2M1066.2 155.9H1086M1052.1 153.2H1059.3M1052.1 155.9H1066.2M1052.1 153.2V155.9M1043.7 148.4H1053.7M1043.7 154.5H1052.1M1043.7 148.4V154.5M1067.2 158.4H1086M1064.9 160.9H1086M1059.0 158.4H1067.2M1059.0 160.9H1064.9M1059.0 158.4V160.9M1059.1 163.2H1086M1051.0 159.6H1059.0M1051.0 163.2H1059.1M1051.0 159.6V163.2M1068.2 166.1H1086M1068.5 168.2H1086M1062.8 170.2H1086M1057.4 168.2H1068.5M1057.4 170.2H1062.8M1057.4 168.2V170.2M1049.6 166.1H1068.2M1049.6 169.2H1057.4M1049.6 166.1V169.2M1045.8 161.4H1051.0M1045.8 167.6H1049.6M1045.8 161.4V167.6M1036.1 151.5H1043.7M1036.1 164.5H1045.8M1036.1 151.5V164.5M1030.2 124.3H1041.8M1030.2 158.0H1036.1M1030.2 124.3V158.0M1061.6 172.9H1086M1060.3 175.3H1086M1053.6 172.9H1061.6M1053.6 175.3H1060.3M1053.6 172.9V175.3M1070.1 177.6H1086M1069.8 179.9H1086M1061.7 177.6H1070.1M1061.7 179.9H1069.8M1061.7 177.6V179.9M1067.4 182.2H1086M1058.5 178.8H1061.7M1058.5 182.2H1067.4M1058.5 178.8V182.2M1069.8 184.4H1086M1072.3 186.3H1086M1061.3 184.4H1069.8M1061.3 186.3H1072.3M1061.3 184.4V186.3M1054.8 180.5H1058.5M1054.8 185.3H1061.3M1054.8 180.5V185.3M1049.6 174.1H1053.6M1049.6 182.9H1054.8M1049.6 174.1V182.9M1069.1 188.2H1086M1064.8 190.3H1086M1060.7 188.2H1069.1M1060.7 190.3H1064.8M1060.7 188.2V190.3M1070.2 192.9H1086M1066.6 196.1H1086M1063.3 192.9H1070.2M1063.3 196.1H1066.6M1063.3 192.9V196.1M1057.6 189.3H1060.7M1057.6 194.5H1063.3M1057.6 189.3V194.5M1069.4 199.4H1086M1070.8 202.3H1086M1063.0 199.4H1069.4M1063.0 202.3H1070.8M1063.0 199.4V202.3M1070.4 204.6H1086M1070.7 207.0H1086M1061.0 204.6H1070.4M1061.0 207.0H1070.7M1061.0 204.6V207.0M1059.0 200.8H1063.0M1059.0 205.8H1061.0M1059.0 200.8V205.8M1053.0 191.9H1057.6M1053.0 203.3H1059.0M1053.0 191.9V203.3M1045.7 178.5H1049.6M1045.7 197.6H1053.0M1045.7 178.5V197.6M1062.5 210.1H1086M1065.1 212.6H1086M1053.1 210.1H1062.5M1053.1 212.6H1065.1M1053.1 210.1V212.6M1067.3 214.7H1086M1069.2 217.7H1086M1059.9 214.7H1067.3M1059.9 217.7H1069.2M1059.9 214.7V217.7M1067.4 220.6H1086M1070.7 223.2H1086M1060.1 220.6H1067.4M1060.1 223.2H1070.7M1060.1 220.6V223.2M1056.5 216.2H1059.9M1056.5 221.9H1060.1M1056.5 216.2V221.9M1049.9 211.3H1053.1M1049.9 219.0H1056.5M1049.9 211.3V219.0M1036.9 188.1H1045.7M1036.9 215.2H1049.9M1036.9 188.1V215.2M1062.6 225.7H1086M1065.5 228.1H1086M1054.6 225.7H1062.6M1054.6 228.1H1065.5M1054.6 225.7V228.1M1071.2 230.4H1086M1067.9 232.4H1086M1060.1 230.4H1071.2M1060.1 232.4H1067.9M1060.1 230.4V232.4M1065.8 234.9H1086M1057.7 231.4H1060.1M1057.7 234.9H1065.8M1057.7 231.4V234.9M1050.6 226.9H1054.6M1050.6 233.1H1057.7M1050.6 226.9V233.1M1071.7 237.0H1086M1071.9 238.8H1086M1063.2 237.0H1071.7M1063.2 238.8H1071.9M1063.2 237.0V238.8M1068.9 240.9H1086M1071.9 243.8H1086M1064.4 240.9H1068.9M1064.4 243.8H1071.9M1064.4 240.9V243.8M1061.4 237.9H1063.2M1061.4 242.4H1064.4M1061.4 237.9V242.4M1068.7 246.2H1086M1071.7 248.3H1086M1063.9 246.2H1068.7M1063.9 248.3H1071.7M1063.9 246.2V248.3M1066.9 251.2H1086M1059.5 247.3H1063.9M1059.5 251.2H1066.9M1059.5 247.3V251.2M1055.3 240.1H1061.4M1055.3 249.2H1059.5M1055.3 240.1V249.2M1067.5 253.7H1086M1071.9 255.6H1086M1059.7 253.7H1067.5M1059.7 255.6H1071.9M1059.7 253.7V255.6M1064.3 257.5H1086M1072.1 260.3H1086M1060.0 257.5H1064.3M1060.0 260.3H1072.1M1060.0 257.5V260.3M1056.2 254.6H1059.7M1056.2 258.9H1060.0M1056.2 254.6V258.9M1051.8 244.7H1055.3M1051.8 256.8H1056.2M1051.8 244.7V256.8M1042.8 230.0H1050.6M1042.8 250.7H1051.8M1042.8 230.0V250.7M1027.9 201.6H1036.9M1027.9 240.4H1042.8M1027.9 201.6V240.4M1016.0 141.1H1030.2M1016.0 221.0H1027.9M1016.0 141.1V221.0M1070.9 263.7H1086M1070.4 267.1H1086M1072.2 269.5H1086M1061.4 267.1H1070.4M1061.4 269.5H1072.2M1061.4 267.1V269.5M1059.5 263.7H1070.9M1059.5 268.3H1061.4M1059.5 263.7V268.3M1071.9 271.6H1086M1071.9 274.2H1086M1071.3 277.1H1086M1067.0 274.2H1071.9M1067.0 277.1H1071.3M1067.0 274.2V277.1M1065.6 271.6H1071.9M1065.6 275.6H1067.0M1065.6 271.6V275.6M1072.7 279.9H1086M1070.9 282.1H1086M1064.7 279.9H1072.7M1064.7 282.1H1070.9M1064.7 279.9V282.1M1061.5 273.6H1065.6M1061.5 281.0H1064.7M1061.5 273.6V281.0M1057.3 266.0H1059.5M1057.3 277.3H1061.5M1057.3 266.0V277.3M1070.4 284.1H1086M1072.0 286.3H1086M1064.5 284.1H1070.4M1064.5 286.3H1072.0M1064.5 284.1V286.3M1071.6 288.5H1086M1072.4 290.8H1086M1063.2 288.5H1071.6M1063.2 290.8H1072.4M1063.2 288.5V290.8M1060.5 285.2H1064.5M1060.5 289.7H1063.2M1060.5 285.2V289.7M1071.1 293.1H1086M1072.0 295.1H1086M1068.7 293.1H1071.1M1068.7 295.1H1072.0M1068.7 293.1V295.1M1068.8 297.9H1086M1066.2 294.1H1068.7M1066.2 297.9H1068.8M1066.2 294.1V297.9M1069.9 300.5H1086M1071.7 302.7H1086M1064.1 300.5H1069.9M1064.1 302.7H1071.7M1064.1 300.5V302.7M1062.8 296.0H1066.2M1062.8 301.6H1064.1M1062.8 296.0V301.6M1057.5 287.5H1060.5M1057.5 298.8H1062.8M1057.5 287.5V298.8M1053.4 271.7H1057.3M1053.4 293.1H1057.5M1053.4 271.7V293.1M1061.6 305.4H1086M1066.0 308.6H1086M1069.1 311.4H1086M1061.6 308.6H1066.0M1061.6 311.4H1069.1M1061.6 308.6V311.4M1055.1 305.4H1061.6M1055.1 310.0H1061.6M1055.1 305.4V310.0M1068.4 313.3H1086M1067.0 315.6H1086M1062.9 313.3H1068.4M1062.9 315.6H1067.0M1062.9 313.3V315.6M1070.8 318.0H1086M1068.4 319.9H1086M1062.1 318.0H1070.8M1062.1 319.9H1068.4M1062.1 318.0V319.9M1059.0 314.4H1062.9M1059.0 319.0H1062.1M1059.0 314.4V319.0M1071.1 321.8H1086M1068.1 323.7H1086M1061.6 321.8H1071.1M1061.6 323.7H1068.1M1061.6 321.8V323.7M1070.5 325.6H1086M1071.6 327.9H1086M1065.3 325.6H1070.5M1065.3 327.9H1071.6M1065.3 325.6V327.9M1068.8 330.6H1086M1062.2 326.7H1065.3M1062.2 330.6H1068.8M1062.2 326.7V330.6M1059.2 322.7H1061.6M1059.2 328.7H1062.2M1059.2 322.7V328.7M1055.5 316.7H1059.0M1055.5 325.7H1059.2M1055.5 316.7V325.7M1052.2 307.7H1055.1M1052.2 321.2H1055.5M1052.2 307.7V321.2M1044.1 282.4H1053.4M1044.1 314.4H1052.2M1044.1 282.4V314.4M1065.0 333.1H1086M1071.8 335.4H1086M1066.5 337.5H1086M1058.1 335.4H1071.8M1058.1 337.5H1066.5M1058.1 335.4V337.5M1053.7 333.1H1065.0M1053.7 336.5H1058.1M1053.7 333.1V336.5M1065.6 339.7H1086M1071.1 342.7H1086M1060.5 339.7H1065.6M1060.5 342.7H1071.1M1060.5 339.7V342.7M1063.5 345.9H1086M1054.7 341.2H1060.5M1054.7 345.9H1063.5M1054.7 341.2V345.9M1047.2 334.8H1053.7M1047.2 343.6H1054.7M1047.2 334.8V343.6M1069.2 348.4H1086M1071.1 350.1H1086M1065.8 351.9H1086M1061.8 350.1H1071.1M1061.8 351.9H1065.8M1061.8 350.1V351.9M1060.2 348.4H1069.2M1060.2 351.0H1061.8M1060.2 348.4V351.0M1064.7 353.8H1086M1071.5 356.0H1086M1059.4 353.8H1064.7M1059.4 356.0H1071.5M1059.4 353.8V356.0M1054.5 349.7H1060.2M1054.5 354.9H1059.4M1054.5 349.7V354.9M1060.2 358.8H1086M1071.3 361.1H1086M1069.9 363.5H1086M1060.2 361.1H1071.3M1060.2 363.5H1069.9M1060.2 361.1V363.5M1053.9 358.8H1060.2M1053.9 362.3H1060.2M1053.9 358.8V362.3M1045.2 352.3H1054.5M1045.2 360.5H1053.9M1045.2 352.3V360.5M1036.8 339.2H1047.2M1036.8 356.4H1045.2M1036.8 339.2V356.4M1029.1 298.4H1044.1M1029.1 347.8H1036.8M1029.1 298.4V347.8M1068.7 366.4H1086M1068.0 368.6H1086M1068.4 370.4H1086M1063.9 368.6H1068.0M1063.9 370.4H1068.4M1063.9 368.6V370.4M1059.3 366.4H1068.7M1059.3 369.5H1063.9M1059.3 366.4V369.5M1069.3 372.7H1086M1065.1 374.9H1086M1054.9 372.7H1069.3M1054.9 374.9H1065.1M1054.9 372.7V374.9M1051.9 368.0H1059.3M1051.9 373.8H1054.9M1051.9 368.0V373.8M1060.5 377.0H1086M1065.7 379.4H1086M1053.2 377.0H1060.5M1053.2 379.4H1065.7M1053.2 377.0V379.4M1069.3 381.4H1086M1069.9 383.5H1086M1057.4 381.4H1069.3M1057.4 383.5H1069.9M1057.4 381.4V383.5M1068.7 385.7H1086M1052.9 382.5H1057.4M1052.9 385.7H1068.7M1052.9 382.5V385.7M1047.6 378.2H1053.2M1047.6 384.1H1052.9M1047.6 378.2V384.1M1043.1 370.9H1051.9M1043.1 381.2H1047.6M1043.1 370.9V381.2M1070.8 387.3H1086M1072.1 389.4H1086M1061.2 387.3H1070.8M1061.2 389.4H1072.1M1061.2 387.3V389.4M1062.4 392.5H1086M1055.0 388.4H1061.2M1055.0 392.5H1062.4M1055.0 388.4V392.5M1065.7 395.6H1086M1068.9 398.5H1086M1054.8 395.6H1065.7M1054.8 398.5H1068.9M1054.8 395.6V398.5M1049.1 390.5H1055.0M1049.1 397.1H1054.8M1049.1 390.5V397.1M1038.6 376.0H1043.1M1038.6 393.8H1049.1M1038.6 376.0V393.8M1070.6 401.1H1086M1060.2 403.1H1086M1047.5 401.1H1070.6M1047.5 403.1H1060.2M1047.5 401.1V403.1M1055.6 405.7H1086M1041.2 402.1H1047.5M1041.2 405.7H1055.6M1041.2 402.1V405.7M1065.2 408.0H1086M1063.9 410.0H1086M1052.5 408.0H1065.2M1052.5 410.0H1063.9M1052.5 408.0V410.0M1059.1 413.0H1086M1047.8 409.0H1052.5M1047.8 413.0H1059.1M1047.8 409.0V413.0M1063.0 415.7H1086M1062.4 418.3H1086M1051.2 415.7H1063.0M1051.2 418.3H1062.4M1051.2 415.7V418.3M1040.6 411.0H1047.8M1040.6 417.0H1051.2M1040.6 411.0V417.0M1034.0 403.9H1041.2M1034.0 414.0H1040.6M1034.0 403.9V414.0M1020.4 384.9H1038.6M1020.4 408.9H1034.0M1020.4 384.9V408.9M1005.3 323.1H1029.1M1005.3 396.9H1020.4M1005.3 323.1V396.9M1003.5 181.1H1016.0M1003.5 360.0H1005.3M1003.5 181.1V360.0M1066.1 421.5H1086M1066.1 424.6H1086M1059.9 421.5H1066.1M1059.9 424.6H1066.1M1059.9 421.5V424.6M1068.7 427.6H1086M1068.4 429.8H1086M1064.5 427.6H1068.7M1064.5 429.8H1068.4M1064.5 427.6V429.8M1072.4 432.1H1086M1060.9 428.7H1064.5M1060.9 432.1H1072.4M1060.9 428.7V432.1M1054.1 423.1H1059.9M1054.1 430.4H1060.9M1054.1 423.1V430.4M1068.5 434.7H1086M1069.2 436.6H1086M1063.3 434.7H1068.5M1063.3 436.6H1069.2M1063.3 434.7V436.6M1065.3 438.2H1086M1058.1 435.7H1063.3M1058.1 438.2H1065.3M1058.1 435.7V438.2M1067.8 440.8H1086M1068.3 443.2H1086M1062.3 440.8H1067.8M1062.3 443.2H1068.3M1062.3 440.8V443.2M1065.2 445.9H1086M1060.4 442.0H1062.3M1060.4 445.9H1065.2M1060.4 442.0V445.9M1055.0 436.9H1058.1M1055.0 443.9H1060.4M1055.0 436.9V443.9M1046.2 426.7H1054.1M1046.2 440.4H1055.0M1046.2 426.7V440.4M1068.0 448.3H1086M1071.8 450.1H1086M1056.9 448.3H1068.0M1056.9 450.1H1071.8M1056.9 448.3V450.1M1067.7 452.3H1086M1063.4 454.7H1086M1057.2 452.3H1067.7M1057.2 454.7H1063.4M1057.2 452.3V454.7M1052.1 449.2H1056.9M1052.1 453.5H1057.2M1052.1 449.2V453.5M1066.0 457.6H1086M1070.5 460.5H1086M1059.4 462.7H1086M1051.3 460.5H1070.5M1051.3 462.7H1059.4M1051.3 460.5V462.7M1047.4 457.6H1066.0M1047.4 461.6H1051.3M1047.4 457.6V461.6M1043.8 451.4H1052.1M1043.8 459.6H1047.4M1043.8 451.4V459.6M1033.8 433.6H1046.2M1033.8 455.5H1043.8M1033.8 433.6V455.5M1066.2 465.1H1086M1069.0 468.2H1086M1061.6 465.1H1066.2M1061.6 468.2H1069.0M1061.6 465.1V468.2M1070.3 470.6H1086M1070.0 472.6H1086M1060.4 470.6H1070.3M1060.4 472.6H1070.0M1060.4 470.6V472.6M1055.3 466.6H1061.6M1055.3 471.6H1060.4M1055.3 466.6V471.6M1063.0 474.9H1086M1070.9 477.1H1086M1055.5 474.9H1063.0M1055.5 477.1H1070.9M1055.5 474.9V477.1M1063.9 479.1H1086M1071.7 481.0H1086M1057.8 479.1H1063.9M1057.8 481.0H1071.7M1057.8 479.1V481.0M1051.9 476.0H1055.5M1051.9 480.0H1057.8M1051.9 476.0V480.0M1047.0 469.1H1055.3M1047.0 478.0H1051.9M1047.0 469.1V478.0M1066.9 483.0H1086M1068.0 485.1H1086M1054.6 483.0H1066.9M1054.6 485.1H1068.0M1054.6 483.0V485.1M1070.2 486.7H1086M1070.6 488.6H1086M1060.1 486.7H1070.2M1060.1 488.6H1070.6M1060.1 486.7V488.6M1070.3 490.9H1086M1067.0 492.9H1086M1059.6 490.9H1070.3M1059.6 492.9H1067.0M1059.6 490.9V492.9M1056.8 487.7H1060.1M1056.8 491.9H1059.6M1056.8 487.7V491.9M1049.9 484.0H1054.6M1049.9 489.8H1056.8M1049.9 484.0V489.8M1040.8 473.6H1047.0M1040.8 486.9H1049.9M1040.8 473.6V486.9M1064.8 494.8H1086M1064.7 497.0H1086M1064.4 499.0H1086M1054.8 497.0H1064.7M1054.8 499.0H1064.4M1054.8 497.0V499.0M1050.7 494.8H1064.8M1050.7 498.0H1054.8M1050.7 494.8V498.0M1071.1 500.7H1086M1064.5 502.6H1086M1058.9 500.7H1071.1M1058.9 502.6H1064.5M1058.9 500.7V502.6M1065.0 504.7H1086M1065.1 507.0H1086M1060.0 504.7H1065.0M1060.0 507.0H1065.1M1060.0 504.7V507.0M1054.0 501.6H1058.9M1054.0 505.9H1060.0M1054.0 501.6V505.9M1044.6 496.4H1050.7M1044.6 503.8H1054.0M1044.6 496.4V503.8M1032.1 480.2H1040.8M1032.1 500.1H1044.6M1032.1 480.2V500.1M1019.8 444.5H1033.8M1019.8 490.2H1032.1M1019.8 444.5V490.2M1066.4 509.9H1086M1069.0 512.7H1086M1066.0 515.3H1086M1060.2 512.7H1069.0M1060.2 515.3H1066.0M1060.2 512.7V515.3M1057.5 509.9H1066.4M1057.5 514.0H1060.2M1057.5 509.9V514.0M1070.0 517.5H1086M1062.2 519.9H1086M1056.7 517.5H1070.0M1056.7 519.9H1062.2M1056.7 517.5V519.9M1050.7 511.9H1057.5M1050.7 518.7H1056.7M1050.7 511.9V518.7M1072.8 523.1H1086M1070.9 526.1H1086M1063.3 523.1H1072.8M1063.3 526.1H1070.9M1063.3 523.1V526.1M1072.0 529.0H1086M1071.8 531.7H1086M1068.3 533.9H1086M1065.8 531.7H1071.8M1065.8 533.9H1068.3M1065.8 531.7V533.9M1063.4 529.0H1072.0M1063.4 532.8H1065.8M1063.4 529.0V532.8M1059.8 524.6H1063.3M1059.8 530.9H1063.4M1059.8 524.6V530.9M1069.7 536.1H1086M1068.1 538.6H1086M1063.8 536.1H1069.7M1063.8 538.6H1068.1M1063.8 536.1V538.6M1068.4 541.4H1086M1060.0 537.3H1063.8M1060.0 541.4H1068.4M1060.0 537.3V541.4M1052.9 527.8H1059.8M1052.9 539.4H1060.0M1052.9 527.8V539.4M1044.3 515.3H1050.7M1044.3 533.6H1052.9M1044.3 515.3V533.6M1068.8 544.3H1086M1063.3 546.5H1086M1058.0 544.3H1068.8M1058.0 546.5H1063.3M1058.0 544.3V546.5M1059.3 548.3H1086M1050.3 545.4H1058.0M1050.3 548.3H1059.3M1050.3 545.4V548.3M1061.2 550.4H1086M1059.1 552.9H1086M1051.2 550.4H1061.2M1051.2 552.9H1059.1M1051.2 550.4V552.9M1043.5 546.9H1050.3M1043.5 551.6H1051.2M1043.5 546.9V551.6M1069.0 556.1H1086M1063.0 558.8H1086M1056.2 556.1H1069.0M1056.2 558.8H1063.0M1056.2 556.1V558.8M1066.7 561.5H1086M1070.9 564.1H1086M1052.5 561.5H1066.7M1052.5 564.1H1070.9M1052.5 561.5V564.1M1047.3 557.4H1056.2M1047.3 562.8H1052.5M1047.3 557.4V562.8M1039.1 549.3H1043.5M1039.1 560.1H1047.3M1039.1 549.3V560.1M1032.3 524.4H1044.3M1032.3 554.7H1039.1M1032.3 524.4V554.7M1010.0 467.3H1019.8M1010.0 539.6H1032.3M1010.0 467.3V539.6M1068.3 566.1H1086M1067.2 568.1H1086M1058.8 566.1H1068.3M1058.8 568.1H1067.2M1058.8 566.1V568.1M1066.9 570.6H1086M1068.2 573.8H1086M1060.2 570.6H1066.9M1060.2 573.8H1068.2M1060.2 570.6V573.8M1056.0 567.1H1058.8M1056.0 572.2H1060.2M1056.0 567.1V572.2M1070.2 576.9H1086M1068.8 579.5H1086M1069.7 581.6H1086M1066.5 579.5H1068.8M1066.5 581.6H1069.7M1066.5 579.5V581.6M1064.0 576.9H1070.2M1064.0 580.6H1066.5M1064.0 576.9V580.6M1067.1 584.2H1086M1069.3 586.1H1086M1062.8 584.2H1067.1M1062.8 586.1H1069.3M1062.8 584.2V586.1M1060.0 578.7H1064.0M1060.0 585.1H1062.8M1060.0 578.7V585.1M1065.4 588.4H1086M1066.5 590.9H1086M1065.4 593.4H1086M1061.4 590.9H1066.5M1061.4 593.4H1065.4M1061.4 590.9V593.4M1059.1 588.4H1065.4M1059.1 592.1H1061.4M1059.1 588.4V592.1M1056.2 581.9H1060.0M1056.2 590.3H1059.1M1056.2 581.9V590.3M1053.3 569.7H1056.0M1053.3 586.1H1056.2M1053.3 569.7V586.1M1069.4 595.5H1086M1062.9 597.3H1086M1057.4 595.5H1069.4M1057.4 597.3H1062.9M1057.4 595.5V597.3M1067.2 600.1H1086M1066.7 603.2H1086M1065.7 605.3H1086M1061.1 603.2H1066.7M1061.1 605.3H1065.7M1061.1 603.2V605.3M1059.3 600.1H1067.2M1059.3 604.3H1061.1M1059.3 600.1V604.3M1055.1 596.4H1057.4M1055.1 602.2H1059.3M1055.1 596.4V602.2M1067.4 607.3H1086M1071.2 609.6H1086M1061.6 607.3H1067.4M1061.6 609.6H1071.2M1061.6 607.3V609.6M1072.2 612.0H1086M1067.4 614.9H1086M1061.4 612.0H1072.2M1061.4 614.9H1067.4M1061.4 612.0V614.9M1059.5 608.4H1061.6M1059.5 613.5H1061.4M1059.5 608.4V613.5M1068.9 617.7H1086M1067.3 619.9H1086M1063.6 617.7H1068.9M1063.6 619.9H1067.3M1063.6 617.7V619.9M1070.1 621.4H1086M1070.3 623.3H1086M1068.2 621.4H1070.1M1068.2 623.3H1070.3M1068.2 621.4V623.3M1071.0 626.0H1086M1065.2 622.4H1068.2M1065.2 626.0H1071.0M1065.2 622.4V626.0M1061.3 618.8H1063.6M1061.3 624.2H1065.2M1061.3 618.8V624.2M1056.7 611.0H1059.5M1056.7 621.5H1061.3M1056.7 611.0V621.5M1051.5 599.3H1055.1M1051.5 616.2H1056.7M1051.5 599.3V616.2M1044.7 577.9H1053.3M1044.7 607.7H1051.5M1044.7 577.9V607.7M1072.2 629.2H1086M1064.8 631.9H1086M1060.4 629.2H1072.2M1060.4 631.9H1064.8M1060.4 629.2V631.9M1070.2 634.0H1086M1056.4 630.6H1060.4M1056.4 634.0H1070.2M1056.4 630.6V634.0M1066.7 636.5H1086M1071.1 639.6H1086M1052.2 636.5H1066.7M1052.2 639.6H1071.1M1052.2 636.5V639.6M1047.8 632.3H1056.4M1047.8 638.1H1052.2M1047.8 632.3V638.1M1064.1 642.7H1086M1071.6 645.6H1086M1063.9 648.3H1086M1057.0 645.6H1071.6M1057.0 648.3H1063.9M1057.0 645.6V648.3M1052.8 642.7H1064.1M1052.8 646.9H1057.0M1052.8 642.7V646.9M1069.2 650.5H1086M1072.0 653.0H1086M1065.5 650.5H1069.2M1065.5 653.0H1072.0M1065.5 650.5V653.0M1068.6 655.4H1086M1068.0 657.7H1086M1063.9 655.4H1068.6M1063.9 657.7H1068.0M1063.9 655.4V657.7M1061.3 651.8H1065.5M1061.3 656.6H1063.9M1061.3 651.8V656.6M1070.3 659.7H1086M1068.5 661.6H1086M1064.9 659.7H1070.3M1064.9 661.6H1068.5M1064.9 659.7V661.6M1070.6 663.9H1086M1061.7 660.7H1064.9M1061.7 663.9H1070.6M1061.7 660.7V663.9M1056.2 654.2H1061.3M1056.2 662.3H1061.7M1056.2 654.2V662.3M1048.0 644.8H1052.8M1048.0 658.2H1056.2M1048.0 644.8V658.2M1044.0 635.2H1047.8M1044.0 651.5H1048.0M1044.0 635.2V651.5M1030.0 592.8H1044.7M1030.0 643.4H1044.0M1030.0 592.8V643.4M1067.1 666.2H1086M1069.2 668.3H1086M1063.6 666.2H1067.1M1063.6 668.3H1069.2M1063.6 666.2V668.3M1066.7 670.6H1086M1059.3 667.3H1063.6M1059.3 670.6H1066.7M1059.3 667.3V670.6M1064.7 673.4H1086M1052.4 668.9H1059.3M1052.4 673.4H1064.7M1052.4 668.9V673.4M1061.2 676.9H1086M1064.3 680.0H1086M1069.8 682.5H1086M1065.6 684.5H1086M1061.8 682.5H1069.8M1061.8 684.5H1065.6M1061.8 682.5V684.5M1059.6 680.0H1064.3M1059.6 683.5H1061.8M1059.6 680.0V683.5M1054.3 676.9H1061.2M1054.3 681.7H1059.6M1054.3 676.9V681.7M1071.9 686.4H1086M1064.2 688.7H1086M1056.7 686.4H1071.9M1056.7 688.7H1064.2M1056.7 686.4V688.7M1051.0 679.3H1054.3M1051.0 687.6H1056.7M1051.0 679.3V687.6M1042.5 671.2H1052.4M1042.5 683.4H1051.0M1042.5 671.2V683.4M1061.9 691.1H1086M1060.7 693.4H1086M1053.6 691.1H1061.9M1053.6 693.4H1060.7M1053.6 691.1V693.4M1060.0 696.1H1086M1058.9 698.1H1086M1051.9 696.1H1060.0M1051.9 698.1H1058.9M1051.9 696.1V698.1M1044.8 692.2H1053.6M1044.8 697.1H1051.9M1044.8 692.2V697.1M1064.8 699.7H1086M1061.7 702.4H1086M1052.2 699.7H1064.8M1052.2 702.4H1061.7M1052.2 699.7V702.4M1069.7 705.4H1086M1047.9 701.0H1052.2M1047.9 705.4H1069.7M1047.9 701.0V705.4M1036.7 694.7H1044.8M1036.7 703.2H1047.9M1036.7 694.7V703.2M1030.6 677.3H1042.5M1030.6 698.9H1036.7M1030.6 677.3V698.9M1069.8 707.3H1086M1069.3 709.3H1086M1062.9 707.3H1069.8M1062.9 709.3H1069.3M1062.9 707.3V709.3M1070.8 711.6H1086M1059.0 708.3H1062.9M1059.0 711.6H1070.8M1059.0 708.3V711.6M1063.2 714.2H1086M1065.9 716.8H1086M1057.5 714.2H1063.2M1057.5 716.8H1065.9M1057.5 714.2V716.8M1054.7 709.9H1059.0M1054.7 715.5H1057.5M1054.7 709.9V715.5M1065.3 718.9H1086M1067.9 720.7H1086M1054.4 718.9H1065.3M1054.4 720.7H1067.9M1054.4 718.9V720.7M1064.2 722.5H1086M1065.6 724.3H1086M1056.9 722.5H1064.2M1056.9 724.3H1065.6M1056.9 722.5V724.3M1051.3 719.8H1054.4M1051.3 723.4H1056.9M1051.3 719.8V723.4M1045.7 712.7H1054.7M1045.7 721.6H1051.3M1045.7 712.7V721.6M1061.2 726.4H1086M1069.0 729.4H1086M1070.7 731.9H1086M1055.0 729.4H1069.0M1055.0 731.9H1070.7M1055.0 729.4V731.9M1051.4 726.4H1061.2M1051.4 730.6H1055.0M1051.4 726.4V730.6M1061.6 734.4H1086M1045.9 728.5H1051.4M1045.9 734.4H1061.6M1045.9 728.5V734.4M1035.6 717.2H1045.7M1035.6 731.5H1045.9M1035.6 717.2V731.5M1024.3 688.1H1030.6M1024.3 724.3H1035.6M1024.3 688.1V724.3M1012.0 618.1H1030.0M1012.0 706.2H1024.3M1012.0 618.1V706.2M998.0 503.5H1010.0M998.0 662.2H1012.0M998.0 503.5V662.2M990.2 270.5H1003.5M990.2 582.8H998.0M990.2 270.5V582.8M1069.0 737.3H1086M1069.9 740.3H1086M1061.1 737.3H1069.0M1061.1 740.3H1069.9M1061.1 737.3V740.3M1071.3 743.7H1086M1069.7 746.9H1086M1070.7 749.7H1086M1070.0 751.5H1086M1067.8 749.7H1070.7M1067.8 751.5H1070.0M1067.8 749.7V751.5M1065.2 746.9H1069.7M1065.2 750.6H1067.8M1065.2 746.9V750.6M1063.2 743.7H1071.3M1063.2 748.8H1065.2M1063.2 743.7V748.8M1058.9 738.8H1061.1M1058.9 746.2H1063.2M1058.9 738.8V746.2M1068.4 753.9H1086M1071.4 756.5H1086M1071.0 758.8H1086M1063.4 756.5H1071.4M1063.4 758.8H1071.0M1063.4 756.5V758.8M1061.7 753.9H1068.4M1061.7 757.7H1063.4M1061.7 753.9V757.7M1055.4 742.5H1058.9M1055.4 755.8H1061.7M1055.4 742.5V755.8M1070.7 761.5H1086M1070.8 763.9H1086M1065.5 761.5H1070.7M1065.5 763.9H1070.8M1065.5 761.5V763.9M1072.5 766.5H1086M1069.7 769.4H1086M1065.9 766.5H1072.5M1065.9 769.4H1069.7M1065.9 766.5V769.4M1063.9 762.7H1065.5M1063.9 768.0H1065.9M1063.9 762.7V768.0M1072.3 772.3H1086M1071.8 774.7H1086M1063.6 772.3H1072.3M1063.6 774.7H1071.8M1063.6 772.3V774.7M1058.6 765.3H1063.9M1058.6 773.5H1063.6M1058.6 765.3V773.5M1050.4 749.2H1055.4M1050.4 769.4H1058.6M1050.4 749.2V769.4M1060.0 777.2H1086M1063.7 780.1H1086M1062.5 783.0H1086M1056.9 780.1H1063.7M1056.9 783.0H1062.5M1056.9 780.1V783.0M1051.4 777.2H1060.0M1051.4 781.6H1056.9M1051.4 777.2V781.6M1070.9 786.1H1086M1072.5 788.3H1086M1060.6 786.1H1070.9M1060.6 788.3H1072.5M1060.6 786.1V788.3M1065.3 790.2H1086M1067.6 792.5H1086M1065.4 795.0H1086M1061.1 792.5H1067.6M1061.1 795.0H1065.4M1061.1 792.5V795.0M1059.3 790.2H1065.3M1059.3 793.8H1061.1M1059.3 790.2V793.8M1055.0 787.2H1060.6M1055.0 792.0H1059.3M1055.0 787.2V792.0M1046.6 779.4H1051.4M1046.6 789.6H1055.0M1046.6 779.4V789.6M1038.3 759.3H1050.4M1038.3 784.5H1046.6M1038.3 759.3V784.5M1069.4 797.7H1086M1071.6 800.1H1086M1058.3 797.7H1069.4M1058.3 800.1H1071.6M1058.3 797.7V800.1M1071.4 802.5H1086M1069.4 804.6H1086M1062.4 802.5H1071.4M1062.4 804.6H1069.4M1062.4 802.5V804.6M1065.3 806.8H1086M1059.9 803.6H1062.4M1059.9 806.8H1065.3M1059.9 803.6V806.8M1056.0 798.9H1058.3M1056.0 805.2H1059.9M1056.0 798.9V805.2M1071.9 809.5H1086M1068.4 811.6H1086M1060.6 809.5H1071.9M1060.6 811.6H1068.4M1060.6 809.5V811.6M1070.6 813.4H1086M1071.1 815.4H1086M1066.5 813.4H1070.6M1066.5 815.4H1071.1M1066.5 813.4V815.4M1071.6 817.9H1086M1062.8 814.4H1066.5M1062.8 817.9H1071.6M1062.8 814.4V817.9M1058.7 810.6H1060.6M1058.7 816.1H1062.8M1058.7 810.6V816.1M1064.2 820.6H1086M1069.6 823.2H1086M1068.6 825.3H1086M1062.0 823.2H1069.6M1062.0 825.3H1068.6M1062.0 823.2V825.3M1057.5 820.6H1064.2M1057.5 824.3H1062.0M1057.5 820.6V824.3M1053.7 813.3H1058.7M1053.7 822.4H1057.5M1053.7 813.3V822.4M1048.1 802.0H1056.0M1048.1 817.9H1053.7M1048.1 802.0V817.9M1069.2 827.2H1086M1068.4 830.1H1086M1061.5 827.2H1069.2M1061.5 830.1H1068.4M1061.5 827.2V830.1M1066.5 832.9H1086M1070.1 834.9H1086M1063.0 832.9H1066.5M1063.0 834.9H1070.1M1063.0 832.9V834.9M1071.7 836.9H1086M1058.1 833.9H1063.0M1058.1 836.9H1071.7M1058.1 833.9V836.9M1055.1 828.6H1061.5M1055.1 835.4H1058.1M1055.1 828.6V835.4M1069.8 839.4H1086M1070.6 841.7H1086M1065.3 839.4H1069.8M1065.3 841.7H1070.6M1065.3 839.4V841.7M1065.7 844.4H1086M1061.0 840.5H1065.3M1061.0 844.4H1065.7M1061.0 840.5V844.4M1072.7 846.9H1086M1068.6 849.4H1086M1064.9 846.9H1072.7M1064.9 849.4H1068.6M1064.9 846.9V849.4M1069.7 852.1H1086M1060.2 848.2H1064.9M1060.2 852.1H1069.7M1060.2 848.2V852.1M1057.1 842.4H1061.0M1057.1 850.1H1060.2M1057.1 842.4V850.1M1049.6 832.0H1055.1M1049.6 846.3H1057.1M1049.6 832.0V846.3M1043.9 810.0H1048.1M1043.9 839.1H1049.6M1043.9 810.0V839.1M1028.5 771.9H1038.3M1028.5 824.6H1043.9M1028.5 771.9V824.6M1065.9 854.1H1086M1072.3 856.2H1086M1059.2 854.1H1065.9M1059.2 856.2H1072.3M1059.2 854.1V856.2M1065.4 858.4H1086M1069.1 859.9H1086M1070.8 861.7H1086M1061.3 859.9H1069.1M1061.3 861.7H1070.8M1061.3 859.9V861.7M1058.8 858.4H1065.4M1058.8 860.8H1061.3M1058.8 858.4V860.8M1055.3 855.1H1059.2M1055.3 859.6H1058.8M1055.3 855.1V859.6M1066.7 864.3H1086M1069.1 866.6H1086M1071.4 868.5H1086M1069.3 870.5H1086M1067.0 868.5H1071.4M1067.0 870.5H1069.3M1067.0 868.5V870.5M1064.9 866.6H1069.1M1064.9 869.5H1067.0M1064.9 866.6V869.5M1060.2 864.3H1066.7M1060.2 868.0H1064.9M1060.2 864.3V868.0M1072.4 872.7H1086M1066.0 875.3H1086M1061.0 872.7H1072.4M1061.0 875.3H1066.0M1061.0 872.7V875.3M1055.3 866.2H1060.2M1055.3 874.0H1061.0M1055.3 866.2V874.0M1045.7 857.4H1055.3M1045.7 870.1H1055.3M1045.7 857.4V870.1M1069.0 878.5H1086M1070.5 881.6H1086M1072.6 883.6H1086M1069.6 885.9H1086M1062.4 883.6H1072.6M1062.4 885.9H1069.6M1062.4 883.6V885.9M1056.9 881.6H1070.5M1056.9 884.8H1062.4M1056.9 881.6V884.8M1053.7 878.5H1069.0M1053.7 883.2H1056.9M1053.7 878.5V883.2M1063.3 888.7H1086M1061.5 890.5H1086M1053.9 888.7H1063.3M1053.9 890.5H1061.5M1053.9 888.7V890.5M1062.4 891.9H1086M1064.9 894.1H1086M1055.4 891.9H1062.4M1055.4 894.1H1064.9M1055.4 891.9V894.1M1050.5 889.6H1053.9M1050.5 893.0H1055.4M1050.5 889.6V893.0M1046.2 880.8H1053.7M1046.2 891.3H1050.5M1046.2 880.8V891.3M1068.1 896.3H1086M1072.4 898.5H1086M1061.9 896.3H1068.1M1061.9 898.5H1072.4M1061.9 896.3V898.5M1071.9 900.8H1086M1055.4 897.4H1061.9M1055.4 900.8H1071.9M1055.4 897.4V900.8M1061.4 903.4H1086M1052.4 899.1H1055.4M1052.4 903.4H1061.4M1052.4 899.1V903.4M1040.9 886.1H1046.2M1040.9 901.3H1052.4M1040.9 886.1V901.3M1033.0 863.7H1045.7M1033.0 893.7H1040.9M1033.0 863.7V893.7M1012.4 798.2H1028.5M1012.4 878.7H1033.0M1012.4 798.2V878.7M1071.3 906.3H1086M1065.8 908.2H1086M1060.3 906.3H1071.3M1060.3 908.2H1065.8M1060.3 906.3V908.2M1062.2 909.7H1086M1054.0 907.2H1060.3M1054.0 909.7H1062.2M1054.0 907.2V909.7M1065.8 912.3H1086M1050.1 908.5H1054.0M1050.1 912.3H1065.8M1050.1 908.5V912.3M1060.5 915.6H1086M1064.8 919.0H1086M1070.4 921.5H1086M1053.8 919.0H1064.8M1053.8 921.5H1070.4M1053.8 919.0V921.5M1050.7 915.6H1060.5M1050.7 920.3H1053.8M1050.7 915.6V920.3M1043.2 910.4H1050.1M1043.2 917.9H1050.7M1043.2 910.4V917.9M1071.1 923.4H1086M1066.0 925.3H1086M1046.2 923.4H1071.1M1046.2 925.3H1066.0M1046.2 923.4V925.3M1067.4 927.0H1086M1064.7 928.8H1086M1058.8 927.0H1067.4M1058.8 928.8H1064.7M1058.8 927.0V928.8M1060.1 931.4H1086M1052.4 927.9H1058.8M1052.4 931.4H1060.1M1052.4 927.9V931.4M1042.3 924.4H1046.2M1042.3 929.7H1052.4M1042.3 924.4V929.7M1032.9 914.2H1043.2M1032.9 927.0H1042.3M1032.9 914.2V927.0M1071.7 934.1H1086M1069.7 936.0H1086M1065.3 934.1H1071.7M1065.3 936.0H1069.7M1065.3 934.1V936.0M1067.3 937.7H1086M1063.4 935.0H1065.3M1063.4 937.7H1067.3M1063.4 935.0V937.7M1065.8 940.0H1086M1058.6 936.4H1063.4M1058.6 940.0H1065.8M1058.6 936.4V940.0M1068.7 942.4H1086M1069.1 944.4H1086M1061.2 942.4H1068.7M1061.2 944.4H1069.1M1061.2 942.4V944.4M1072.1 947.0H1086M1058.3 943.4H1061.2M1058.3 947.0H1072.1M1058.3 943.4V947.0M1050.4 938.2H1058.6M1050.4 945.2H1058.3M1050.4 938.2V945.2M1071.8 949.9H1086M1071.4 952.8H1086M1062.8 949.9H1071.8M1062.8 952.8H1071.4M1062.8 949.9V952.8M1071.5 955.4H1086M1069.0 957.9H1086M1068.0 960.1H1086M1063.6 957.9H1069.0M1063.6 960.1H1068.0M1063.6 957.9V960.1M1060.8 955.4H1071.5M1060.8 959.0H1063.6M1060.8 955.4V959.0M1058.8 951.4H1062.8M1058.8 957.2H1060.8M1058.8 951.4V957.2M1071.0 962.5H1086M1066.2 965.8H1086M1056.3 962.5H1071.0M1056.3 965.8H1066.2M1056.3 962.5V965.8M1050.7 954.3H1058.8M1050.7 964.1H1056.3M1050.7 954.3V964.1M1044.8 941.7H1050.4M1044.8 959.2H1050.7M1044.8 941.7V959.2M1069.3 969.1H1086M1067.7 972.0H1086M1068.2 974.2H1086M1063.7 972.0H1067.7M1063.7 974.2H1068.2M1063.7 972.0V974.2M1058.8 969.1H1069.3M1058.8 973.1H1063.7M1058.8 969.1V973.1M1068.1 976.0H1086M1067.9 978.5H1086M1062.4 976.0H1068.1M1062.4 978.5H1067.9M1062.4 976.0V978.5M1069.0 981.1H1086M1071.7 983.1H1086M1072.2 985.1H1086M1065.1 983.1H1071.7M1065.1 985.1H1072.2M1065.1 983.1V985.1M1060.7 981.1H1069.0M1060.7 984.1H1065.1M1060.7 981.1V984.1M1058.3 977.3H1062.4M1058.3 982.6H1060.7M1058.3 977.3V982.6M1054.1 971.1H1058.8M1054.1 979.9H1058.3M1054.1 971.1V979.9M1068.8 987.0H1086M1071.9 988.8H1086M1061.4 987.0H1068.8M1061.4 988.8H1071.9M1061.4 987.0V988.8M1071.5 991.3H1086M1059.2 987.9H1061.4M1059.2 991.3H1071.5M1059.2 987.9V991.3M1063.9 993.4H1086M1070.5 995.3H1086M1056.8 993.4H1063.9M1056.8 995.3H1070.5M1056.8 993.4V995.3M1051.9 989.6H1059.2M1051.9 994.4H1056.8M1051.9 989.6V994.4M1046.3 975.5H1054.1M1046.3 992.0H1051.9M1046.3 975.5V992.0M1037.7 950.4H1044.8M1037.7 983.7H1046.3M1037.7 950.4V983.7M1022.7 920.6H1032.9M1022.7 967.1H1037.7M1022.7 920.6V967.1M1061.8 997.6H1086M1056.2 999.7H1086M1046.2 997.6H1061.8M1046.2 999.7H1056.2M1046.2 997.6V999.7M1066.5 1002.0H1086M1057.0 1004.1H1086M1047.8 1002.0H1066.5M1047.8 1004.1H1057.0M1047.8 1002.0V1004.1M1038.4 998.6H1046.2M1038.4 1003.0H1047.8M1038.4 998.6V1003.0M1057.1 1005.8H1086M1070.9 1007.9H1086M1070.2 1010.2H1086M1055.3 1007.9H1070.9M1055.3 1010.2H1070.2M1055.3 1007.9V1010.2M1049.6 1005.8H1057.1M1049.6 1009.0H1055.3M1049.6 1005.8V1009.0M1063.9 1012.9H1086M1064.3 1015.9H1086M1066.2 1017.9H1086M1057.2 1015.9H1064.3M1057.2 1017.9H1066.2M1057.2 1015.9V1017.9M1051.5 1012.9H1063.9M1051.5 1016.9H1057.2M1051.5 1012.9V1016.9M1039.5 1007.4H1049.6M1039.5 1014.9H1051.5M1039.5 1007.4V1014.9M1030.4 1000.8H1038.4M1030.4 1011.2H1039.5M1030.4 1000.8V1011.2M1063.3 1019.7H1086M1068.5 1022.1H1086M1066.2 1024.3H1086M1059.3 1022.1H1068.5M1059.3 1024.3H1066.2M1059.3 1022.1V1024.3M1055.0 1019.7H1063.3M1055.0 1023.2H1059.3M1055.0 1019.7V1023.2M1065.1 1026.6H1086M1049.0 1021.5H1055.0M1049.0 1026.6H1065.1M1049.0 1021.5V1026.6M1067.3 1029.0H1086M1068.2 1031.5H1086M1056.4 1029.0H1067.3M1056.4 1031.5H1068.2M1056.4 1029.0V1031.5M1070.5 1034.9H1086M1071.5 1038.1H1086M1068.3 1040.3H1086M1064.2 1038.1H1071.5M1064.2 1040.3H1068.3M1064.2 1038.1V1040.3M1059.4 1034.9H1070.5M1059.4 1039.2H1064.2M1059.4 1034.9V1039.2M1052.3 1030.2H1056.4M1052.3 1037.0H1059.4M1052.3 1030.2V1037.0M1064.0 1042.1H1086M1070.8 1043.7H1086M1063.6 1045.7H1086M1055.7 1043.7H1070.8M1055.7 1045.7H1063.6M1055.7 1043.7V1045.7M1051.3 1042.1H1064.0M1051.3 1044.7H1055.7M1051.3 1042.1V1044.7M1044.1 1033.6H1052.3M1044.1 1043.4H1051.3M1044.1 1033.6V1043.4M1039.8 1024.0H1049.0M1039.8 1038.5H1044.1M1039.8 1024.0V1038.5M1024.4 1006.0H1030.4M1024.4 1031.3H1039.8M1024.4 1006.0V1031.3M1069.6 1048.4H1086M1066.7 1050.6H1086M1066.6 1052.4H1086M1058.2 1050.6H1066.7M1058.2 1052.4H1066.6M1058.2 1050.6V1052.4M1051.0 1048.4H1069.6M1051.0 1051.5H1058.2M1051.0 1048.4V1051.5M1065.8 1054.9H1086M1063.5 1057.0H1086M1057.4 1054.9H1065.8M1057.4 1057.0H1063.5M1057.4 1054.9V1057.0M1066.8 1059.2H1086M1070.5 1061.5H1086M1066.9 1063.6H1086M1061.6 1061.5H1070.5M1061.6 1063.6H1066.9M1061.6 1061.5V1063.6M1057.4 1059.2H1066.8M1057.4 1062.5H1061.6M1057.4 1059.2V1062.5M1053.8 1055.9H1057.4M1053.8 1060.9H1057.4M1053.8 1055.9V1060.9M1047.6 1050.0H1051.0M1047.6 1058.4H1053.8M1047.6 1050.0V1058.4M1064.5 1066.5H1086M1066.3 1069.1H1086M1053.4 1066.5H1064.5M1053.4 1069.1H1066.3M1053.4 1066.5V1069.1M1066.5 1071.2H1086M1063.8 1073.1H1086M1050.6 1071.2H1066.5M1050.6 1073.1H1063.8M1050.6 1071.2V1073.1M1046.2 1067.8H1053.4M1046.2 1072.1H1050.6M1046.2 1067.8V1072.1M1040.5 1054.2H1047.6M1040.5 1070.0H1046.2M1040.5 1054.2V1070.0M1063.4 1075.3H1086M1057.8 1077.9H1086M1044.0 1075.3H1063.4M1044.0 1077.9H1057.8M1044.0 1075.3V1077.9M1068.3 1080.7H1086M1065.8 1083.0H1086M1060.2 1080.7H1068.3M1060.2 1083.0H1065.8M1060.2 1080.7V1083.0M1063.6 1085.0H1086M1052.8 1081.9H1060.2M1052.8 1085.0H1063.6M1052.8 1081.9V1085.0M1061.9 1087.4H1086M1067.7 1089.2H1086M1049.7 1087.4H1061.9M1049.7 1089.2H1067.7M1049.7 1087.4V1089.2M1044.7 1083.4H1052.8M1044.7 1088.3H1049.7M1044.7 1083.4V1088.3M1031.0 1076.6H1044.0M1031.0 1085.9H1044.7M1031.0 1076.6V1085.9M1023.6 1062.1H1040.5M1023.6 1081.2H1031.0M1023.6 1062.1V1081.2M1016.3 1018.6H1024.4M1016.3 1071.6H1023.6M1016.3 1018.6V1071.6M1002.6 943.8H1022.7M1002.6 1045.1H1016.3M1002.6 943.8V1045.1M995.0 838.5H1012.4M995.0 994.5H1002.6M995.0 838.5V994.5M1072.7 1091.3H1086M1071.5 1093.9H1086M1061.6 1091.3H1072.7M1061.6 1093.9H1071.5M1061.6 1091.3V1093.9M1071.4 1096.4H1086M1069.0 1098.5H1086M1063.9 1096.4H1071.4M1063.9 1098.5H1069.0M1063.9 1096.4V1098.5M1065.3 1100.9H1086M1061.5 1097.5H1063.9M1061.5 1100.9H1065.3M1061.5 1097.5V1100.9M1055.6 1092.6H1061.6M1055.6 1099.2H1061.5M1055.6 1092.6V1099.2M1069.9 1103.5H1086M1068.7 1106.0H1086M1069.9 1108.2H1086M1065.1 1106.0H1068.7M1065.1 1108.2H1069.9M1065.1 1106.0V1108.2M1062.9 1103.5H1069.9M1062.9 1107.1H1065.1M1062.9 1103.5V1107.1M1068.7 1110.1H1086M1069.9 1112.6H1086M1062.3 1110.1H1068.7M1062.3 1112.6H1069.9M1062.3 1110.1V1112.6M1059.2 1105.3H1062.9M1059.2 1111.4H1062.3M1059.2 1105.3V1111.4M1068.4 1115.0H1086M1065.6 1117.1H1086M1059.9 1115.0H1068.4M1059.9 1117.1H1065.6M1059.9 1115.0V1117.1M1069.3 1119.7H1086M1070.8 1122.8H1086M1070.2 1125.5H1086M1065.7 1122.8H1070.8M1065.7 1125.5H1070.2M1065.7 1122.8V1125.5M1061.5 1119.7H1069.3M1061.5 1124.2H1065.7M1061.5 1119.7V1124.2M1057.8 1116.0H1059.9M1057.8 1121.9H1061.5M1057.8 1116.0V1121.9M1054.3 1108.3H1059.2M1054.3 1119.0H1057.8M1054.3 1108.3V1119.0M1047.8 1095.9H1055.6M1047.8 1113.6H1054.3M1047.8 1095.9V1113.6M1064.3 1128.2H1086M1062.1 1131.7H1086M1052.0 1128.2H1064.3M1052.0 1131.7H1062.1M1052.0 1128.2V1131.7M1070.6 1135.2H1086M1048.2 1129.9H1052.0M1048.2 1135.2H1070.6M1048.2 1129.9V1135.2M1066.0 1138.5H1086M1070.5 1141.1H1086M1061.6 1138.5H1066.0M1061.6 1141.1H1070.5M1061.6 1138.5V1141.1M1069.4 1143.1H1086M1056.2 1139.8H1061.6M1056.2 1143.1H1069.4M1056.2 1139.8V1143.1M1066.6 1145.8H1086M1070.4 1148.0H1086M1059.3 1145.8H1066.6M1059.3 1148.0H1070.4M1059.3 1145.8V1148.0M1066.5 1150.1H1086M1056.3 1146.9H1059.3M1056.3 1150.1H1066.5M1056.3 1146.9V1150.1M1052.7 1141.5H1056.2M1052.7 1148.5H1056.3M1052.7 1141.5V1148.5M1068.3 1152.8H1086M1066.6 1155.1H1086M1071.2 1157.3H1086M1058.4 1155.1H1066.6M1058.4 1157.3H1071.2M1058.4 1155.1V1157.3M1054.9 1152.8H1068.3M1054.9 1156.2H1058.4M1054.9 1152.8V1156.2M1048.5 1145.0H1052.7M1048.5 1154.5H1054.9M1048.5 1145.0V1154.5M1042.4 1132.5H1048.2M1042.4 1149.7H1048.5M1042.4 1132.5V1149.7M1036.1 1104.8H1047.8M1036.1 1141.1H1042.4M1036.1 1104.8V1141.1M1065.2 1159.2H1086M1071.3 1160.8H1086M1069.7 1162.6H1086M1063.2 1160.8H1071.3M1063.2 1162.6H1069.7M1063.2 1160.8V1162.6M1059.2 1159.2H1065.2M1059.2 1161.7H1063.2M1059.2 1159.2V1161.7M1071.0 1165.5H1086M1069.9 1168.1H1086M1058.3 1165.5H1071.0M1058.3 1168.1H1069.9M1058.3 1165.5V1168.1M1054.2 1160.5H1059.2M1054.2 1166.8H1058.3M1054.2 1160.5V1166.8M1071.0 1170.5H1086M1062.2 1173.2H1086M1053.6 1170.5H1071.0M1053.6 1173.2H1062.2M1053.6 1170.5V1173.2M1072.0 1175.4H1086M1070.8 1177.6H1086M1066.4 1179.7H1086M1061.5 1177.6H1070.8M1061.5 1179.7H1066.4M1061.5 1177.6V1179.7M1056.4 1175.4H1072.0M1056.4 1178.7H1061.5M1056.4 1175.4V1178.7M1050.6 1171.8H1053.6M1050.6 1177.1H1056.4M1050.6 1171.8V1177.1M1045.5 1163.6H1054.2M1045.5 1174.4H1050.6M1045.5 1163.6V1174.4M1061.9 1182.2H1086M1065.1 1185.2H1086M1064.0 1187.7H1086M1059.6 1185.2H1065.1M1059.6 1187.7H1064.0M1059.6 1185.2V1187.7M1054.4 1182.2H1061.9M1054.4 1186.5H1059.6M1054.4 1182.2V1186.5M1069.4 1189.8H1086M1072.4 1192.2H1086M1068.7 1194.6H1086M1058.2 1192.2H1072.4M1058.2 1194.6H1068.7M1058.2 1192.2V1194.6M1054.0 1189.8H1069.4M1054.0 1193.4H1058.2M1054.0 1189.8V1193.4M1047.0 1184.3H1054.4M1047.0 1191.6H1054.0M1047.0 1184.3V1191.6M1036.6 1169.0H1045.5M1036.6 1188.0H1047.0M1036.6 1169.0V1188.0M1025.3 1123.0H1036.1M1025.3 1178.5H1036.6M1025.3 1123.0V1178.5M1064.4 1197.4H1086M1070.3 1200.1H1086M1066.6 1202.4H1086M1057.0 1200.1H1070.3M1057.0 1202.4H1066.6M1057.0 1200.1V1202.4M1069.6 1204.8H1086M1054.1 1201.2H1057.0M1054.1 1204.8H1069.6M1054.1 1201.2V1204.8M1049.3 1197.4H1064.4M1049.3 1203.0H1054.1M1049.3 1197.4V1203.0M1066.7 1206.6H1086M1063.6 1208.5H1086M1057.8 1206.6H1066.7M1057.8 1208.5H1063.6M1057.8 1206.6V1208.5M1067.4 1210.6H1086M1067.1 1212.7H1086M1055.4 1210.6H1067.4M1055.4 1212.7H1067.1M1055.4 1210.6V1212.7M1050.7 1207.5H1057.8M1050.7 1211.6H1055.4M1050.7 1207.5V1211.6M1061.4 1215.5H1086M1057.6 1218.6H1086M1050.1 1215.5H1061.4M1050.1 1218.6H1057.6M1050.1 1215.5V1218.6M1045.1 1209.6H1050.7M1045.1 1217.0H1050.1M1045.1 1209.6V1217.0M1039.6 1200.2H1049.3M1039.6 1213.3H1045.1M1039.6 1200.2V1213.3M1065.6 1221.5H1086M1066.9 1224.4H1086M1046.4 1221.5H1065.6M1046.4 1224.4H1066.9M1046.4 1221.5V1224.4M1063.4 1227.1H1086M1061.8 1229.7H1086M1050.2 1227.1H1063.4M1050.2 1229.7H1061.8M1050.2 1227.1V1229.7M1040.3 1223.0H1046.4M1040.3 1228.4H1050.2M1040.3 1223.0V1228.4M1070.5 1232.3H1086M1066.0 1235.1H1086M1062.6 1237.7H1086M1055.7 1235.1H1066.0M1055.7 1237.7H1062.6M1055.7 1235.1V1237.7M1049.5 1232.3H1070.5M1049.5 1236.4H1055.7M1049.5 1232.3V1236.4M1063.0 1239.8H1086M1067.4 1241.8H1086M1058.1 1239.8H1063.0M1058.1 1241.8H1067.4M1058.1 1239.8V1241.8M1070.5 1243.5H1086M1071.7 1245.5H1086M1061.1 1243.5H1070.5M1061.1 1245.5H1071.7M1061.1 1243.5V1245.5M1054.7 1240.8H1058.1M1054.7 1244.5H1061.1M1054.7 1240.8V1244.5M1064.9 1248.7H1086M1051.4 1242.7H1054.7M1051.4 1248.7H1064.9M1051.4 1242.7V1248.7M1059.6 1252.0H1086M1067.7 1254.5H1086M1052.6 1252.0H1059.6M1052.6 1254.5H1067.7M1052.6 1252.0V1254.5M1047.1 1245.7H1051.4M1047.1 1253.3H1052.6M1047.1 1245.7V1253.3M1038.9 1234.4H1049.5M1038.9 1249.5H1047.1M1038.9 1234.4V1249.5M1031.9 1225.7H1040.3M1031.9 1241.9H1038.9M1031.9 1225.7V1241.9M1026.2 1206.8H1039.6M1026.2 1233.8H1031.9M1026.2 1206.8V1233.8M1010.7 1150.7H1025.3M1010.7 1220.3H1026.2M1010.7 1150.7V1220.3M1066.3 1257.1H1086M1069.2 1260.1H1086M1053.8 1257.1H1066.3M1053.8 1260.1H1069.2M1053.8 1257.1V1260.1M1058.3 1262.6H1086M1049.8 1258.6H1053.8M1049.8 1262.6H1058.3M1049.8 1258.6V1262.6M1062.2 1264.7H1086M1068.7 1267.2H1086M1056.1 1264.7H1062.2M1056.1 1267.2H1068.7M1056.1 1264.7V1267.2M1067.1 1270.1H1086M1069.8 1272.0H1086M1058.5 1270.1H1067.1M1058.5 1272.0H1069.8M1058.5 1270.1V1272.0M1050.5 1266.0H1056.1M1050.5 1271.1H1058.5M1050.5 1266.0V1271.1M1059.1 1273.8H1086M1062.8 1276.0H1086M1052.2 1273.8H1059.1M1052.2 1276.0H1062.8M1052.2 1273.8V1276.0M1062.4 1278.3H1086M1065.1 1280.3H1086M1052.7 1278.3H1062.4M1052.7 1280.3H1065.1M1052.7 1278.3V1280.3M1046.5 1274.9H1052.2M1046.5 1279.3H1052.7M1046.5 1274.9V1279.3M1042.0 1268.5H1050.5M1042.0 1277.1H1046.5M1042.0 1268.5V1277.1M1037.2 1260.6H1049.8M1037.2 1272.8H1042.0M1037.2 1260.6V1272.8M1065.6 1282.7H1086M1068.9 1285.4H1086M1069.2 1288.0H1086M1059.5 1285.4H1068.9M1059.5 1288.0H1069.2M1059.5 1285.4V1288.0M1057.2 1282.7H1065.6M1057.2 1286.7H1059.5M1057.2 1282.7V1286.7M1062.4 1290.7H1086M1061.4 1293.6H1086M1054.4 1290.7H1062.4M1054.4 1293.6H1061.4M1054.4 1290.7V1293.6M1048.6 1284.7H1057.2M1048.6 1292.2H1054.4M1048.6 1284.7V1292.2M1065.0 1296.5H1086M1070.5 1299.1H1086M1060.6 1296.5H1065.0M1060.6 1299.1H1070.5M1060.6 1296.5V1299.1M1065.2 1301.8H1086M1056.2 1297.8H1060.6M1056.2 1301.8H1065.2M1056.2 1297.8V1301.8M1065.3 1304.8H1086M1069.8 1307.3H1086M1070.0 1309.6H1086M1061.4 1307.3H1069.8M1061.4 1309.6H1070.0M1061.4 1307.3V1309.6M1058.8 1304.8H1065.3M1058.8 1308.4H1061.4M1058.8 1304.8V1308.4M1065.3 1312.6H1086M1070.7 1315.3H1086M1060.4 1312.6H1065.3M1060.4 1315.3H1070.7M1060.4 1312.6V1315.3M1054.9 1306.6H1058.8M1054.9 1314.0H1060.4M1054.9 1306.6V1314.0M1050.7 1299.8H1056.2M1050.7 1310.3H1054.9M1050.7 1299.8V1310.3M1042.1 1288.4H1048.6M1042.1 1305.0H1050.7M1042.1 1288.4V1305.0M1030.7 1266.7H1037.2M1030.7 1296.7H1042.1M1030.7 1266.7V1296.7M1072.4 1317.6H1086M1065.0 1319.6H1086M1059.5 1317.6H1072.4M1059.5 1319.6H1065.0M1059.5 1317.6V1319.6M1072.7 1321.6H1086M1068.7 1323.6H1086M1063.9 1321.6H1072.7M1063.9 1323.6H1068.7M1063.9 1321.6V1323.6M1064.6 1325.9H1086M1059.0 1322.6H1063.9M1059.0 1325.9H1064.6M1059.0 1322.6V1325.9M1052.5 1318.6H1059.5M1052.5 1324.3H1059.0M1052.5 1318.6V1324.3M1066.3 1328.2H1086M1071.3 1331.0H1086M1060.5 1328.2H1066.3M1060.5 1331.0H1071.3M1060.5 1328.2V1331.0M1065.2 1334.3H1086M1053.8 1329.6H1060.5M1053.8 1334.3H1065.2M1053.8 1329.6V1334.3M1043.9 1321.4H1052.5M1043.9 1331.9H1053.8M1043.9 1321.4V1331.9M1065.9 1337.4H1086M1064.1 1339.7H1086M1058.8 1337.4H1065.9M1058.8 1339.7H1064.1M1058.8 1337.4V1339.7M1065.1 1341.5H1086M1055.1 1338.6H1058.8M1055.1 1341.5H1065.1M1055.1 1338.6V1341.5M1058.2 1344.3H1086M1051.0 1340.1H1055.1M1051.0 1344.3H1058.2M1051.0 1340.1V1344.3M1066.2 1347.1H1086M1065.4 1349.6H1086M1058.9 1347.1H1066.2M1058.9 1349.6H1065.4M1058.9 1347.1V1349.6M1071.1 1352.3H1086M1055.7 1348.3H1058.9M1055.7 1352.3H1071.1M1055.7 1348.3V1352.3M1067.3 1354.5H1086M1065.5 1356.5H1086M1055.6 1354.5H1067.3M1055.6 1356.5H1065.5M1055.6 1354.5V1356.5M1051.8 1350.3H1055.7M1051.8 1355.5H1055.6M1051.8 1350.3V1355.5M1045.5 1342.2H1051.0M1045.5 1352.9H1051.8M1045.5 1342.2V1352.9M1037.9 1326.7H1043.9M1037.9 1347.5H1045.5M1037.9 1326.7V1347.5M1072.0 1358.3H1086M1071.4 1360.7H1086M1057.6 1358.3H1072.0M1057.6 1360.7H1071.4M1057.6 1358.3V1360.7M1065.7 1363.7H1086M1072.0 1366.9H1086M1061.5 1363.7H1065.7M1061.5 1366.9H1072.0M1061.5 1363.7V1366.9M1063.5 1370.3H1086M1057.4 1365.3H1061.5M1057.4 1370.3H1063.5M1057.4 1365.3V1370.3M1054.0 1359.5H1057.6M1054.0 1367.8H1057.4M1054.0 1359.5V1367.8M1063.7 1373.3H1086M1072.1 1375.5H1086M1067.4 1377.6H1086M1061.1 1375.5H1072.1M1061.1 1377.6H1067.4M1061.1 1375.5V1377.6M1054.5 1373.3H1063.7M1054.5 1376.5H1061.1M1054.5 1373.3V1376.5M1045.8 1363.6H1054.0M1045.8 1374.9H1054.5M1045.8 1363.6V1374.9M1065.0 1380.3H1086M1063.8 1383.1H1086M1057.6 1380.3H1065.0M1057.6 1383.1H1063.8M1057.6 1380.3V1383.1M1063.8 1386.1H1086M1071.4 1389.3H1086M1059.1 1386.1H1063.8M1059.1 1389.3H1071.4M1059.1 1386.1V1389.3M1053.5 1381.7H1057.6M1053.5 1387.7H1059.1M1053.5 1381.7V1387.7M1067.1 1391.5H1086M1068.9 1393.5H1086M1060.5 1391.5H1067.1M1060.5 1393.5H1068.9M1060.5 1391.5V1393.5M1067.5 1396.0H1086M1067.2 1398.6H1086M1061.0 1396.0H1067.5M1061.0 1398.6H1067.2M1061.0 1396.0V1398.6M1057.9 1392.5H1060.5M1057.9 1397.3H1061.0M1057.9 1392.5V1397.3M1050.1 1384.7H1053.5M1050.1 1394.9H1057.9M1050.1 1384.7V1394.9M1039.2 1369.3H1045.8M1039.2 1389.8H1050.1M1039.2 1369.3V1389.8M1028.5 1337.1H1037.9M1028.5 1379.5H1039.2M1028.5 1337.1V1379.5M1017.9 1281.7H1030.7M1017.9 1358.3H1028.5M1017.9 1281.7V1358.3M1000.0 1185.5H1010.7M1000.0 1320.0H1017.9M1000.0 1185.5V1320.0M1068.1 1401.1H1086M1068.7 1403.5H1086M1068.9 1406.0H1086M1061.8 1403.5H1068.7M1061.8 1406.0H1068.9M1061.8 1403.5V1406.0M1058.1 1401.1H1068.1M1058.1 1404.7H1061.8M1058.1 1401.1V1404.7M1071.6 1408.1H1086M1066.1 1410.7H1086M1060.7 1408.1H1071.6M1060.7 1410.7H1066.1M1060.7 1408.1V1410.7M1068.3 1413.5H1086M1067.2 1415.4H1086M1063.6 1413.5H1068.3M1063.6 1415.4H1067.2M1063.6 1413.5V1415.4M1058.1 1409.4H1060.7M1058.1 1414.5H1063.6M1058.1 1409.4V1414.5M1054.0 1402.9H1058.1M1054.0 1411.9H1058.1M1054.0 1402.9V1411.9M1068.9 1417.5H1086M1072.0 1420.8H1086M1065.9 1417.5H1068.9M1065.9 1420.8H1072.0M1065.9 1417.5V1420.8M1065.8 1424.3H1086M1061.7 1419.2H1065.9M1061.7 1424.3H1065.8M1061.7 1419.2V1424.3M1071.4 1427.7H1086M1072.5 1429.9H1086M1065.3 1427.7H1071.4M1065.3 1429.9H1072.5M1065.3 1427.7V1429.9M1068.4 1431.9H1086M1072.6 1434.3H1086M1065.4 1431.9H1068.4M1065.4 1434.3H1072.6M1065.4 1431.9V1434.3M1061.7 1428.8H1065.3M1061.7 1433.1H1065.4M1061.7 1428.8V1433.1M1056.0 1421.8H1061.7M1056.0 1430.9H1061.7M1056.0 1421.8V1430.9M1047.8 1407.4H1054.0M1047.8 1426.4H1056.0M1047.8 1407.4V1426.4M1069.0 1437.1H1086M1071.8 1440.0H1086M1064.8 1442.6H1086M1057.9 1440.0H1071.8M1057.9 1442.6H1064.8M1057.9 1440.0V1442.6M1055.6 1437.1H1069.0M1055.6 1441.3H1057.9M1055.6 1437.1V1441.3M1069.7 1444.7H1086M1072.7 1446.9H1086M1062.7 1444.7H1069.7M1062.7 1446.9H1072.7M1062.7 1444.7V1446.9M1063.2 1449.6H1086M1058.3 1445.8H1062.7M1058.3 1449.6H1063.2M1058.3 1445.8V1449.6M1068.3 1451.9H1086M1063.8 1454.4H1086M1057.7 1451.9H1068.3M1057.7 1454.4H1063.8M1057.7 1451.9V1454.4M1051.9 1447.7H1058.3M1051.9 1453.2H1057.7M1051.9 1447.7V1453.2M1048.7 1439.2H1055.6M1048.7 1450.4H1051.9M1048.7 1439.2V1450.4M1068.5 1457.8H1086M1071.1 1460.9H1086M1071.6 1463.6H1086M1067.8 1460.9H1071.1M1067.8 1463.6H1071.6M1067.8 1460.9V1463.6M1064.9 1457.8H1068.5M1064.9 1462.2H1067.8M1064.9 1457.8V1462.2M1068.4 1466.7H1086M1068.6 1469.5H1086M1063.1 1466.7H1068.4M1063.1 1469.5H1068.6M1063.1 1466.7V1469.5M1060.6 1460.0H1064.9M1060.6 1468.1H1063.1M1060.6 1460.0V1468.1M1072.9 1471.7H1086M1071.4 1474.1H1086M1073.3 1476.4H1086M1068.4 1474.1H1071.4M1068.4 1476.4H1073.3M1068.4 1474.1V1476.4M1066.1 1471.7H1072.9M1066.1 1475.2H1068.4M1066.1 1471.7V1475.2M1068.8 1478.4H1086M1068.2 1480.6H1086M1064.9 1478.4H1068.8M1064.9 1480.6H1068.2M1064.9 1478.4V1480.6M1062.8 1473.5H1066.1M1062.8 1479.5H1064.9M1062.8 1473.5V1479.5M1058.2 1464.0H1060.6M1058.2 1476.5H1062.8M1058.2 1464.0V1476.5M1071.2 1483.0H1086M1071.2 1485.2H1086M1065.6 1483.0H1071.2M1065.6 1485.2H1071.2M1065.6 1483.0V1485.2M1069.1 1487.2H1086M1062.6 1484.1H1065.6M1062.6 1487.2H1069.1M1062.6 1484.1V1487.2M1068.5 1489.5H1086M1071.9 1491.5H1086M1064.7 1489.5H1068.5M1064.7 1491.5H1071.9M1064.7 1489.5V1491.5M1072.2 1493.2H1086M1067.8 1495.2H1086M1064.6 1493.2H1072.2M1064.6 1495.2H1067.8M1064.6 1493.2V1495.2M1061.7 1490.5H1064.7M1061.7 1494.2H1064.6M1061.7 1490.5V1494.2M1058.6 1485.7H1062.6M1058.6 1492.4H1061.7M1058.6 1485.7V1492.4M1053.7 1470.3H1058.2M1053.7 1489.0H1058.6M1053.7 1470.3V1489.0M1044.5 1444.8H1048.7M1044.5 1479.6H1053.7M1044.5 1444.8V1479.6M1035.7 1416.9H1047.8M1035.7 1462.2H1044.5M1035.7 1416.9V1462.2M1062.3 1497.5H1086M1069.2 1499.6H1086M1067.0 1501.6H1086M1060.7 1499.6H1069.2M1060.7 1501.6H1067.0M1060.7 1499.6V1501.6M1053.8 1497.5H1062.3M1053.8 1500.6H1060.7M1053.8 1497.5V1500.6M1068.9 1504.1H1086M1066.9 1506.9H1086M1050.2 1504.1H1068.9M1050.2 1506.9H1066.9M1050.2 1504.1V1506.9M1046.9 1499.1H1053.8M1046.9 1505.5H1050.2M1046.9 1499.1V1505.5M1069.1 1509.0H1086M1068.3 1510.8H1086M1067.9 1512.7H1086M1056.4 1510.8H1068.3M1056.4 1512.7H1067.9M1056.4 1510.8V1512.7M1052.2 1509.0H1069.1M1052.2 1511.8H1056.4M1052.2 1509.0V1511.8M1064.3 1515.3H1086M1069.8 1517.6H1086M1068.6 1519.5H1086M1062.9 1517.6H1069.8M1062.9 1519.5H1068.6M1062.9 1517.6V1519.5M1059.3 1515.3H1064.3M1059.3 1518.5H1062.9M1059.3 1515.3V1518.5M1062.9 1521.5H1086M1071.4 1523.3H1086M1069.1 1525.7H1086M1060.2 1523.3H1071.4M1060.2 1525.7H1069.1M1060.2 1523.3V1525.7M1057.6 1521.5H1062.9M1057.6 1524.5H1060.2M1057.6 1521.5V1524.5M1052.5 1516.9H1059.3M1052.5 1523.0H1057.6M1052.5 1516.9V1523.0M1046.0 1510.4H1052.2M1046.0 1520.0H1052.5M1046.0 1510.4V1520.0M1041.0 1502.3H1046.9M1041.0 1515.2H1046.0M1041.0 1502.3V1515.2M1064.5 1528.6H1086M1065.9 1530.7H1086M1058.6 1528.6H1064.5M1058.6 1530.7H1065.9M1058.6 1528.6V1530.7M1070.7 1532.9H1086M1066.4 1536.0H1086M1068.5 1538.5H1086M1061.5 1536.0H1066.4M1061.5 1538.5H1068.5M1061.5 1536.0V1538.5M1056.0 1532.9H1070.7M1056.0 1537.2H1061.5M1056.0 1532.9V1537.2M1052.2 1529.6H1058.6M1052.2 1535.1H1056.0M1052.2 1529.6V1535.1M1068.7 1540.5H1086M1069.0 1542.4H1086M1065.6 1540.5H1068.7M1065.6 1542.4H1069.0M1065.6 1540.5V1542.4M1067.1 1545.1H1086M1061.1 1541.5H1065.6M1061.1 1545.1H1067.1M1061.1 1541.5V1545.1M1065.1 1548.0H1086M1070.5 1550.0H1086M1060.1 1548.0H1065.1M1060.1 1550.0H1070.5M1060.1 1548.0V1550.0M1054.7 1543.3H1061.1M1054.7 1549.0H1060.1M1054.7 1543.3V1549.0M1072.0 1551.8H1086M1067.2 1553.7H1086M1063.9 1551.8H1072.0M1063.9 1553.7H1067.2M1063.9 1551.8V1553.7M1069.0 1555.3H1086M1069.3 1557.5H1086M1063.5 1555.3H1069.0M1063.5 1557.5H1069.3M1063.5 1555.3V1557.5M1059.1 1552.7H1063.9M1059.1 1556.4H1063.5M1059.1 1552.7V1556.4M1051.7 1546.1H1054.7M1051.7 1554.6H1059.1M1051.7 1546.1V1554.6M1043.6 1532.4H1052.2M1043.6 1550.4H1051.7M1043.6 1532.4V1550.4M1031.6 1508.7H1041.0M1031.6 1541.4H1043.6M1031.6 1508.7V1541.4M1024.2 1439.6H1035.7M1024.2 1525.1H1031.6M1024.2 1439.6V1525.1M1069.8 1560.3H1086M1068.0 1563.0H1086M1063.7 1560.3H1069.8M1063.7 1563.0H1068.0M1063.7 1560.3V1563.0M1070.4 1565.7H1086M1072.2 1567.9H1086M1063.7 1565.7H1070.4M1063.7 1567.9H1072.2M1063.7 1565.7V1567.9M1068.7 1570.0H1086M1072.2 1572.0H1086M1065.2 1570.0H1068.7M1065.2 1572.0H1072.2M1065.2 1570.0V1572.0M1060.6 1566.8H1063.7M1060.6 1571.0H1065.2M1060.6 1566.8V1571.0M1058.7 1561.7H1063.7M1058.7 1568.9H1060.6M1058.7 1561.7V1568.9M1072.1 1573.7H1086M1071.3 1576.2H1086M1066.3 1573.7H1072.1M1066.3 1576.2H1071.3M1066.3 1573.7V1576.2M1072.4 1578.9H1086M1071.5 1580.8H1086M1068.6 1578.9H1072.4M1068.6 1580.8H1071.5M1068.6 1578.9V1580.8M1070.5 1582.5H1086M1067.3 1579.9H1068.6M1067.3 1582.5H1070.5M1067.3 1579.9V1582.5M1064.8 1574.9H1066.3M1064.8 1581.2H1067.3M1064.8 1574.9V1581.2M1069.6 1585.3H1086M1070.9 1588.4H1086M1064.0 1585.3H1069.6M1064.0 1588.4H1070.9M1064.0 1585.3V1588.4M1059.9 1578.0H1064.8M1059.9 1586.8H1064.0M1059.9 1578.0V1586.8M1054.9 1565.3H1058.7M1054.9 1582.4H1059.9M1054.9 1565.3V1582.4M1069.6 1591.0H1086M1072.0 1592.9H1086M1066.4 1591.0H1069.6M1066.4 1592.9H1072.0M1066.4 1591.0V1592.9M1070.5 1595.4H1086M1071.4 1598.5H1086M1066.6 1595.4H1070.5M1066.6 1598.5H1071.4M1066.6 1595.4V1598.5M1063.3 1591.9H1066.4M1063.3 1597.0H1066.6M1063.3 1591.9V1597.0M1070.1 1601.4H1086M1070.9 1604.1H1086M1061.6 1601.4H1070.1M1061.6 1604.1H1070.9M1061.6 1601.4V1604.1M1058.8 1594.5H1063.3M1058.8 1602.7H1061.6M1058.8 1594.5V1602.7M1071.7 1606.7H1086M1070.6 1609.0H1086M1067.3 1606.7H1071.7M1067.3 1609.0H1070.6M1067.3 1606.7V1609.0M1072.3 1611.3H1086M1066.4 1607.9H1067.3M1066.4 1611.3H1072.3M1066.4 1607.9V1611.3M1070.3 1614.3H1086M1063.5 1609.6H1066.4M1063.5 1614.3H1070.3M1063.5 1609.6V1614.3M1068.3 1617.3H1086M1070.5 1619.6H1086M1064.8 1617.3H1068.3M1064.8 1619.6H1070.5M1064.8 1617.3V1619.6M1061.8 1612.0H1063.5M1061.8 1618.4H1064.8M1061.8 1612.0V1618.4M1055.3 1598.6H1058.8M1055.3 1615.2H1061.8M1055.3 1598.6V1615.2M1047.0 1573.9H1054.9M1047.0 1606.9H1055.3M1047.0 1573.9V1606.9M1065.5 1622.2H1086M1071.4 1625.2H1086M1059.9 1622.2H1065.5M1059.9 1625.2H1071.4M1059.9 1622.2V1625.2M1066.3 1627.8H1086M1070.0 1629.7H1086M1062.9 1627.8H1066.3M1062.9 1629.7H1070.0M1062.9 1627.8V1629.7M1063.7 1631.6H1086M1058.2 1628.8H1062.9M1058.2 1631.6H1063.7M1058.2 1628.8V1631.6M1054.1 1623.7H1059.9M1054.1 1630.2H1058.2M1054.1 1623.7V1630.2M1067.1 1633.7H1086M1072.8 1635.5H1086M1063.4 1633.7H1067.1M1063.4 1635.5H1072.8M1063.4 1633.7V1635.5M1071.9 1637.6H1086M1060.7 1634.6H1063.4M1060.7 1637.6H1071.9M1060.7 1634.6V1637.6M1064.8 1640.3H1086M1056.0 1636.1H1060.7M1056.0 1640.3H1064.8M1056.0 1636.1V1640.3M1065.1 1643.3H1086M1069.7 1645.9H1086M1070.2 1648.0H1086M1072.1 1650.0H1086M1066.2 1648.0H1070.2M1066.2 1650.0H1072.1M1066.2 1648.0V1650.0M1062.6 1645.9H1069.7M1062.6 1649.0H1066.2M1062.6 1645.9V1649.0M1057.7 1643.3H1065.1M1057.7 1647.4H1062.6M1057.7 1643.3V1647.4M1053.2 1638.2H1056.0M1053.2 1645.4H1057.7M1053.2 1638.2V1645.4M1044.1 1626.9H1054.1M1044.1 1641.8H1053.2M1044.1 1626.9V1641.8M1036.5 1590.4H1047.0M1036.5 1634.4H1044.1M1036.5 1590.4V1634.4M1070.6 1651.9H1086M1065.5 1654.4H1086M1059.8 1651.9H1070.6M1059.8 1654.4H1065.5M1059.8 1651.9V1654.4M1066.5 1657.8H1086M1071.0 1660.5H1086M1060.9 1657.8H1066.5M1060.9 1660.5H1071.0M1060.9 1657.8V1660.5M1071.3 1662.8H1086M1057.1 1659.1H1060.9M1057.1 1662.8H1071.3M1057.1 1659.1V1662.8M1053.7 1653.1H1059.8M1053.7 1660.9H1057.1M1053.7 1653.1V1660.9M1063.1 1665.4H1086M1061.1 1668.3H1086M1054.7 1665.4H1063.1M1054.7 1668.3H1061.1M1054.7 1665.4V1668.3M1050.9 1657.0H1053.7M1050.9 1666.8H1054.7M1050.9 1657.0V1666.8M1068.1 1671.4H1086M1069.1 1674.5H1086M1069.5 1677.6H1086M1065.9 1674.5H1069.1M1065.9 1677.6H1069.5M1065.9 1674.5V1677.6M1062.0 1671.4H1068.1M1062.0 1676.1H1065.9M1062.0 1671.4V1676.1M1068.0 1680.7H1086M1072.1 1683.3H1086M1062.8 1680.7H1068.0M1062.8 1683.3H1072.1M1062.8 1680.7V1683.3M1059.6 1673.8H1062.0M1059.6 1682.0H1062.8M1059.6 1673.8V1682.0M1071.2 1686.2H1086M1071.0 1688.8H1086M1067.8 1691.0H1086M1064.9 1688.8H1071.0M1064.9 1691.0H1067.8M1064.9 1688.8V1691.0M1066.5 1693.8H1086M1062.6 1689.9H1064.9M1062.6 1693.8H1066.5M1062.6 1689.9V1693.8M1058.5 1686.2H1071.2M1058.5 1691.8H1062.6M1058.5 1686.2V1691.8M1054.9 1677.9H1059.6M1054.9 1689.0H1058.5M1054.9 1677.9V1689.0M1044.7 1661.9H1050.9M1044.7 1683.5H1054.9M1044.7 1661.9V1683.5M1067.1 1696.0H1086M1067.5 1697.8H1086M1064.0 1696.0H1067.1M1064.0 1697.8H1067.5M1064.0 1696.0V1697.8M1068.9 1699.8H1086M1060.1 1696.9H1064.0M1060.1 1699.8H1068.9M1060.1 1696.9V1699.8M1066.6 1702.4H1086M1053.8 1698.4H1060.1M1053.8 1702.4H1066.6M1053.8 1698.4V1702.4M1067.6 1705.5H1086M1072.1 1707.9H1086M1062.7 1705.5H1067.6M1062.7 1707.9H1072.1M1062.7 1705.5V1707.9M1070.1 1709.7H1086M1058.8 1706.7H1062.7M1058.8 1709.7H1070.1M1058.8 1706.7V1709.7M1070.9 1711.8H1086M1068.2 1714.0H1086M1064.8 1711.8H1070.9M1064.8 1714.0H1068.2M1064.8 1711.8V1714.0M1071.0 1716.4H1086M1060.3 1712.9H1064.8M1060.3 1716.4H1071.0M1060.3 1712.9V1716.4M1063.6 1719.4H1086M1057.3 1714.7H1060.3M1057.3 1719.4H1063.6M1057.3 1714.7V1719.4M1054.4 1708.2H1058.8M1054.4 1717.0H1057.3M1054.4 1708.2V1717.0M1045.1 1700.4H1053.8M1045.1 1712.6H1054.4M1045.1 1700.4V1712.6M1034.7 1672.7H1044.7M1034.7 1706.5H1045.1M1034.7 1672.7V1706.5M1018.7 1612.4H1036.5M1018.7 1689.6H1034.7M1018.7 1612.4V1689.6M1003.0 1482.3H1024.2M1003.0 1651.0H1018.7M1003.0 1482.3V1651.0M993.0 1252.8H1000.0M993.0 1566.6H1003.0M993.0 1252.8V1566.6M988.6 916.5H995.0M988.6 1409.7H993.0M988.6 916.5V1409.7M940.8 426.7H990.2M940.8 1163.1H988.6M940.8 426.7V1163.1" fill="none" stroke="#000" stroke-width="1.7"/>
<polygon points="1086,112.5 1074.2,112.5 1069.0,115.7 1073.6,118.4 1067.1,121.9 1070.4,124.7 1076.0,126.8 1069.6,129.2 1067.3,130.9 1073.4,133.0 1065.0,134.6 1066.4,137.9 1075.6,140.9 1070.5,143.3 1065.5,145.1 1074.3,147.5 1074.6,151.0 1071.0,154.8 1072.2,157.7 1073.9,160.4 1066.5,162.0 1067.4,164.1 1065.3,166.1 1067.7,169.9 1069.6,173.3 1074.7,176.6 1066.9,179.3 1065.8,181.3 1071.5,185.0 1071.0,187.4 1065.1,189.9 1075.7,192.4 1068.1,194.1 1070.5,198.1 1069.9,200.8 1073.6,204.2 1069.9,207.2 1074.0,210.3 1072.2,212.2 1072.2,216.0 1072.6,219.0 1075.3,220.7 1067.5,224.3 1068.5,226.7 1066.1,229.9 1071.5,233.8 1065.4,237.8 1066.3,240.8 1071.9,243.5 1066.4,245.6 1075.2,247.5 1067.5,251.0 1066.8,253.7 1073.2,255.4 1071.4,257.6 1075.2,259.5 1066.1,261.9 1067.8,265.8 1073.2,268.5 1070.2,272.4 1075.7,275.7 1066.8,277.8 1066.3,281.2 1071.3,284.3 1066.7,287.2 1070.1,289.5 1067.5,291.7 1068.5,293.2 1075.7,297.1 1068.9,300.1 1069.6,303.7 1071.5,305.8 1066.0,309.7 1075.0,311.6 1075.7,313.3 1074.5,315.9 1068.8,319.6 1070.1,321.4 1070.6,323.7 1074.2,325.8 1071.8,327.7 1069.9,331.0 1068.2,332.6 1067.5,336.3 1075.9,339.8 1075.3,342.4 1074.1,345.8 1073.2,349.1 1072.6,352.4 1071.7,354.0 1066.1,356.2 1070.5,358.5 1065.6,361.3 1069.4,363.1 1067.9,365.9 1072.6,369.8 1070.2,373.0 1075.3,375.9 1065.3,379.5 1072.5,381.9 1074.8,385.8 1075.2,387.5 1067.6,391.1 1069.2,393.7 1068.9,395.2 1070.3,397.8 1071.6,400.3 1075.5,402.4 1073.3,405.0 1067.0,408.2 1071.0,411.5 1071.8,413.6 1069.0,416.3 1075.1,420.3 1070.6,422.9 1066.2,426.2 1069.1,429.7 1068.7,433.1 1068.3,436.7 1073.3,439.9 1071.8,443.7 1066.9,446.8 1065.1,450.7 1072.6,452.2 1071.7,454.5 1069.9,456.3 1072.7,458.0 1067.8,461.9 1074.8,464.6 1068.3,468.4 1072.3,470.5 1068.5,473.6 1065.5,475.7 1073.2,478.0 1074.3,481.6 1073.8,484.8 1072.9,487.8 1065.7,490.3 1071.2,492.9 1072.9,496.0 1071.8,497.9 1073.9,500.1 1075.6,504.0 1065.7,507.5 1075.8,510.8 1075.6,513.5 1068.3,516.6 1075.9,518.7 1075.0,521.5 1071.0,523.8 1071.9,527.5 1067.3,529.4 1070.2,532.9 1073.9,534.6 1069.9,537.1 1067.2,539.1 1065.8,542.7 1075.8,546.4 1075.1,549.4 1067.8,553.1 1073.9,556.5 1067.0,558.2 1069.2,561.2 1067.2,563.9 1073.0,566.2 1072.7,568.6 1066.2,571.7 1075.3,573.4 1068.5,576.1 1073.0,578.1 1075.6,579.8 1068.5,582.5 1074.3,585.6 1065.8,587.4 1071.5,590.2 1068.0,593.5 1075.1,596.3 1073.6,599.8 1072.1,601.4 1069.1,604.3 1068.2,606.2 1074.2,608.9 1067.1,612.6 1068.5,616.3 1067.4,618.4 1070.1,622.1 1065.3,625.9 1065.6,628.4 1067.3,632.2 1072.1,633.8 1069.3,636.8 1068.9,640.2 1065.8,642.1 1066.3,644.9 1065.0,646.9 1067.5,649.8 1066.3,653.2 1075.1,655.6 1074.0,658.1 1067.0,660.9 1074.6,663.4 1071.3,664.9 1075.7,667.9 1073.7,671.0 1065.8,672.8 1066.2,675.6 1074.6,678.4 1071.3,680.5 1067.5,683.6 1068.8,687.0 1071.3,689.1 1070.6,691.6 1070.1,693.7 1075.6,696.4 1069.5,699.9 1067.9,703.4 1065.1,706.8 1071.7,709.2 1068.7,710.7 1069.7,713.7 1073.8,717.7 1067.9,719.7 1070.7,723.3 1071.9,724.9 1070.5,728.5 1071.7,731.1 1069.4,734.2 1066.5,737.4 1071.9,740.8 1067.4,742.9 1065.8,746.4 1066.7,748.4 1075.2,752.1 1069.0,754.4 1066.9,756.3 1068.5,758.4 1073.6,760.7 1070.5,762.7 1073.6,766.0 1072.3,769.2 1071.9,772.3 1074.4,774.3 1068.3,775.9 1074.6,778.5 1068.8,782.2 1068.0,783.7 1071.1,786.7 1065.4,789.5 1069.0,791.9 1072.0,795.0 1067.7,797.3 1071.0,800.4 1073.5,803.2 1075.8,806.7 1071.0,809.8 1069.5,811.9 1075.0,814.8 1074.2,817.5 1072.4,821.0 1073.6,823.4 1073.9,825.0 1069.1,826.9 1073.6,830.5 1070.1,832.3 1071.5,834.0 1073.8,837.4 1070.1,840.7 1073.3,842.4 1074.9,845.4 1069.7,847.4 1070.3,851.0 1075.9,854.1 1072.5,856.4 1072.1,860.2 1075.6,863.6 1066.2,866.4 1069.6,869.8 1065.8,871.7 1065.4,873.4 1068.1,876.9 1074.2,879.7 1068.7,882.1 1071.7,885.2 1075.4,888.7 1075.0,890.9 1067.3,893.2 1074.4,896.6 1074.8,898.9 1071.1,902.1 1071.9,904.1 1071.3,907.8 1069.1,911.0 1069.9,913.7 1073.8,916.1 1072.7,918.8 1073.9,921.2 1071.3,925.0 1075.7,927.0 1066.4,929.0 1068.7,931.3 1068.8,933.4 1067.9,936.0 1071.9,938.9 1069.5,941.1 1068.4,944.6 1072.4,947.3 1066.7,951.1 1068.5,952.9 1068.6,956.4 1066.3,960.3 1065.0,962.4 1071.8,964.7 1074.2,968.6 1069.1,971.1 1073.1,973.3 1069.3,976.8 1067.3,980.2 1066.2,983.8 1065.2,987.4 1068.3,990.2 1065.3,992.9 1071.3,996.1 1072.8,999.2 1071.8,1001.1 1076.0,1002.9 1071.0,1004.6 1075.5,1008.0 1074.8,1011.1 1072.7,1013.9 1068.2,1016.5 1071.7,1019.1 1074.7,1022.4 1068.3,1024.7 1065.2,1028.3 1069.1,1030.5 1068.3,1032.8 1074.5,1036.4 1065.7,1038.7 1069.0,1041.1 1072.9,1044.7 1076.0,1048.1 1074.2,1050.5 1073.7,1052.8 1067.2,1054.4 1069.7,1056.3 1066.7,1059.2 1069.2,1062.8 1067.6,1064.8 1065.8,1066.5 1073.2,1068.8 1071.6,1070.8 1066.6,1074.3 1068.0,1077.7 1072.5,1079.8 1071.2,1082.0 1065.0,1085.7 1065.4,1087.4 1070.9,1091.2 1067.4,1094.5 1069.2,1096.4 1066.3,1100.4 1075.1,1104.2 1070.6,1107.4 1074.2,1111.2 1074.7,1114.1 1068.1,1117.6 1072.6,1119.2 1069.0,1121.0 1075.3,1124.1 1065.4,1128.0 1069.7,1130.6 1069.3,1133.0 1071.2,1135.5 1073.9,1138.9 1067.6,1141.1 1075.2,1143.2 1074.2,1147.0 1072.6,1149.5 1072.1,1151.6 1074.7,1154.5 1075.4,1157.3 1073.8,1159.0 1072.2,1161.1 1066.8,1163.3 1070.8,1166.5 1068.5,1169.9 1069.2,1172.2 1070.1,1175.6 1069.0,1178.9 1073.1,1182.8 1065.3,1185.9 1066.0,1188.8 1068.0,1190.5 1067.7,1192.7 1070.1,1195.2 1073.2,1197.3 1068.9,1201.0 1074.7,1204.1 1065.4,1206.3 1070.1,1208.3 1070.4,1211.6 1065.3,1214.4 1073.4,1217.9 1071.4,1220.5 1068.6,1223.7 1068.4,1225.8 1075.8,1228.4 1071.9,1230.6 1068.6,1232.6 1065.8,1236.6 1066.6,1239.7 1069.5,1242.4 1075.3,1246.2 1071.9,1248.6 1071.3,1250.9 1068.5,1252.6 1073.4,1256.4 1072.3,1258.4 1073.5,1261.9 1074.1,1265.3 1068.1,1268.3 1075.1,1271.5 1066.7,1275.4 1066.5,1278.1 1074.1,1281.1 1067.0,1283.6 1075.5,1286.3 1074.0,1288.2 1068.9,1291.1 1071.6,1293.8 1072.2,1297.7 1073.7,1300.8 1074.0,1303.6 1072.3,1305.4 1071.8,1307.2 1070.0,1310.3 1070.7,1313.8 1068.0,1315.5 1067.7,1318.0 1070.2,1322.0 1072.1,1324.1 1072.5,1326.8 1071.6,1328.6 1067.0,1331.7 1066.3,1335.1 1071.5,1338.6 1075.4,1341.8 1068.2,1345.2 1070.8,1347.4 1067.3,1349.6 1067.4,1352.1 1067.4,1356.0 1072.2,1358.4 1066.1,1362.3 1072.0,1364.2 1067.7,1367.7 1071.1,1369.9 1075.0,1373.8 1068.7,1376.0 1065.6,1379.8 1067.3,1382.5 1072.4,1386.4 1073.1,1388.5 1074.5,1391.9 1065.8,1394.8 1069.1,1396.8 1065.4,1399.6 1070.6,1402.4 1067.7,1406.1 1067.2,1408.0 1065.3,1410.5 1070.6,1414.4 1073.5,1417.0 1073.7,1419.1 1068.0,1421.1 1069.4,1422.7 1067.9,1425.7 1065.8,1428.6 1075.0,1430.8 1073.0,1433.8 1065.9,1437.7 1066.8,1441.0 1070.7,1443.1 1072.2,1445.5 1070.7,1448.0 1075.7,1451.1 1074.6,1453.9 1069.9,1457.9 1072.5,1460.8 1068.2,1464.1 1069.6,1467.9 1069.1,1470.1 1067.8,1471.7 1068.1,1473.9 1069.4,1475.8 1075.6,1477.7 1066.7,1479.9 1070.2,1482.3 1065.2,1485.8 1068.4,1488.0 1067.3,1491.4 1070.8,1493.8 1073.2,1497.2 1069.0,1499.9 1073.3,1503.6 1073.6,1506.7 1070.8,1508.6 1069.0,1511.8 1074.2,1515.6 1070.7,1518.4 1065.9,1520.6 1073.1,1522.5 1068.9,1524.1 1073.5,1527.2 1069.0,1531.0 1065.6,1533.0 1072.5,1536.6 1074.6,1540.3 1071.4,1542.7 1072.7,1546.6 1073.7,1549.0 1074.0,1552.6 1072.3,1556.2 1066.4,1559.1 1070.2,1561.2 1069.6,1564.3 1068.9,1566.8 1074.3,1569.1 1069.3,1570.7 1067.2,1573.6 1068.6,1575.5 1070.2,1578.1 1070.3,1581.7 1068.9,1584.3 1066.4,1586.2 1075.5,1588.9 1065.6,1591.6 1071.3,1595.6 1065.7,1597.8 1075.8,1600.0 1070.8,1602.1 1075.3,1605.3 1068.0,1607.6 1074.1,1610.0 1071.2,1613.2 1070.7,1616.5 1070.4,1620.0 1067.1,1624.0 1070.6,1627.3 1071.9,1630.3 1066.3,1632.0 1067.6,1635.5 1069.9,1639.1 1070.8,1643.1 1075.1,1647.1 1069.7,1649.5 1070.3,1653.1 1071.9,1656.5 1067.2,1659.7 1075.8,1662.7 1076.0,1665.9 1074.7,1668.1 1074.1,1671.5 1075.2,1674.8 1068.4,1676.9 1075.2,1680.7 1071.6,1683.7 1075.2,1686.8 1075.1,1688.3 1070.6,1692.0 1074.5,1695.1 1066.1,1698.3 1067.4,1700.3 1065.1,1703.9 1068.9,1706.8 1067.4,1709.2 1069.1,1711.4 1065.1,1714.5 1074.9,1718.0 1072.1,1719.9 1068.1,1721 1086,1721" fill="#000"/>
<rect x="1086" y="1719.5" width="673.5" height="1.5" fill="#111"/>
<path d="M1768 111.2V1711M1768 112.0h2.9M1768 114.7h3.5M1768 117.8h3.3M1768 120.8h0.9M1768 122.9h4.0M1768 125.4h3.9M1768 126.9h2.4M1768 128.6h2.6M1768 130.9h0.8M1768 132.5h1.8M1768 135.6h3.4M1768 137.1h3.5M1768 138.6h2.9M1768 140.0h0.8M1768 143.0h1.5M1768 144.6h4.1M1768 147.5h1.8M1768 150.7h2.6M1768 153.2h1.5M1768 156.3h3.1M1768 159.4h3.8M1768 161.2h2.0M1768 162.8h1.3M1768 164.1h1.8M1768 166.5h0.8M1768 169.1h1.9M1768 170.9h3.6M1768 173.0h1.9M1768 175.2h3.2M1768 176.5h4.1M1768 177.8h3.3M1768 180.7h0.9M1768 183.4h2.0M1768 185.8h0.8M1768 187.1h1.4M1768 190.2h1.5M1768 192.9h4.0M1768 196.0h2.0M1768 197.9h2.6M1768 200.6h1.2M1768 203.3h3.5M1768 206.3h0.9M1768 209.4h1.1M1768 211.2h2.9M1768 214.3h2.0M1768 217.3h2.7M1768 219.1h1.9M1768 220.7h1.1M1768 222.2h3.1M1768 225.4h1.3M1768 226.7h4.2M1768 229.0h2.2M1768 230.6h2.8M1768 233.5h2.3M1768 235.5h1.0M1768 238.6h0.9M1768 240.7h3.7M1768 242.2h3.3M1768 245.3h2.9M1768 248.1h1.2M1768 250.2h1.3M1768 253.0h1.8M1768 255.1h4.2M1768 258.1h4.1M1768 260.2h2.5M1768 262.8h2.4M1768 264.6h2.2M1768 266.1h2.1M1768 269.3h4.1M1768 271.7h2.5M1768 273.6h1.1M1768 275.3h3.5M1768 278.3h2.0M1768 281.1h3.4M1768 283.6h3.1M1768 286.4h2.0M1768 289.0h1.8M1768 291.1h3.4M1768 293.7h1.8M1768 296.8h3.0M1768 299.2h0.8M1768 301.5h1.7M1768 304.0h2.4M1768 306.8h3.0M1768 309.6h2.0M1768 312.1h3.3M1768 315.0h2.0M1768 317.9h3.8M1768 320.4h4.1M1768 323.6h2.6M1768 325.8h1.4M1768 328.7h4.0M1768 330.8h3.2M1768 333.5h3.3M1768 335.0h3.5M1768 337.4h3.1M1768 339.4h2.9M1768 342.2h3.0M1768 344.8h0.9M1768 346.3h2.3M1768 348.8h1.5M1768 351.4h2.9M1768 352.7h2.4M1768 354.4h1.0M1768 355.8h1.9M1768 357.4h1.5M1768 358.7h2.4M1768 360.6h2.9M1768 363.0h1.6M1768 366.0h0.8M1768 368.0h1.7M1768 370.0h1.2M1768 372.9h2.1M1768 374.2h2.9M1768 375.6h2.7M1768 377.4h2.8M1768 380.6h3.6M1768 382.6h3.6M1768 385.1h2.1M1768 386.6h2.8M1768 388.9h4.1M1768 392.0h2.9M1768 393.9h3.8M1768 395.1h1.2M1768 397.5h2.9M1768 398.9h2.9M1768 401.9h2.1M1768 404.0h1.6M1768 405.8h4.1M1768 407.7h4.1M1768 410.8h2.8M1768 412.5h4.1M1768 414.7h2.2M1768 416.5h4.1M1768 418.7h1.8M1768 420.8h1.2M1768 423.3h2.3M1768 425.1h3.5M1768 427.9h0.8M1768 430.2h1.7M1768 433.3h3.5M1768 435.0h1.7M1768 436.5h4.2M1768 438.2h2.9M1768 440.4h3.0M1768 442.8h3.3M1768 444.2h3.4M1768 446.0h2.6M1768 447.9h1.8M1768 450.2h2.4M1768 452.1h3.3M1768 454.5h0.9M1768 456.2h2.3M1768 459.2h3.8M1768 461.5h0.8M1768 464.3h2.3M1768 466.6h3.2M1768 469.1h2.4M1768 472.1h2.1M1768 474.1h3.7M1768 475.7h1.8M1768 478.5h1.0M1768 481.4h3.2M1768 483.5h1.8M1768 486.2h3.9M1768 487.7h2.4M1768 490.0h2.5M1768 491.9h1.3M1768 494.3h3.6M1768 495.6h1.6M1768 498.4h3.5M1768 501.0h0.9M1768 503.6h4.1M1768 506.8h3.2M1768 508.1h3.7M1768 509.7h3.0M1768 512.8h3.2M1768 514.3h1.8M1768 517.3h1.3M1768 519.8h2.2M1768 521.3h2.9M1768 522.6h1.2M1768 524.5h1.0M1768 525.9h2.8M1768 528.5h3.8M1768 530.0h2.3M1768 531.8h2.8M1768 534.0h4.0M1768 536.0h1.0M1768 538.6h1.3M1768 541.0h2.5M1768 544.0h2.7M1768 546.5h1.7M1768 548.8h1.7M1768 551.5h2.6M1768 553.0h1.6M1768 554.9h3.3M1768 556.5h3.2M1768 559.0h1.1M1768 561.5h1.1M1768 563.0h2.8M1768 564.6h3.8M1768 566.8h1.9M1768 569.6h0.9M1768 572.2h1.0M1768 573.7h4.0M1768 576.3h1.6M1768 577.7h4.1M1768 580.3h3.6M1768 581.7h2.9M1768 583.6h1.6M1768 585.5h2.9M1768 587.4h2.1M1768 588.9h3.6M1768 591.4h3.5M1768 593.4h3.7M1768 595.7h2.8M1768 598.0h3.3M1768 600.0h1.1M1768 601.3h1.5M1768 602.6h3.8M1768 604.7h3.4M1768 605.9h2.4M1768 608.9h2.9M1768 611.0h2.4M1768 612.4h1.3M1768 613.9h2.1M1768 615.9h3.8M1768 617.4h1.7M1768 619.1h1.3M1768 620.9h1.6M1768 623.0h0.9M1768 626.1h2.1M1768 629.2h3.1M1768 631.7h2.4M1768 634.8h1.2M1768 637.4h1.8M1768 639.9h3.3M1768 641.4h1.5M1768 642.7h1.6M1768 644.0h2.2M1768 647.2h2.0M1768 649.0h2.4M1768 650.8h3.3M1768 653.4h1.4M1768 655.1h3.1M1768 658.2h3.0M1768 660.2h4.1M1768 661.4h1.0M1768 664.2h2.2M1768 665.5h2.7M1768 668.7h2.6M1768 670.6h1.1M1768 671.9h3.9M1768 674.1h4.0M1768 675.4h1.6M1768 676.7h2.2M1768 678.0h1.7M1768 680.0h1.8M1768 681.3h0.9M1768 684.5h1.4M1768 686.7h2.2M1768 689.0h1.1M1768 690.8h1.2M1768 693.1h3.9M1768 695.5h3.7M1768 697.1h0.9M1768 699.4h2.5M1768 701.7h2.1M1768 704.2h3.3M1768 707.2h1.8M1768 709.3h3.6M1768 710.9h1.2M1768 712.8h1.1M1768 715.5h3.6M1768 717.3h1.2M1768 718.7h1.6M1768 720.1h2.3M1768 722.4h1.6M1768 723.7h3.2M1768 725.0h1.5M1768 726.8h2.1M1768 728.2h2.2M1768 730.0h3.4M1768 732.4h3.8M1768 734.9h3.4M1768 737.2h2.3M1768 740.0h3.0M1768 743.2h3.3M1768 745.8h1.7M1768 748.6h2.1M1768 750.0h1.0M1768 751.6h1.7M1768 754.1h1.8M1768 755.5h3.4M1768 757.8h0.9M1768 759.1h1.2M1768 761.0h3.7M1768 764.1h2.9M1768 765.7h2.3M1768 767.7h1.9M1768 768.9h2.8M1768 771.8h3.3M1768 773.1h2.6M1768 774.7h3.2M1768 776.8h4.0M1768 779.6h1.2M1768 781.4h3.9M1768 783.5h2.3M1768 785.6h3.4M1768 788.7h2.6M1768 791.8h2.8M1768 793.2h3.6M1768 795.3h1.0M1768 798.4h0.9M1768 800.8h2.4M1768 803.7h2.1M1768 805.4h1.7M1768 807.0h2.7M1768 808.9h3.4M1768 810.6h2.0M1768 812.3h4.1M1768 815.1h3.7M1768 817.6h2.2M1768 819.1h3.6M1768 821.2h0.9M1768 822.8h1.1M1768 825.4h3.9M1768 827.0h3.5M1768 828.9h3.1M1768 831.8h2.9M1768 834.6h2.1M1768 835.8h2.5M1768 838.2h1.4M1768 840.2h1.9M1768 841.4h1.9M1768 843.4h2.4M1768 846.0h2.2M1768 849.2h3.6M1768 852.2h3.2M1768 854.7h2.6M1768 857.5h2.0M1768 859.9h3.1M1768 862.2h1.8M1768 863.5h1.1M1768 865.4h2.8M1768 868.2h3.2M1768 870.0h4.0M1768 871.7h3.2M1768 873.1h3.4M1768 875.6h4.1M1768 878.6h3.1M1768 881.5h3.3M1768 883.9h1.5M1768 886.1h3.8M1768 887.8h4.1M1768 890.1h2.1M1768 891.3h2.1M1768 892.9h3.0M1768 895.9h3.9M1768 898.3h2.1M1768 899.7h3.1M1768 902.0h3.2M1768 904.0h3.8M1768 905.6h1.8M1768 907.3h2.9M1768 910.3h1.4M1768 912.8h3.4M1768 914.4h1.0M1768 916.8h3.6M1768 919.7h3.3M1768 921.8h2.2M1768 924.0h3.9M1768 925.8h1.8M1768 928.2h4.1M1768 929.8h0.9M1768 931.2h2.7M1768 933.6h1.4M1768 935.2h2.8M1768 937.7h3.1M1768 940.4h1.0M1768 942.5h3.6M1768 945.7h1.9M1768 948.6h3.0M1768 951.6h1.6M1768 954.2h3.7M1768 956.4h1.1M1768 957.9h1.3M1768 959.3h1.3M1768 961.8h1.2M1768 964.5h3.3M1768 967.3h3.5M1768 969.9h3.9M1768 973.1h2.9M1768 976.2h1.2M1768 977.6h1.0M1768 979.2h2.1M1768 981.3h3.1M1768 984.0h1.1M1768 986.0h2.6M1768 988.0h1.2M1768 990.4h2.1M1768 992.9h2.5M1768 996.0h4.0M1768 997.4h3.4M1768 1000.0h1.8M1768 1001.5h2.4M1768 1003.4h3.3M1768 1006.4h2.1M1768 1008.2h2.5M1768 1010.8h3.5M1768 1013.1h1.8M1768 1015.0h3.7M1768 1017.3h1.0M1768 1019.3h1.6M1768 1021.8h1.0M1768 1023.6h1.1M1768 1025.7h4.1M1768 1028.0h2.1M1768 1031.1h1.1M1768 1033.0h3.6M1768 1034.2h3.4M1768 1036.1h0.9M1768 1037.8h2.4M1768 1039.8h2.6M1768 1041.1h1.5M1768 1044.2h2.3M1768 1046.4h1.1M1768 1048.1h4.0M1768 1050.7h2.5M1768 1052.0h2.1M1768 1054.8h2.3M1768 1057.2h3.9M1768 1059.7h3.0M1768 1060.9h0.9M1768 1063.7h2.2M1768 1066.6h3.6M1768 1069.6h2.1M1768 1072.8h3.4M1768 1075.8h1.3M1768 1078.6h2.2M1768 1081.7h4.2M1768 1083.4h2.2M1768 1085.1h2.4M1768 1086.9h3.1M1768 1088.3h1.4M1768 1090.4h1.1M1768 1092.4h3.9M1768 1095.4h1.5M1768 1096.6h3.6M1768 1099.7h2.8M1768 1101.2h1.6M1768 1104.2h4.0M1768 1105.5h1.4M1768 1107.6h1.7M1768 1110.3h2.1M1768 1113.0h1.3M1768 1115.3h4.1M1768 1117.9h1.1M1768 1119.3h3.0M1768 1121.2h2.1M1768 1123.4h2.8M1768 1126.5h1.6M1768 1128.9h1.7M1768 1131.2h3.3M1768 1132.6h2.4M1768 1135.2h0.8M1768 1138.0h2.2M1768 1140.2h2.9M1768 1143.0h1.0M1768 1145.2h0.9M1768 1147.1h2.0M1768 1148.4h1.8M1768 1150.5h3.0M1768 1153.5h2.1M1768 1155.8h3.2M1768 1158.9h4.0M1768 1162.0h1.8M1768 1163.6h4.0M1768 1164.9h2.3M1768 1167.6h2.6M1768 1169.6h3.9M1768 1171.4h2.7M1768 1174.2h1.3M1768 1176.1h2.5M1768 1178.5h1.5M1768 1180.6h1.0M1768 1182.0h2.0M1768 1183.4h4.1M1768 1185.2h1.7M1768 1187.9h3.3M1768 1189.7h3.6M1768 1192.1h2.1M1768 1194.6h1.6M1768 1196.3h3.8M1768 1198.4h3.9M1768 1199.9h1.3M1768 1201.2h3.3M1768 1203.6h0.8M1768 1204.8h3.6M1768 1207.0h3.8M1768 1208.3h2.8M1768 1209.7h3.3M1768 1212.2h2.9M1768 1213.8h4.0M1768 1215.2h1.0M1768 1217.8h1.1M1768 1219.1h2.4M1768 1221.6h3.8M1768 1224.3h1.0M1768 1226.8h3.7M1768 1228.2h3.4M1768 1229.9h1.8M1768 1231.1h3.4M1768 1233.4h3.9M1768 1235.5h1.3M1768 1237.1h1.7M1768 1240.2h1.5M1768 1241.6h2.0M1768 1242.9h2.2M1768 1245.4h3.0M1768 1246.9h1.3M1768 1249.1h3.1M1768 1251.2h2.7M1768 1254.2h1.3M1768 1256.0h2.5M1768 1258.2h3.9M1768 1260.6h3.1M1768 1262.6h3.5M1768 1265.5h1.8M1768 1266.9h1.7M1768 1268.8h3.8M1768 1270.5h2.9M1768 1273.0h4.1M1768 1274.4h3.4M1768 1276.3h1.2M1768 1278.8h3.7M1768 1281.1h1.0M1768 1284.3h2.1M1768 1286.8h3.3M1768 1288.5h2.2M1768 1290.3h1.1M1768 1291.7h3.2M1768 1293.7h3.8M1768 1295.0h1.8M1768 1296.6h4.0M1768 1299.4h3.8M1768 1301.6h1.2M1768 1303.6h1.6M1768 1304.9h2.7M1768 1306.6h1.2M1768 1308.9h4.0M1768 1312.0h2.4M1768 1313.4h3.4M1768 1314.8h2.6M1768 1316.2h4.2M1768 1318.4h2.3M1768 1320.2h2.7M1768 1323.3h2.3M1768 1324.9h2.5M1768 1328.0h2.1M1768 1330.5h3.9M1768 1332.3h3.6M1768 1334.6h1.3M1768 1335.9h4.0M1768 1338.0h2.3M1768 1341.0h2.8M1768 1343.2h1.8M1768 1345.9h1.7M1768 1348.1h3.4M1768 1350.5h1.3M1768 1352.1h3.2M1768 1354.7h1.1M1768 1357.9h1.3M1768 1359.5h1.1M1768 1361.6h2.9M1768 1364.5h1.4M1768 1367.1h1.2M1768 1369.4h1.7M1768 1371.3h1.0M1768 1374.0h1.2M1768 1376.7h1.9M1768 1379.1h3.0M1768 1381.3h3.8M1768 1384.3h1.8M1768 1386.2h3.8M1768 1387.7h2.2M1768 1389.7h4.1M1768 1391.1h3.0M1768 1393.9h3.3M1768 1395.1h4.0M1768 1396.9h3.7M1768 1399.4h2.2M1768 1402.3h3.1M1768 1404.2h3.3M1768 1406.4h3.2M1768 1408.8h3.5M1768 1410.3h2.5M1768 1411.5h3.5M1768 1414.3h3.6M1768 1415.5h2.6M1768 1417.7h1.2M1768 1419.3h4.1M1768 1422.2h1.6M1768 1425.1h3.0M1768 1427.0h3.0M1768 1428.7h1.7M1768 1429.9h3.0M1768 1432.3h3.3M1768 1434.5h2.3M1768 1436.3h3.3M1768 1438.2h2.8M1768 1441.0h2.3M1768 1443.5h1.0M1768 1445.3h3.7M1768 1446.8h1.0M1768 1448.0h3.4M1768 1449.4h2.4M1768 1451.5h3.5M1768 1453.6h2.6M1768 1454.9h3.5M1768 1457.6h2.9M1768 1460.5h2.9M1768 1463.1h3.7M1768 1465.5h0.9M1768 1468.5h4.2M1768 1470.1h1.0M1768 1472.0h1.1M1768 1473.9h1.1M1768 1475.6h0.8M1768 1477.6h1.8M1768 1480.3h2.1M1768 1481.8h4.0M1768 1484.8h3.1M1768 1486.4h2.2M1768 1488.5h2.2M1768 1489.8h2.3M1768 1492.5h3.2M1768 1495.5h3.1M1768 1498.2h3.8M1768 1501.2h3.5M1768 1503.2h3.0M1768 1505.8h3.8M1768 1508.4h2.3M1768 1510.0h1.9M1768 1511.7h3.1M1768 1514.4h1.5M1768 1516.7h3.7M1768 1518.6h1.1M1768 1521.0h2.0M1768 1522.5h1.8M1768 1523.7h1.3M1768 1525.8h1.2M1768 1527.0h2.7M1768 1530.1h3.6M1768 1532.0h3.9M1768 1533.3h1.3M1768 1534.5h1.0M1768 1536.9h3.4M1768 1539.1h3.5M1768 1541.2h3.9M1768 1543.6h2.6M1768 1545.1h2.3M1768 1547.2h3.6M1768 1548.9h1.8M1768 1551.7h1.0M1768 1554.0h1.5M1768 1556.5h2.8M1768 1557.9h3.3M1768 1559.9h1.9M1768 1562.8h3.4M1768 1564.7h3.1M1768 1566.1h2.6M1768 1567.5h3.0M1768 1570.5h3.0M1768 1571.8h2.5M1768 1573.9h2.3M1768 1575.4h1.7M1768 1577.5h1.0M1768 1580.1h1.6M1768 1581.9h1.1M1768 1583.7h4.0M1768 1585.4h1.1M1768 1587.3h4.0M1768 1588.7h2.0M1768 1590.3h3.1M1768 1592.5h1.1M1768 1595.4h1.9M1768 1597.9h2.3M1768 1600.9h1.0M1768 1602.5h1.8M1768 1604.3h3.6M1768 1606.5h2.0M1768 1608.7h3.7M1768 1611.0h2.3M1768 1613.5h2.9M1768 1615.6h2.2M1768 1617.0h2.3M1768 1620.0h1.8M1768 1621.9h2.9M1768 1624.3h1.4M1768 1626.4h3.3M1768 1627.7h1.2M1768 1630.4h3.9M1768 1631.7h1.1M1768 1634.2h1.8M1768 1636.7h0.9M1768 1638.8h1.3M1768 1640.7h3.2M1768 1642.9h3.7M1768 1645.8h2.9M1768 1648.7h1.4M1768 1650.8h1.9M1768 1653.3h1.2M1768 1656.2h2.1M1768 1659.0h4.0M1768 1662.1h2.1M1768 1665.0h4.2M1768 1666.4h3.3M1768 1669.1h2.4M1768 1670.9h1.4M1768 1672.9h4.0M1768 1674.9h1.7M1768 1677.3h2.3M1768 1679.7h2.3M1768 1681.5h0.9M1768 1684.4h3.0M1768 1686.0h2.5M1768 1688.4h2.5M1768 1691.4h3.4M1768 1693.2h2.0M1768 1695.6h1.4M1768 1698.7h1.0M1768 1700.9h1.7M1768 1703.2h1.0M1768 1704.8h4.2M1768 1707.6h1.6M1768 1709.7h0.9" stroke="#000" stroke-width="1.6" fill="none"/>
<rect x="1086.4" y="112.9" width="672.7" height="1607.7" fill="none" stroke="#000" stroke-opacity="0.55" stroke-width="1"/>
<text x="1098.68" y="1753.60" font-size="30.11" textLength="85.42" lengthAdjust="spacingAndGlyphs" font-weight="bold">Con_1</text>
<text x="1213.97" y="1753.60" font-size="30.11" textLength="86.63" lengthAdjust="spacingAndGlyphs" font-weight="bold">Con_2</text>
<text x="1324.44" y="1753.60" font-size="30.11" textLength="88.41" lengthAdjust="spacingAndGlyphs" font-weight="bold">Con_3</text>
<text x="1435.62" y="1753.60" font-size="30.11" textLength="88.46" lengthAdjust="spacingAndGlyphs" font-weight="bold">HFD_1</text>
<text x="1546.48" y="1753.60" font-size="30.11" textLength="89.99" lengthAdjust="spacingAndGlyphs" font-weight="bold">HFD_2</text>
<text x="1659.39" y="1753.60" font-size="30.11" textLength="89.60" lengthAdjust="spacingAndGlyphs" font-weight="bold">HFD_3</text>
<text x="1803.16" y="123.70" font-size="23.42" textLength="70.68" lengthAdjust="spacingAndGlyphs" font-weight="bold">Group</text>
<rect x="1803.2" y="143.3" width="38.5" height="38.2" fill="#00d8e0"/><rect x="1803.2" y="181.5" width="38.5" height="37.9" fill="#fa8f87"/>
<text x="1848.25" y="161.90" font-size="23.85" textLength="46.11" lengthAdjust="spacingAndGlyphs" font-weight="bold">Con</text>
<text x="1848.71" y="199.70" font-size="23.27" textLength="48.50" lengthAdjust="spacingAndGlyphs" font-weight="bold">HFD</text>
<defs><linearGradient id="cb" x1="0" y1="0" x2="0" y2="1"><stop offset="0" stop-color="#ff0000"/><stop offset="0.472" stop-color="#000000"/><stop offset="1" stop-color="#008200"/></linearGradient></defs>
<rect x="1803.1" y="271.8" width="24.1" height="356.6" fill="url(#cb)" stroke="#000" stroke-opacity="0.35" stroke-width="1"/>
<text x="1836.04" y="299.20" font-size="23.37" textLength="32.49" lengthAdjust="spacingAndGlyphs" font-weight="bold">1.5</text>
<text x="1836.04" y="348.40" font-size="23.37" textLength="13.00" lengthAdjust="spacingAndGlyphs" font-weight="bold">1</text>
<text x="1836.57" y="398.20" font-size="23.37" textLength="32.49" lengthAdjust="spacingAndGlyphs" font-weight="bold">0.5</text>
<text x="1836.57" y="448.00" font-size="23.37" textLength="13.00" lengthAdjust="spacingAndGlyphs" font-weight="bold">0</text>
<text x="1837.17" y="498.20" font-size="23.37" textLength="40.27" lengthAdjust="spacingAndGlyphs" font-weight="bold">-0.5</text>
<text x="1837.17" y="548.00" font-size="23.37" textLength="20.78" lengthAdjust="spacingAndGlyphs" font-weight="bold">-1</text>
<text x="1837.17" y="597.80" font-size="23.37" textLength="40.27" lengthAdjust="spacingAndGlyphs" font-weight="bold">-1.5</text>
</svg>
</body></html>
